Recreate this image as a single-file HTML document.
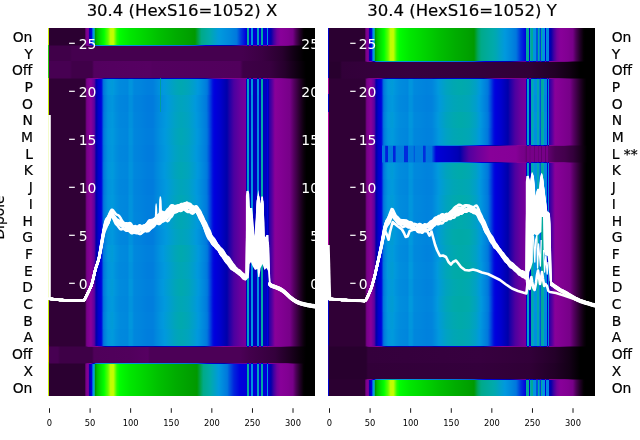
<!DOCTYPE html>
<html lang="en"><head><meta charset="utf-8"><title>30.4 (HexS16=1052)</title>
<style>
html,body{margin:0;padding:0;background:#fff;}
body{width:640px;height:440px;overflow:hidden;}
svg{display:block;will-change:transform;}
</style></head><body>
<svg width="640" height="440" viewBox="0 0 640 440">
<defs>
<linearGradient id="g0" gradientUnits="userSpaceOnUse" x1="48.00" y1="0" x2="315.30" y2="0"><stop offset="0.0000" stop-color="#2b0031"/><stop offset="0.1369" stop-color="#2b0031"/><stop offset="0.1421" stop-color="#770088"/><stop offset="0.1437" stop-color="#7a008b"/><stop offset="0.1508" stop-color="#880099"/><stop offset="0.1556" stop-color="#0000aa"/><stop offset="0.1627" stop-color="#0000dd"/><stop offset="0.1674" stop-color="#0077dd"/><stop offset="0.1684" stop-color="#007edd"/><stop offset="0.1703" stop-color="#0099dd"/><stop offset="0.1727" stop-color="#00aaaa"/><stop offset="0.1732" stop-color="#00aaa3"/><stop offset="0.1752" stop-color="#00aa88"/><stop offset="0.1777" stop-color="#009900"/><stop offset="0.1833" stop-color="#00bb00"/><stop offset="0.1945" stop-color="#00dd00"/><stop offset="0.2095" stop-color="#00ff00"/><stop offset="0.2245" stop-color="#5dff00"/><stop offset="0.2338" stop-color="#bbff00"/><stop offset="0.2357" stop-color="#c0fd00"/><stop offset="0.2413" stop-color="#c5fc00"/><stop offset="0.2450" stop-color="#bbff00"/><stop offset="0.2469" stop-color="#a8ff00"/><stop offset="0.2581" stop-color="#25ff00"/><stop offset="0.2675" stop-color="#00ff00"/><stop offset="0.2768" stop-color="#00f800"/><stop offset="0.3068" stop-color="#00e700"/><stop offset="0.3348" stop-color="#00dd00"/><stop offset="0.3629" stop-color="#00d300"/><stop offset="0.4190" stop-color="#00be00"/><stop offset="0.4302" stop-color="#00bb00"/><stop offset="0.4751" stop-color="#00ad00"/><stop offset="0.5238" stop-color="#00a100"/><stop offset="0.5499" stop-color="#009900"/><stop offset="0.5686" stop-color="#00a76d"/><stop offset="0.5743" stop-color="#00aa88"/><stop offset="0.5911" stop-color="#00aa9c"/><stop offset="0.6039" stop-color="#00aaaa"/><stop offset="0.6135" stop-color="#00a5b9"/><stop offset="0.6360" stop-color="#009bd8"/><stop offset="0.6435" stop-color="#0099dd"/><stop offset="0.6584" stop-color="#0092dd"/><stop offset="0.6809" stop-color="#0088dd"/><stop offset="0.7033" stop-color="#007add"/><stop offset="0.7063" stop-color="#0077dd"/><stop offset="0.7183" stop-color="#0047dd"/><stop offset="0.7407" stop-color="#0000dd"/><stop offset="0.7419" stop-color="#0000d8"/><stop offset="0.7434" stop-color="#0000d8"/><stop offset="0.7434" stop-color="#0000dc"/><stop offset="0.7439" stop-color="#0077dd"/><stop offset="0.7444" stop-color="#0099dc"/><stop offset="0.7449" stop-color="#00aaab"/><stop offset="0.7450" stop-color="#00aaa3"/><stop offset="0.7507" stop-color="#00aaa3"/><stop offset="0.7508" stop-color="#00aaab"/><stop offset="0.7513" stop-color="#0099dc"/><stop offset="0.7518" stop-color="#0077dd"/><stop offset="0.7523" stop-color="#0000dc"/><stop offset="0.7523" stop-color="#0000d8"/><stop offset="0.7587" stop-color="#0000d8"/><stop offset="0.7588" stop-color="#0000dc"/><stop offset="0.7597" stop-color="#0077dd"/><stop offset="0.7604" stop-color="#0092dd"/><stop offset="0.7667" stop-color="#0092dd"/><stop offset="0.7675" stop-color="#0077dd"/><stop offset="0.7684" stop-color="#0000dc"/><stop offset="0.7684" stop-color="#0000d8"/><stop offset="0.7810" stop-color="#0000d8"/><stop offset="0.7810" stop-color="#0002dd"/><stop offset="0.7816" stop-color="#0075dd"/><stop offset="0.7823" stop-color="#0099dd"/><stop offset="0.7826" stop-color="#00a3be"/><stop offset="0.7886" stop-color="#00a3be"/><stop offset="0.7890" stop-color="#0099dd"/><stop offset="0.7896" stop-color="#0075dd"/><stop offset="0.7902" stop-color="#0002dd"/><stop offset="0.7903" stop-color="#0000d8"/><stop offset="0.7954" stop-color="#0000d8"/><stop offset="0.7954" stop-color="#0000dc"/><stop offset="0.7959" stop-color="#0077dd"/><stop offset="0.7964" stop-color="#0099dc"/><stop offset="0.7969" stop-color="#00aaab"/><stop offset="0.7970" stop-color="#00aaa3"/><stop offset="0.8034" stop-color="#00aaa3"/><stop offset="0.8035" stop-color="#00aaab"/><stop offset="0.8040" stop-color="#0099dc"/><stop offset="0.8045" stop-color="#0077dd"/><stop offset="0.8051" stop-color="#0000dc"/><stop offset="0.8051" stop-color="#0000d8"/><stop offset="0.8182" stop-color="#0000d8"/><stop offset="0.8183" stop-color="#0000dc"/><stop offset="0.8192" stop-color="#0077dd"/><stop offset="0.8199" stop-color="#0092dd"/><stop offset="0.8225" stop-color="#0092dd"/><stop offset="0.8232" stop-color="#0077dd"/><stop offset="0.8241" stop-color="#0000dc"/><stop offset="0.8242" stop-color="#0000d8"/><stop offset="0.8253" stop-color="#0000c8"/><stop offset="0.8279" stop-color="#0000be"/><stop offset="0.8345" stop-color="#0000aa"/><stop offset="0.8361" stop-color="#0e00a8"/><stop offset="0.8455" stop-color="#4400a2"/><stop offset="0.8567" stop-color="#72009c"/><stop offset="0.8703" stop-color="#880099"/><stop offset="0.8754" stop-color="#870098"/><stop offset="0.8979" stop-color="#810092"/><stop offset="0.9128" stop-color="#79008a"/><stop offset="0.9161" stop-color="#770088"/><stop offset="0.9278" stop-color="#4c0057"/><stop offset="0.9428" stop-color="#210026"/><stop offset="0.9559" stop-color="#050005"/><stop offset="0.9615" stop-color="#000000"/></linearGradient>
<linearGradient id="g1" gradientUnits="userSpaceOnUse" x1="48.00" y1="0" x2="315.30" y2="0"><stop offset="0.0000" stop-color="#400049"/><stop offset="0.0823" stop-color="#400049"/><stop offset="0.0898" stop-color="#45004f"/><stop offset="0.7258" stop-color="#45004f"/><stop offset="0.8006" stop-color="#3b0043"/><stop offset="0.8754" stop-color="#29002f"/><stop offset="0.9203" stop-color="#110014"/><stop offset="0.9577" stop-color="#000000"/></linearGradient>
<linearGradient id="g2" gradientUnits="userSpaceOnUse" x1="48.00" y1="0" x2="315.30" y2="0"><stop offset="0.0000" stop-color="#470052"/><stop offset="0.0823" stop-color="#470052"/><stop offset="0.0898" stop-color="#400049"/><stop offset="0.1646" stop-color="#400049"/><stop offset="0.1721" stop-color="#53005f"/><stop offset="0.3816" stop-color="#560062"/><stop offset="0.3891" stop-color="#53005f"/><stop offset="0.7183" stop-color="#51005c"/><stop offset="0.7295" stop-color="#3e0047"/><stop offset="0.8305" stop-color="#390041"/><stop offset="0.8866" stop-color="#26002c"/><stop offset="0.9353" stop-color="#0e0010"/><stop offset="0.9652" stop-color="#000000"/></linearGradient>
<linearGradient id="g3" gradientUnits="userSpaceOnUse" x1="48.00" y1="0" x2="315.30" y2="0"><stop offset="0.0000" stop-color="#300036"/><stop offset="0.1384" stop-color="#300036"/><stop offset="0.1449" stop-color="#770088"/><stop offset="0.1470" stop-color="#7a008b"/><stop offset="0.1590" stop-color="#870098"/><stop offset="0.1607" stop-color="#880099"/><stop offset="0.1732" stop-color="#5f009e"/><stop offset="0.1803" stop-color="#0000aa"/><stop offset="0.1893" stop-color="#0000ce"/><stop offset="0.1973" stop-color="#0000dd"/><stop offset="0.2001" stop-color="#000ddd"/><stop offset="0.2076" stop-color="#0072dd"/><stop offset="0.2083" stop-color="#0077dd"/><stop offset="0.2151" stop-color="#0086dd"/><stop offset="0.2245" stop-color="#0097dd"/><stop offset="0.2310" stop-color="#0099dd"/><stop offset="0.2413" stop-color="#009ad9"/><stop offset="0.2447" stop-color="#0099dd"/><stop offset="0.2544" stop-color="#0092dd"/><stop offset="0.2694" stop-color="#008add"/><stop offset="0.2974" stop-color="#0087dd"/><stop offset="0.3049" stop-color="#0094dd"/><stop offset="0.3143" stop-color="#0094dd"/><stop offset="0.3217" stop-color="#0087dd"/><stop offset="0.3442" stop-color="#0085dd"/><stop offset="0.3704" stop-color="#007fdd"/><stop offset="0.3928" stop-color="#007fdd"/><stop offset="0.4040" stop-color="#0087dd"/><stop offset="0.4190" stop-color="#0092dd"/><stop offset="0.4337" stop-color="#0099dd"/><stop offset="0.4489" stop-color="#009dd1"/><stop offset="0.4751" stop-color="#00a4bc"/><stop offset="0.4976" stop-color="#00a8b0"/><stop offset="0.5238" stop-color="#00a4bb"/><stop offset="0.5462" stop-color="#009ece"/><stop offset="0.5604" stop-color="#0099dd"/><stop offset="0.5649" stop-color="#0096dd"/><stop offset="0.5874" stop-color="#0082dd"/><stop offset="0.5956" stop-color="#0077dd"/><stop offset="0.6023" stop-color="#0058dd"/><stop offset="0.6173" stop-color="#000ddd"/><stop offset="0.6241" stop-color="#0000dd"/><stop offset="0.6435" stop-color="#0000ce"/><stop offset="0.6622" stop-color="#0000b4"/><stop offset="0.6697" stop-color="#0000aa"/><stop offset="0.6771" stop-color="#1b00a7"/><stop offset="0.6958" stop-color="#4c00a0"/><stop offset="0.7183" stop-color="#67009d"/><stop offset="0.7407" stop-color="#78009b"/><stop offset="0.7415" stop-color="#0000aa"/><stop offset="0.7419" stop-color="#0000c0"/><stop offset="0.7434" stop-color="#0000c0"/><stop offset="0.7437" stop-color="#0000dd"/><stop offset="0.7442" stop-color="#0078dd"/><stop offset="0.7447" stop-color="#0099dd"/><stop offset="0.7450" stop-color="#00a2c1"/><stop offset="0.7507" stop-color="#00a2c1"/><stop offset="0.7510" stop-color="#0099dd"/><stop offset="0.7515" stop-color="#0078dd"/><stop offset="0.7520" stop-color="#0000dd"/><stop offset="0.7523" stop-color="#0000c0"/><stop offset="0.7587" stop-color="#0000c0"/><stop offset="0.7591" stop-color="#0000dc"/><stop offset="0.7597" stop-color="#0074dd"/><stop offset="0.7604" stop-color="#0096dd"/><stop offset="0.7667" stop-color="#0096dd"/><stop offset="0.7674" stop-color="#0074dd"/><stop offset="0.7681" stop-color="#0000dc"/><stop offset="0.7684" stop-color="#0000c0"/><stop offset="0.7810" stop-color="#0000c0"/><stop offset="0.7814" stop-color="#0000dd"/><stop offset="0.7821" stop-color="#0076dd"/><stop offset="0.7826" stop-color="#008fdd"/><stop offset="0.7886" stop-color="#008fdd"/><stop offset="0.7892" stop-color="#0076dd"/><stop offset="0.7899" stop-color="#0000dd"/><stop offset="0.7903" stop-color="#0000c0"/><stop offset="0.7954" stop-color="#0000c0"/><stop offset="0.7956" stop-color="#0003dd"/><stop offset="0.7961" stop-color="#0078dd"/><stop offset="0.7965" stop-color="#0099dc"/><stop offset="0.7970" stop-color="#00aaaa"/><stop offset="0.7970" stop-color="#00aaa4"/><stop offset="0.8034" stop-color="#00aaa4"/><stop offset="0.8035" stop-color="#00aaaa"/><stop offset="0.8039" stop-color="#0099dc"/><stop offset="0.8044" stop-color="#0078dd"/><stop offset="0.8048" stop-color="#0003dd"/><stop offset="0.8051" stop-color="#0000c0"/><stop offset="0.8182" stop-color="#0000c0"/><stop offset="0.8199" stop-color="#0000dd"/><stop offset="0.8225" stop-color="#0000dd"/><stop offset="0.8242" stop-color="#0000c0"/><stop offset="0.8253" stop-color="#0000b2"/><stop offset="0.8262" stop-color="#0000aa"/><stop offset="0.8279" stop-color="#2900a5"/><stop offset="0.8380" stop-color="#5200a0"/><stop offset="0.8492" stop-color="#880099"/><stop offset="0.8679" stop-color="#830094"/><stop offset="0.8866" stop-color="#7d008e"/><stop offset="0.9053" stop-color="#770088"/><stop offset="0.9203" stop-color="#53005f"/><stop offset="0.9315" stop-color="#3c0044"/><stop offset="0.9465" stop-color="#1d0021"/><stop offset="0.9577" stop-color="#0a000b"/><stop offset="0.9671" stop-color="#000000"/></linearGradient>
<linearGradient id="g4" gradientUnits="userSpaceOnUse" x1="48.00" y1="0" x2="315.30" y2="0"><stop offset="0.0000" stop-color="#300036"/><stop offset="0.1384" stop-color="#300036"/><stop offset="0.1449" stop-color="#770088"/><stop offset="0.1470" stop-color="#7a008b"/><stop offset="0.1590" stop-color="#870098"/><stop offset="0.1607" stop-color="#880099"/><stop offset="0.1732" stop-color="#5f009e"/><stop offset="0.1803" stop-color="#0000aa"/><stop offset="0.1893" stop-color="#0000ce"/><stop offset="0.1975" stop-color="#0000dd"/><stop offset="0.2001" stop-color="#000cdd"/><stop offset="0.2076" stop-color="#0068dd"/><stop offset="0.2098" stop-color="#0077dd"/><stop offset="0.2151" stop-color="#0082dd"/><stop offset="0.2245" stop-color="#0092dd"/><stop offset="0.2413" stop-color="#0096dd"/><stop offset="0.2544" stop-color="#008cdd"/><stop offset="0.2694" stop-color="#0086dd"/><stop offset="0.2974" stop-color="#0083dd"/><stop offset="0.3049" stop-color="#008fdd"/><stop offset="0.3143" stop-color="#008fdd"/><stop offset="0.3217" stop-color="#0083dd"/><stop offset="0.3442" stop-color="#0081dd"/><stop offset="0.3704" stop-color="#007bdd"/><stop offset="0.3928" stop-color="#007bdd"/><stop offset="0.4040" stop-color="#0083dd"/><stop offset="0.4190" stop-color="#008cdd"/><stop offset="0.4462" stop-color="#0099dd"/><stop offset="0.4489" stop-color="#009adb"/><stop offset="0.4751" stop-color="#00a0c7"/><stop offset="0.4976" stop-color="#00a4bc"/><stop offset="0.5238" stop-color="#00a1c6"/><stop offset="0.5462" stop-color="#009bd8"/><stop offset="0.5513" stop-color="#0099dd"/><stop offset="0.5649" stop-color="#0090dd"/><stop offset="0.5874" stop-color="#007edd"/><stop offset="0.5932" stop-color="#0077dd"/><stop offset="0.6023" stop-color="#0051dd"/><stop offset="0.6173" stop-color="#000cdd"/><stop offset="0.6237" stop-color="#0000dd"/><stop offset="0.6435" stop-color="#0000ce"/><stop offset="0.6622" stop-color="#0000b4"/><stop offset="0.6697" stop-color="#0000aa"/><stop offset="0.6771" stop-color="#1b00a7"/><stop offset="0.6958" stop-color="#4c00a0"/><stop offset="0.7183" stop-color="#67009d"/><stop offset="0.7407" stop-color="#78009b"/><stop offset="0.7415" stop-color="#0000aa"/><stop offset="0.7419" stop-color="#0000c0"/><stop offset="0.7434" stop-color="#0000c0"/><stop offset="0.7437" stop-color="#0002dd"/><stop offset="0.7443" stop-color="#0075dd"/><stop offset="0.7449" stop-color="#0099dd"/><stop offset="0.7450" stop-color="#009fcc"/><stop offset="0.7507" stop-color="#009fcc"/><stop offset="0.7508" stop-color="#0099dd"/><stop offset="0.7514" stop-color="#0075dd"/><stop offset="0.7520" stop-color="#0002dd"/><stop offset="0.7523" stop-color="#0000c0"/><stop offset="0.7587" stop-color="#0000c0"/><stop offset="0.7591" stop-color="#0000dd"/><stop offset="0.7598" stop-color="#0074dd"/><stop offset="0.7604" stop-color="#0090dd"/><stop offset="0.7667" stop-color="#0090dd"/><stop offset="0.7673" stop-color="#0074dd"/><stop offset="0.7680" stop-color="#0000dd"/><stop offset="0.7684" stop-color="#0000c0"/><stop offset="0.7810" stop-color="#0000c0"/><stop offset="0.7814" stop-color="#0000dd"/><stop offset="0.7822" stop-color="#0076dd"/><stop offset="0.7826" stop-color="#008add"/><stop offset="0.7886" stop-color="#008add"/><stop offset="0.7891" stop-color="#0076dd"/><stop offset="0.7899" stop-color="#0000dd"/><stop offset="0.7903" stop-color="#0000c0"/><stop offset="0.7954" stop-color="#0000c0"/><stop offset="0.7956" stop-color="#0000dc"/><stop offset="0.7961" stop-color="#0075dd"/><stop offset="0.7966" stop-color="#0098dd"/><stop offset="0.7970" stop-color="#00a8af"/><stop offset="0.8034" stop-color="#00a8af"/><stop offset="0.8039" stop-color="#0098dd"/><stop offset="0.8043" stop-color="#0075dd"/><stop offset="0.8048" stop-color="#0000dc"/><stop offset="0.8051" stop-color="#0000c0"/><stop offset="0.8182" stop-color="#0000c0"/><stop offset="0.8199" stop-color="#0000dd"/><stop offset="0.8225" stop-color="#0000dd"/><stop offset="0.8242" stop-color="#0000c0"/><stop offset="0.8253" stop-color="#0000b2"/><stop offset="0.8262" stop-color="#0000aa"/><stop offset="0.8279" stop-color="#2900a5"/><stop offset="0.8380" stop-color="#5200a0"/><stop offset="0.8492" stop-color="#880099"/><stop offset="0.8679" stop-color="#830094"/><stop offset="0.8866" stop-color="#7d008e"/><stop offset="0.9053" stop-color="#770088"/><stop offset="0.9203" stop-color="#53005f"/><stop offset="0.9315" stop-color="#3c0044"/><stop offset="0.9465" stop-color="#1d0021"/><stop offset="0.9577" stop-color="#0a000b"/><stop offset="0.9671" stop-color="#000000"/></linearGradient>
<linearGradient id="g5" gradientUnits="userSpaceOnUse" x1="48.00" y1="0" x2="315.30" y2="0"><stop offset="0.0000" stop-color="#300036"/><stop offset="0.1384" stop-color="#300036"/><stop offset="0.1449" stop-color="#770088"/><stop offset="0.1470" stop-color="#7a008b"/><stop offset="0.1590" stop-color="#870098"/><stop offset="0.1607" stop-color="#880099"/><stop offset="0.1732" stop-color="#5f009e"/><stop offset="0.1803" stop-color="#0000aa"/><stop offset="0.1893" stop-color="#0000ce"/><stop offset="0.1975" stop-color="#0000dd"/><stop offset="0.2001" stop-color="#000cdd"/><stop offset="0.2076" stop-color="#006bdd"/><stop offset="0.2092" stop-color="#0077dd"/><stop offset="0.2151" stop-color="#0083dd"/><stop offset="0.2245" stop-color="#0094dd"/><stop offset="0.2413" stop-color="#0098dd"/><stop offset="0.2544" stop-color="#008edd"/><stop offset="0.2694" stop-color="#0087dd"/><stop offset="0.2974" stop-color="#0085dd"/><stop offset="0.3049" stop-color="#0091dd"/><stop offset="0.3143" stop-color="#0091dd"/><stop offset="0.3217" stop-color="#0085dd"/><stop offset="0.3442" stop-color="#0082dd"/><stop offset="0.3704" stop-color="#007cdd"/><stop offset="0.3928" stop-color="#007cdd"/><stop offset="0.4040" stop-color="#0085dd"/><stop offset="0.4190" stop-color="#008edd"/><stop offset="0.4418" stop-color="#0099dd"/><stop offset="0.4489" stop-color="#009bd8"/><stop offset="0.4751" stop-color="#00a2c4"/><stop offset="0.4976" stop-color="#00a5b8"/><stop offset="0.5238" stop-color="#00a2c2"/><stop offset="0.5462" stop-color="#009cd5"/><stop offset="0.5545" stop-color="#0099dd"/><stop offset="0.5649" stop-color="#0092dd"/><stop offset="0.5874" stop-color="#007fdd"/><stop offset="0.5940" stop-color="#0077dd"/><stop offset="0.6023" stop-color="#0053dd"/><stop offset="0.6173" stop-color="#000cdd"/><stop offset="0.6238" stop-color="#0000dd"/><stop offset="0.6435" stop-color="#0000ce"/><stop offset="0.6622" stop-color="#0000b4"/><stop offset="0.6697" stop-color="#0000aa"/><stop offset="0.6771" stop-color="#1b00a7"/><stop offset="0.6958" stop-color="#4c00a0"/><stop offset="0.7183" stop-color="#67009d"/><stop offset="0.7407" stop-color="#78009b"/><stop offset="0.7415" stop-color="#0000aa"/><stop offset="0.7419" stop-color="#0000c0"/><stop offset="0.7434" stop-color="#0000c0"/><stop offset="0.7437" stop-color="#0004dd"/><stop offset="0.7443" stop-color="#0078dd"/><stop offset="0.7448" stop-color="#0099dd"/><stop offset="0.7450" stop-color="#00a0c9"/><stop offset="0.7507" stop-color="#00a0c9"/><stop offset="0.7509" stop-color="#0099dd"/><stop offset="0.7514" stop-color="#0078dd"/><stop offset="0.7520" stop-color="#0004dd"/><stop offset="0.7523" stop-color="#0000c0"/><stop offset="0.7587" stop-color="#0000c0"/><stop offset="0.7591" stop-color="#0002dd"/><stop offset="0.7598" stop-color="#0077dd"/><stop offset="0.7604" stop-color="#0092dd"/><stop offset="0.7667" stop-color="#0092dd"/><stop offset="0.7673" stop-color="#0077dd"/><stop offset="0.7680" stop-color="#0002dd"/><stop offset="0.7684" stop-color="#0000c0"/><stop offset="0.7810" stop-color="#0000c0"/><stop offset="0.7814" stop-color="#0002dd"/><stop offset="0.7822" stop-color="#0078dd"/><stop offset="0.7826" stop-color="#008bdd"/><stop offset="0.7886" stop-color="#008bdd"/><stop offset="0.7891" stop-color="#0078dd"/><stop offset="0.7899" stop-color="#0002dd"/><stop offset="0.7903" stop-color="#0000c0"/><stop offset="0.7954" stop-color="#0000c0"/><stop offset="0.7956" stop-color="#0000dd"/><stop offset="0.7961" stop-color="#0078dd"/><stop offset="0.7966" stop-color="#0098dd"/><stop offset="0.7970" stop-color="#00aaaa"/><stop offset="0.8034" stop-color="#00aaaa"/><stop offset="0.8039" stop-color="#0098dd"/><stop offset="0.8043" stop-color="#0078dd"/><stop offset="0.8048" stop-color="#0000dd"/><stop offset="0.8051" stop-color="#0000c0"/><stop offset="0.8182" stop-color="#0000c0"/><stop offset="0.8199" stop-color="#0000dd"/><stop offset="0.8225" stop-color="#0000dd"/><stop offset="0.8242" stop-color="#0000c0"/><stop offset="0.8253" stop-color="#0000b2"/><stop offset="0.8262" stop-color="#0000aa"/><stop offset="0.8279" stop-color="#2900a5"/><stop offset="0.8380" stop-color="#5200a0"/><stop offset="0.8492" stop-color="#880099"/><stop offset="0.8679" stop-color="#830094"/><stop offset="0.8866" stop-color="#7d008e"/><stop offset="0.9053" stop-color="#770088"/><stop offset="0.9203" stop-color="#53005f"/><stop offset="0.9315" stop-color="#3c0044"/><stop offset="0.9465" stop-color="#1d0021"/><stop offset="0.9577" stop-color="#0a000b"/><stop offset="0.9671" stop-color="#000000"/></linearGradient>
<linearGradient id="g6" gradientUnits="userSpaceOnUse" x1="48.00" y1="0" x2="315.30" y2="0"><stop offset="0.0000" stop-color="#300036"/><stop offset="0.1384" stop-color="#300036"/><stop offset="0.1449" stop-color="#770088"/><stop offset="0.1470" stop-color="#7a008b"/><stop offset="0.1590" stop-color="#870098"/><stop offset="0.1607" stop-color="#880099"/><stop offset="0.1732" stop-color="#5f009e"/><stop offset="0.1803" stop-color="#0000aa"/><stop offset="0.1893" stop-color="#0000ce"/><stop offset="0.1974" stop-color="#0000dd"/><stop offset="0.2001" stop-color="#000cdd"/><stop offset="0.2076" stop-color="#006edd"/><stop offset="0.2088" stop-color="#0077dd"/><stop offset="0.2151" stop-color="#0085dd"/><stop offset="0.2245" stop-color="#0095dd"/><stop offset="0.2388" stop-color="#0099dd"/><stop offset="0.2413" stop-color="#0099dc"/><stop offset="0.2422" stop-color="#0099dd"/><stop offset="0.2544" stop-color="#0090dd"/><stop offset="0.2694" stop-color="#0089dd"/><stop offset="0.2974" stop-color="#0086dd"/><stop offset="0.3049" stop-color="#0093dd"/><stop offset="0.3143" stop-color="#0093dd"/><stop offset="0.3217" stop-color="#0086dd"/><stop offset="0.3442" stop-color="#0083dd"/><stop offset="0.3704" stop-color="#007edd"/><stop offset="0.3928" stop-color="#007edd"/><stop offset="0.4040" stop-color="#0086dd"/><stop offset="0.4190" stop-color="#0090dd"/><stop offset="0.4377" stop-color="#0099dd"/><stop offset="0.4489" stop-color="#009cd5"/><stop offset="0.4751" stop-color="#00a3c0"/><stop offset="0.4976" stop-color="#00a7b4"/><stop offset="0.5238" stop-color="#00a3bf"/><stop offset="0.5462" stop-color="#009dd2"/><stop offset="0.5575" stop-color="#0099dd"/><stop offset="0.5649" stop-color="#0094dd"/><stop offset="0.5874" stop-color="#0080dd"/><stop offset="0.5948" stop-color="#0077dd"/><stop offset="0.6023" stop-color="#0056dd"/><stop offset="0.6173" stop-color="#000cdd"/><stop offset="0.6240" stop-color="#0000dd"/><stop offset="0.6435" stop-color="#0000ce"/><stop offset="0.6622" stop-color="#0000b4"/><stop offset="0.6697" stop-color="#0000aa"/><stop offset="0.6771" stop-color="#1b00a7"/><stop offset="0.6958" stop-color="#4c00a0"/><stop offset="0.7183" stop-color="#67009d"/><stop offset="0.7407" stop-color="#78009b"/><stop offset="0.7415" stop-color="#0000aa"/><stop offset="0.7419" stop-color="#0000c0"/><stop offset="0.7434" stop-color="#0000c0"/><stop offset="0.7437" stop-color="#0000dc"/><stop offset="0.7442" stop-color="#0076dd"/><stop offset="0.7448" stop-color="#0099dd"/><stop offset="0.7450" stop-color="#00a1c5"/><stop offset="0.7507" stop-color="#00a1c5"/><stop offset="0.7509" stop-color="#0099dd"/><stop offset="0.7515" stop-color="#0076dd"/><stop offset="0.7520" stop-color="#0000dc"/><stop offset="0.7523" stop-color="#0000c0"/><stop offset="0.7587" stop-color="#0000c0"/><stop offset="0.7591" stop-color="#0000dc"/><stop offset="0.7598" stop-color="#0076dd"/><stop offset="0.7604" stop-color="#0094dd"/><stop offset="0.7667" stop-color="#0094dd"/><stop offset="0.7673" stop-color="#0076dd"/><stop offset="0.7681" stop-color="#0000dc"/><stop offset="0.7684" stop-color="#0000c0"/><stop offset="0.7810" stop-color="#0000c0"/><stop offset="0.7814" stop-color="#0000dc"/><stop offset="0.7822" stop-color="#0077dd"/><stop offset="0.7826" stop-color="#008ddd"/><stop offset="0.7886" stop-color="#008ddd"/><stop offset="0.7891" stop-color="#0077dd"/><stop offset="0.7899" stop-color="#0000dc"/><stop offset="0.7903" stop-color="#0000c0"/><stop offset="0.7954" stop-color="#0000c0"/><stop offset="0.7956" stop-color="#0001dd"/><stop offset="0.7961" stop-color="#0075dd"/><stop offset="0.7966" stop-color="#009adb"/><stop offset="0.7970" stop-color="#00aaaa"/><stop offset="0.7970" stop-color="#00aaa7"/><stop offset="0.8034" stop-color="#00aaa7"/><stop offset="0.8034" stop-color="#00aaaa"/><stop offset="0.8039" stop-color="#009adb"/><stop offset="0.8044" stop-color="#0075dd"/><stop offset="0.8048" stop-color="#0001dd"/><stop offset="0.8051" stop-color="#0000c0"/><stop offset="0.8182" stop-color="#0000c0"/><stop offset="0.8199" stop-color="#0000dd"/><stop offset="0.8225" stop-color="#0000dd"/><stop offset="0.8242" stop-color="#0000c0"/><stop offset="0.8253" stop-color="#0000b2"/><stop offset="0.8262" stop-color="#0000aa"/><stop offset="0.8279" stop-color="#2900a5"/><stop offset="0.8380" stop-color="#5200a0"/><stop offset="0.8492" stop-color="#880099"/><stop offset="0.8679" stop-color="#830094"/><stop offset="0.8866" stop-color="#7d008e"/><stop offset="0.9053" stop-color="#770088"/><stop offset="0.9203" stop-color="#53005f"/><stop offset="0.9315" stop-color="#3c0044"/><stop offset="0.9465" stop-color="#1d0021"/><stop offset="0.9577" stop-color="#0a000b"/><stop offset="0.9671" stop-color="#000000"/></linearGradient>
<linearGradient id="g7" gradientUnits="userSpaceOnUse" x1="48.00" y1="0" x2="315.30" y2="0"><stop offset="0.0000" stop-color="#300036"/><stop offset="0.1384" stop-color="#300036"/><stop offset="0.1449" stop-color="#770088"/><stop offset="0.1470" stop-color="#7a008b"/><stop offset="0.1590" stop-color="#870098"/><stop offset="0.1607" stop-color="#880099"/><stop offset="0.1732" stop-color="#5f009e"/><stop offset="0.1803" stop-color="#0000aa"/><stop offset="0.1893" stop-color="#0000ce"/><stop offset="0.1973" stop-color="#0000dd"/><stop offset="0.2001" stop-color="#000cdd"/><stop offset="0.2076" stop-color="#006fdd"/><stop offset="0.2086" stop-color="#0077dd"/><stop offset="0.2151" stop-color="#0085dd"/><stop offset="0.2245" stop-color="#0096dd"/><stop offset="0.2361" stop-color="#0099dd"/><stop offset="0.2413" stop-color="#009adb"/><stop offset="0.2430" stop-color="#0099dd"/><stop offset="0.2544" stop-color="#0090dd"/><stop offset="0.2694" stop-color="#0089dd"/><stop offset="0.2974" stop-color="#0087dd"/><stop offset="0.3049" stop-color="#0093dd"/><stop offset="0.3143" stop-color="#0093dd"/><stop offset="0.3217" stop-color="#0087dd"/><stop offset="0.3442" stop-color="#0084dd"/><stop offset="0.3704" stop-color="#007edd"/><stop offset="0.3928" stop-color="#007edd"/><stop offset="0.4040" stop-color="#0087dd"/><stop offset="0.4190" stop-color="#0090dd"/><stop offset="0.4363" stop-color="#0099dd"/><stop offset="0.4489" stop-color="#009cd4"/><stop offset="0.4751" stop-color="#00a3be"/><stop offset="0.4976" stop-color="#00a7b3"/><stop offset="0.5238" stop-color="#00a4bd"/><stop offset="0.5462" stop-color="#009dd0"/><stop offset="0.5585" stop-color="#0099dd"/><stop offset="0.5649" stop-color="#0095dd"/><stop offset="0.5874" stop-color="#0081dd"/><stop offset="0.5951" stop-color="#0077dd"/><stop offset="0.6023" stop-color="#0057dd"/><stop offset="0.6173" stop-color="#000cdd"/><stop offset="0.6240" stop-color="#0000dd"/><stop offset="0.6435" stop-color="#0000ce"/><stop offset="0.6622" stop-color="#0000b4"/><stop offset="0.6697" stop-color="#0000aa"/><stop offset="0.6771" stop-color="#1b00a7"/><stop offset="0.6958" stop-color="#4c00a0"/><stop offset="0.7183" stop-color="#67009d"/><stop offset="0.7407" stop-color="#78009b"/><stop offset="0.7415" stop-color="#0000aa"/><stop offset="0.7419" stop-color="#0000c0"/><stop offset="0.7434" stop-color="#0000c0"/><stop offset="0.7437" stop-color="#0000dc"/><stop offset="0.7442" stop-color="#0077dd"/><stop offset="0.7448" stop-color="#0099dc"/><stop offset="0.7450" stop-color="#00a1c4"/><stop offset="0.7507" stop-color="#00a1c4"/><stop offset="0.7509" stop-color="#0099dc"/><stop offset="0.7515" stop-color="#0077dd"/><stop offset="0.7520" stop-color="#0000dc"/><stop offset="0.7523" stop-color="#0000c0"/><stop offset="0.7587" stop-color="#0000c0"/><stop offset="0.7591" stop-color="#0000dc"/><stop offset="0.7598" stop-color="#0077dd"/><stop offset="0.7604" stop-color="#0095dd"/><stop offset="0.7667" stop-color="#0095dd"/><stop offset="0.7673" stop-color="#0077dd"/><stop offset="0.7681" stop-color="#0000dc"/><stop offset="0.7684" stop-color="#0000c0"/><stop offset="0.7810" stop-color="#0000c0"/><stop offset="0.7814" stop-color="#0000dc"/><stop offset="0.7822" stop-color="#0078dd"/><stop offset="0.7826" stop-color="#008edd"/><stop offset="0.7886" stop-color="#008edd"/><stop offset="0.7891" stop-color="#0078dd"/><stop offset="0.7899" stop-color="#0000dc"/><stop offset="0.7903" stop-color="#0000c0"/><stop offset="0.7954" stop-color="#0000c0"/><stop offset="0.7956" stop-color="#0001dd"/><stop offset="0.7961" stop-color="#0076dd"/><stop offset="0.7965" stop-color="#0098dd"/><stop offset="0.7970" stop-color="#00aaa9"/><stop offset="0.7970" stop-color="#00aaa6"/><stop offset="0.8034" stop-color="#00aaa6"/><stop offset="0.8034" stop-color="#00aaa9"/><stop offset="0.8039" stop-color="#0098dd"/><stop offset="0.8044" stop-color="#0076dd"/><stop offset="0.8048" stop-color="#0001dd"/><stop offset="0.8051" stop-color="#0000c0"/><stop offset="0.8182" stop-color="#0000c0"/><stop offset="0.8199" stop-color="#0000dd"/><stop offset="0.8225" stop-color="#0000dd"/><stop offset="0.8242" stop-color="#0000c0"/><stop offset="0.8253" stop-color="#0000b2"/><stop offset="0.8262" stop-color="#0000aa"/><stop offset="0.8279" stop-color="#2900a5"/><stop offset="0.8380" stop-color="#5200a0"/><stop offset="0.8492" stop-color="#880099"/><stop offset="0.8679" stop-color="#830094"/><stop offset="0.8866" stop-color="#7d008e"/><stop offset="0.9053" stop-color="#770088"/><stop offset="0.9203" stop-color="#53005f"/><stop offset="0.9315" stop-color="#3c0044"/><stop offset="0.9465" stop-color="#1d0021"/><stop offset="0.9577" stop-color="#0a000b"/><stop offset="0.9671" stop-color="#000000"/></linearGradient>
<linearGradient id="g8" gradientUnits="userSpaceOnUse" x1="48.00" y1="0" x2="315.30" y2="0"><stop offset="0.0000" stop-color="#300036"/><stop offset="0.1384" stop-color="#300036"/><stop offset="0.1449" stop-color="#770088"/><stop offset="0.1470" stop-color="#7a008b"/><stop offset="0.1590" stop-color="#870098"/><stop offset="0.1607" stop-color="#880099"/><stop offset="0.1732" stop-color="#5f009e"/><stop offset="0.1803" stop-color="#0000aa"/><stop offset="0.1893" stop-color="#0000ce"/><stop offset="0.1973" stop-color="#0000dd"/><stop offset="0.2001" stop-color="#000ddd"/><stop offset="0.2076" stop-color="#0074dd"/><stop offset="0.2080" stop-color="#0077dd"/><stop offset="0.2151" stop-color="#0087dd"/><stop offset="0.2245" stop-color="#0099dd"/><stop offset="0.2261" stop-color="#0099dd"/><stop offset="0.2413" stop-color="#009bd7"/><stop offset="0.2464" stop-color="#0099dd"/><stop offset="0.2544" stop-color="#0093dd"/><stop offset="0.2694" stop-color="#008bdd"/><stop offset="0.2974" stop-color="#0088dd"/><stop offset="0.3049" stop-color="#0096dd"/><stop offset="0.3143" stop-color="#0096dd"/><stop offset="0.3217" stop-color="#0088dd"/><stop offset="0.3442" stop-color="#0085dd"/><stop offset="0.3704" stop-color="#0080dd"/><stop offset="0.3928" stop-color="#0080dd"/><stop offset="0.4040" stop-color="#0088dd"/><stop offset="0.4190" stop-color="#0093dd"/><stop offset="0.4312" stop-color="#0099dd"/><stop offset="0.4489" stop-color="#009ecf"/><stop offset="0.4751" stop-color="#00a5b9"/><stop offset="0.4976" stop-color="#00a9ad"/><stop offset="0.5238" stop-color="#00a5b8"/><stop offset="0.5462" stop-color="#009fcc"/><stop offset="0.5622" stop-color="#0099dd"/><stop offset="0.5649" stop-color="#0097dd"/><stop offset="0.5874" stop-color="#0083dd"/><stop offset="0.5961" stop-color="#0077dd"/><stop offset="0.6023" stop-color="#005add"/><stop offset="0.6173" stop-color="#000ddd"/><stop offset="0.6242" stop-color="#0000dd"/><stop offset="0.6435" stop-color="#0000ce"/><stop offset="0.6622" stop-color="#0000b4"/><stop offset="0.6697" stop-color="#0000aa"/><stop offset="0.6771" stop-color="#1b00a7"/><stop offset="0.6958" stop-color="#4c00a0"/><stop offset="0.7183" stop-color="#67009d"/><stop offset="0.7407" stop-color="#78009b"/><stop offset="0.7415" stop-color="#0000aa"/><stop offset="0.7419" stop-color="#0000c0"/><stop offset="0.7434" stop-color="#0000c0"/><stop offset="0.7437" stop-color="#0000dd"/><stop offset="0.7442" stop-color="#0075dd"/><stop offset="0.7447" stop-color="#009adb"/><stop offset="0.7450" stop-color="#00a3bf"/><stop offset="0.7507" stop-color="#00a3bf"/><stop offset="0.7510" stop-color="#009adb"/><stop offset="0.7515" stop-color="#0075dd"/><stop offset="0.7520" stop-color="#0000dd"/><stop offset="0.7523" stop-color="#0000c0"/><stop offset="0.7587" stop-color="#0000c0"/><stop offset="0.7591" stop-color="#0000dd"/><stop offset="0.7597" stop-color="#0077dd"/><stop offset="0.7604" stop-color="#0097dd"/><stop offset="0.7667" stop-color="#0097dd"/><stop offset="0.7674" stop-color="#0077dd"/><stop offset="0.7681" stop-color="#0000dd"/><stop offset="0.7684" stop-color="#0000c0"/><stop offset="0.7810" stop-color="#0000c0"/><stop offset="0.7814" stop-color="#0000dd"/><stop offset="0.7821" stop-color="#0078dd"/><stop offset="0.7826" stop-color="#0090dd"/><stop offset="0.7886" stop-color="#0090dd"/><stop offset="0.7892" stop-color="#0078dd"/><stop offset="0.7899" stop-color="#0000dd"/><stop offset="0.7903" stop-color="#0000c0"/><stop offset="0.7954" stop-color="#0000c0"/><stop offset="0.7956" stop-color="#0004dd"/><stop offset="0.7960" stop-color="#0072dd"/><stop offset="0.7965" stop-color="#0098dd"/><stop offset="0.7969" stop-color="#00aaab"/><stop offset="0.7970" stop-color="#00aaa2"/><stop offset="0.8034" stop-color="#00aaa2"/><stop offset="0.8035" stop-color="#00aaab"/><stop offset="0.8040" stop-color="#0098dd"/><stop offset="0.8044" stop-color="#0072dd"/><stop offset="0.8048" stop-color="#0004dd"/><stop offset="0.8051" stop-color="#0000c0"/><stop offset="0.8182" stop-color="#0000c0"/><stop offset="0.8199" stop-color="#0000dd"/><stop offset="0.8225" stop-color="#0000dd"/><stop offset="0.8242" stop-color="#0000c0"/><stop offset="0.8253" stop-color="#0000b2"/><stop offset="0.8262" stop-color="#0000aa"/><stop offset="0.8279" stop-color="#2900a5"/><stop offset="0.8380" stop-color="#5200a0"/><stop offset="0.8492" stop-color="#880099"/><stop offset="0.8679" stop-color="#830094"/><stop offset="0.8866" stop-color="#7d008e"/><stop offset="0.9053" stop-color="#770088"/><stop offset="0.9203" stop-color="#53005f"/><stop offset="0.9315" stop-color="#3c0044"/><stop offset="0.9465" stop-color="#1d0021"/><stop offset="0.9577" stop-color="#0a000b"/><stop offset="0.9671" stop-color="#000000"/></linearGradient>
<linearGradient id="g9" gradientUnits="userSpaceOnUse" x1="48.00" y1="0" x2="315.30" y2="0"><stop offset="0.0000" stop-color="#470052"/><stop offset="0.0374" stop-color="#470052"/><stop offset="0.0449" stop-color="#3e0047"/><stop offset="0.1646" stop-color="#3e0047"/><stop offset="0.1721" stop-color="#4f005a"/><stop offset="0.3068" stop-color="#51005c"/><stop offset="0.3741" stop-color="#560062"/><stop offset="0.3816" stop-color="#4c0057"/><stop offset="0.7183" stop-color="#4c0057"/><stop offset="0.7557" stop-color="#43004c"/><stop offset="0.8492" stop-color="#34003c"/><stop offset="0.9053" stop-color="#1d0021"/><stop offset="0.9428" stop-color="#0a000b"/><stop offset="0.9652" stop-color="#000000"/></linearGradient>
<linearGradient id="g10" gradientUnits="userSpaceOnUse" x1="48.00" y1="0" x2="315.30" y2="0"><stop offset="0.0000" stop-color="#2b0031"/><stop offset="0.1369" stop-color="#2b0031"/><stop offset="0.1421" stop-color="#770088"/><stop offset="0.1437" stop-color="#7a008b"/><stop offset="0.1508" stop-color="#880099"/><stop offset="0.1556" stop-color="#0000aa"/><stop offset="0.1627" stop-color="#0000dd"/><stop offset="0.1674" stop-color="#0077dd"/><stop offset="0.1684" stop-color="#007edd"/><stop offset="0.1703" stop-color="#0099dd"/><stop offset="0.1727" stop-color="#00aaaa"/><stop offset="0.1732" stop-color="#00aaa3"/><stop offset="0.1752" stop-color="#00aa88"/><stop offset="0.1777" stop-color="#009900"/><stop offset="0.1833" stop-color="#00bb00"/><stop offset="0.1945" stop-color="#00dd00"/><stop offset="0.2095" stop-color="#00ff00"/><stop offset="0.2245" stop-color="#5dff00"/><stop offset="0.2338" stop-color="#bbff00"/><stop offset="0.2357" stop-color="#c0fd00"/><stop offset="0.2413" stop-color="#c5fc00"/><stop offset="0.2450" stop-color="#bbff00"/><stop offset="0.2469" stop-color="#a8ff00"/><stop offset="0.2581" stop-color="#25ff00"/><stop offset="0.2675" stop-color="#00ff00"/><stop offset="0.2768" stop-color="#00f800"/><stop offset="0.3068" stop-color="#00e700"/><stop offset="0.3348" stop-color="#00dd00"/><stop offset="0.3629" stop-color="#00d300"/><stop offset="0.4190" stop-color="#00be00"/><stop offset="0.4302" stop-color="#00bb00"/><stop offset="0.4751" stop-color="#00ad00"/><stop offset="0.5238" stop-color="#00a100"/><stop offset="0.5574" stop-color="#009900"/><stop offset="0.5761" stop-color="#00a76d"/><stop offset="0.5815" stop-color="#00aa88"/><stop offset="0.5948" stop-color="#00aa99"/><stop offset="0.6082" stop-color="#00aaaa"/><stop offset="0.6135" stop-color="#00a7b4"/><stop offset="0.6360" stop-color="#009bd8"/><stop offset="0.6392" stop-color="#0099dd"/><stop offset="0.6584" stop-color="#0085dd"/><stop offset="0.6709" stop-color="#0077dd"/><stop offset="0.6771" stop-color="#005fdd"/><stop offset="0.6958" stop-color="#0024dd"/><stop offset="0.7183" stop-color="#0000dd"/><stop offset="0.7407" stop-color="#0000d8"/><stop offset="0.7434" stop-color="#0000d8"/><stop offset="0.7434" stop-color="#0000dc"/><stop offset="0.7439" stop-color="#0077dd"/><stop offset="0.7444" stop-color="#0099dc"/><stop offset="0.7449" stop-color="#00aaab"/><stop offset="0.7450" stop-color="#00aaa3"/><stop offset="0.7507" stop-color="#00aaa3"/><stop offset="0.7508" stop-color="#00aaab"/><stop offset="0.7513" stop-color="#0099dc"/><stop offset="0.7518" stop-color="#0077dd"/><stop offset="0.7523" stop-color="#0000dc"/><stop offset="0.7523" stop-color="#0000d8"/><stop offset="0.7587" stop-color="#0000d8"/><stop offset="0.7588" stop-color="#0000dc"/><stop offset="0.7597" stop-color="#0077dd"/><stop offset="0.7604" stop-color="#0092dd"/><stop offset="0.7667" stop-color="#0092dd"/><stop offset="0.7675" stop-color="#0077dd"/><stop offset="0.7684" stop-color="#0000dc"/><stop offset="0.7684" stop-color="#0000d8"/><stop offset="0.7810" stop-color="#0000d8"/><stop offset="0.7810" stop-color="#0002dd"/><stop offset="0.7816" stop-color="#0075dd"/><stop offset="0.7823" stop-color="#0099dd"/><stop offset="0.7826" stop-color="#00a3be"/><stop offset="0.7886" stop-color="#00a3be"/><stop offset="0.7890" stop-color="#0099dd"/><stop offset="0.7896" stop-color="#0075dd"/><stop offset="0.7902" stop-color="#0002dd"/><stop offset="0.7903" stop-color="#0000d8"/><stop offset="0.7954" stop-color="#0000d8"/><stop offset="0.7954" stop-color="#0000dc"/><stop offset="0.7959" stop-color="#0077dd"/><stop offset="0.7964" stop-color="#0099dc"/><stop offset="0.7969" stop-color="#00aaab"/><stop offset="0.7970" stop-color="#00aaa3"/><stop offset="0.8034" stop-color="#00aaa3"/><stop offset="0.8035" stop-color="#00aaab"/><stop offset="0.8040" stop-color="#0099dc"/><stop offset="0.8045" stop-color="#0077dd"/><stop offset="0.8051" stop-color="#0000dc"/><stop offset="0.8051" stop-color="#0000d8"/><stop offset="0.8182" stop-color="#0000d8"/><stop offset="0.8183" stop-color="#0000dc"/><stop offset="0.8192" stop-color="#0077dd"/><stop offset="0.8199" stop-color="#0092dd"/><stop offset="0.8225" stop-color="#0092dd"/><stop offset="0.8232" stop-color="#0077dd"/><stop offset="0.8241" stop-color="#0000dc"/><stop offset="0.8242" stop-color="#0000d8"/><stop offset="0.8253" stop-color="#0000c8"/><stop offset="0.8279" stop-color="#0000be"/><stop offset="0.8345" stop-color="#0000aa"/><stop offset="0.8361" stop-color="#0e00a8"/><stop offset="0.8455" stop-color="#4400a2"/><stop offset="0.8567" stop-color="#72009c"/><stop offset="0.8703" stop-color="#880099"/><stop offset="0.8754" stop-color="#870098"/><stop offset="0.8979" stop-color="#810092"/><stop offset="0.9128" stop-color="#79008a"/><stop offset="0.9161" stop-color="#770088"/><stop offset="0.9278" stop-color="#4c0057"/><stop offset="0.9428" stop-color="#210026"/><stop offset="0.9559" stop-color="#050005"/><stop offset="0.9615" stop-color="#000000"/></linearGradient>
<linearGradient id="g11" gradientUnits="userSpaceOnUse" x1="48.00" y1="0" x2="315.30" y2="0"><stop offset="0.0000" stop-color="#35003d"/><stop offset="0.0823" stop-color="#35003d"/><stop offset="0.0898" stop-color="#380040"/><stop offset="0.1369" stop-color="#380040"/><stop offset="0.1437" stop-color="#6a0079"/><stop offset="0.1456" stop-color="#770088"/><stop offset="0.1508" stop-color="#7c008d"/><stop offset="0.1556" stop-color="#840095"/><stop offset="0.1586" stop-color="#880099"/><stop offset="0.1627" stop-color="#61009e"/><stop offset="0.1684" stop-color="#0f00a8"/><stop offset="0.1689" stop-color="#0000aa"/><stop offset="0.1732" stop-color="#0000d7"/><stop offset="0.1738" stop-color="#0000dd"/><stop offset="0.1777" stop-color="#005edd"/><stop offset="0.1801" stop-color="#0077dd"/><stop offset="0.1833" stop-color="#0081dd"/><stop offset="0.1945" stop-color="#0092dd"/><stop offset="0.2008" stop-color="#0099dd"/><stop offset="0.2095" stop-color="#009ece"/><stop offset="0.2245" stop-color="#00a2c1"/><stop offset="0.2357" stop-color="#00a7b2"/><stop offset="0.2413" stop-color="#00a8b0"/><stop offset="0.2469" stop-color="#00a6b7"/><stop offset="0.2581" stop-color="#00a0c9"/><stop offset="0.2768" stop-color="#009cd3"/><stop offset="0.2996" stop-color="#0099dd"/><stop offset="0.3068" stop-color="#0097dd"/><stop offset="0.3629" stop-color="#008ddd"/><stop offset="0.4190" stop-color="#0083dd"/><stop offset="0.4751" stop-color="#007add"/><stop offset="0.4994" stop-color="#0077dd"/><stop offset="0.5238" stop-color="#006cdd"/><stop offset="0.5499" stop-color="#005edd"/><stop offset="0.5686" stop-color="#002edd"/><stop offset="0.5905" stop-color="#0000dd"/><stop offset="0.5911" stop-color="#0000dc"/><stop offset="0.6135" stop-color="#0000cb"/><stop offset="0.6360" stop-color="#0000bb"/><stop offset="0.6584" stop-color="#0000b4"/><stop offset="0.6809" stop-color="#0000ac"/><stop offset="0.6854" stop-color="#0000aa"/><stop offset="0.7033" stop-color="#1600a7"/><stop offset="0.7183" stop-color="#3800a3"/><stop offset="0.7258" stop-color="#4500a1"/><stop offset="0.7407" stop-color="#62009e"/><stop offset="0.7419" stop-color="#69009d"/><stop offset="0.7434" stop-color="#69009d"/><stop offset="0.7441" stop-color="#0000aa"/><stop offset="0.7450" stop-color="#0000d7"/><stop offset="0.7507" stop-color="#0000d7"/><stop offset="0.7516" stop-color="#0100aa"/><stop offset="0.7523" stop-color="#69009d"/><stop offset="0.7587" stop-color="#6a009d"/><stop offset="0.7601" stop-color="#0000aa"/><stop offset="0.7604" stop-color="#0000b3"/><stop offset="0.7667" stop-color="#0000b2"/><stop offset="0.7670" stop-color="#0000aa"/><stop offset="0.7684" stop-color="#6b009d"/><stop offset="0.7810" stop-color="#6c009d"/><stop offset="0.7819" stop-color="#0200aa"/><stop offset="0.7826" stop-color="#0000c6"/><stop offset="0.7886" stop-color="#0000c6"/><stop offset="0.7893" stop-color="#0000ab"/><stop offset="0.7903" stop-color="#6c009c"/><stop offset="0.7954" stop-color="#6d009c"/><stop offset="0.7962" stop-color="#0000aa"/><stop offset="0.7970" stop-color="#0000d5"/><stop offset="0.8034" stop-color="#0000d5"/><stop offset="0.8043" stop-color="#0000aa"/><stop offset="0.8051" stop-color="#6e009c"/><stop offset="0.8182" stop-color="#70009c"/><stop offset="0.8196" stop-color="#0000aa"/><stop offset="0.8199" stop-color="#0000b1"/><stop offset="0.8225" stop-color="#0000b0"/><stop offset="0.8227" stop-color="#0000aa"/><stop offset="0.8242" stop-color="#70009c"/><stop offset="0.8253" stop-color="#860099"/><stop offset="0.8257" stop-color="#880099"/><stop offset="0.8279" stop-color="#870098"/><stop offset="0.8361" stop-color="#820093"/><stop offset="0.8455" stop-color="#7f0090"/><stop offset="0.8567" stop-color="#7c008d"/><stop offset="0.8754" stop-color="#79008a"/><stop offset="0.8900" stop-color="#770088"/><stop offset="0.8979" stop-color="#6e007e"/><stop offset="0.9128" stop-color="#4c0057"/><stop offset="0.9203" stop-color="#3c0045"/><stop offset="0.9278" stop-color="#2d0033"/><stop offset="0.9428" stop-color="#140017"/><stop offset="0.9559" stop-color="#030003"/><stop offset="0.9577" stop-color="#020002"/><stop offset="0.9615" stop-color="#000000"/></linearGradient>
<linearGradient id="g12" gradientUnits="userSpaceOnUse" x1="48.00" y1="0" x2="315.30" y2="0"><stop offset="0.0000" stop-color="#3c0044"/><stop offset="0.0823" stop-color="#3c0044"/><stop offset="0.0898" stop-color="#380040"/><stop offset="0.1384" stop-color="#380040"/><stop offset="0.1470" stop-color="#680076"/><stop offset="0.1511" stop-color="#770088"/><stop offset="0.1590" stop-color="#7b008c"/><stop offset="0.1646" stop-color="#7c008d"/><stop offset="0.1721" stop-color="#7f0090"/><stop offset="0.1732" stop-color="#800090"/><stop offset="0.1803" stop-color="#850096"/><stop offset="0.1841" stop-color="#880099"/><stop offset="0.1893" stop-color="#6d009c"/><stop offset="0.2001" stop-color="#5100a0"/><stop offset="0.2076" stop-color="#1700a7"/><stop offset="0.2129" stop-color="#0000aa"/><stop offset="0.2151" stop-color="#0000ae"/><stop offset="0.2245" stop-color="#0000bb"/><stop offset="0.2413" stop-color="#0000be"/><stop offset="0.2544" stop-color="#0000b6"/><stop offset="0.2694" stop-color="#0000b1"/><stop offset="0.2974" stop-color="#0000af"/><stop offset="0.3049" stop-color="#0000b9"/><stop offset="0.3143" stop-color="#0000b9"/><stop offset="0.3217" stop-color="#0000af"/><stop offset="0.3442" stop-color="#0000ad"/><stop offset="0.3623" stop-color="#0000aa"/><stop offset="0.3704" stop-color="#0300aa"/><stop offset="0.3816" stop-color="#0300aa"/><stop offset="0.3891" stop-color="#0500a9"/><stop offset="0.3928" stop-color="#0500a9"/><stop offset="0.3960" stop-color="#0000aa"/><stop offset="0.4040" stop-color="#0000af"/><stop offset="0.4190" stop-color="#0000b6"/><stop offset="0.4489" stop-color="#0000c2"/><stop offset="0.4751" stop-color="#0000cc"/><stop offset="0.4976" stop-color="#0000d2"/><stop offset="0.5238" stop-color="#0000cd"/><stop offset="0.5462" stop-color="#0000c3"/><stop offset="0.5649" stop-color="#0000b9"/><stop offset="0.5874" stop-color="#0000aa"/><stop offset="0.5874" stop-color="#0000aa"/><stop offset="0.6023" stop-color="#2700a5"/><stop offset="0.6173" stop-color="#5200a0"/><stop offset="0.6435" stop-color="#6e009c"/><stop offset="0.6578" stop-color="#880099"/><stop offset="0.6622" stop-color="#870098"/><stop offset="0.6771" stop-color="#840095"/><stop offset="0.6958" stop-color="#810092"/><stop offset="0.7183" stop-color="#7f0090"/><stop offset="0.7295" stop-color="#7d008e"/><stop offset="0.7407" stop-color="#7c008d"/><stop offset="0.7419" stop-color="#880099"/><stop offset="0.7434" stop-color="#880099"/><stop offset="0.7434" stop-color="#860099"/><stop offset="0.7445" stop-color="#0000ab"/><stop offset="0.7450" stop-color="#0000c5"/><stop offset="0.7507" stop-color="#0000c5"/><stop offset="0.7512" stop-color="#0000ab"/><stop offset="0.7523" stop-color="#870099"/><stop offset="0.7523" stop-color="#880099"/><stop offset="0.7587" stop-color="#880099"/><stop offset="0.7601" stop-color="#0200aa"/><stop offset="0.7604" stop-color="#0000b5"/><stop offset="0.7667" stop-color="#0000b5"/><stop offset="0.7670" stop-color="#0200aa"/><stop offset="0.7684" stop-color="#880099"/><stop offset="0.7684" stop-color="#880099"/><stop offset="0.7810" stop-color="#870098"/><stop offset="0.7810" stop-color="#880099"/><stop offset="0.7825" stop-color="#0000aa"/><stop offset="0.7826" stop-color="#0000af"/><stop offset="0.7886" stop-color="#0000af"/><stop offset="0.7888" stop-color="#0100aa"/><stop offset="0.7903" stop-color="#880099"/><stop offset="0.7903" stop-color="#870098"/><stop offset="0.7954" stop-color="#870098"/><stop offset="0.7954" stop-color="#870099"/><stop offset="0.7963" stop-color="#0000aa"/><stop offset="0.7970" stop-color="#0000d5"/><stop offset="0.8034" stop-color="#0000d5"/><stop offset="0.8042" stop-color="#0000aa"/><stop offset="0.8051" stop-color="#870099"/><stop offset="0.8051" stop-color="#870098"/><stop offset="0.8182" stop-color="#870098"/><stop offset="0.8184" stop-color="#880099"/><stop offset="0.8199" stop-color="#67009d"/><stop offset="0.8225" stop-color="#67009d"/><stop offset="0.8239" stop-color="#880099"/><stop offset="0.8242" stop-color="#870098"/><stop offset="0.8253" stop-color="#850096"/><stop offset="0.8279" stop-color="#810092"/><stop offset="0.8305" stop-color="#800091"/><stop offset="0.8380" stop-color="#7e008f"/><stop offset="0.8492" stop-color="#7b008c"/><stop offset="0.8679" stop-color="#780089"/><stop offset="0.8714" stop-color="#770088"/><stop offset="0.8866" stop-color="#640072"/><stop offset="0.9053" stop-color="#4a0055"/><stop offset="0.9203" stop-color="#34003c"/><stop offset="0.9315" stop-color="#26002b"/><stop offset="0.9353" stop-color="#210026"/><stop offset="0.9465" stop-color="#130015"/><stop offset="0.9577" stop-color="#070007"/><stop offset="0.9652" stop-color="#010001"/><stop offset="0.9671" stop-color="#000000"/></linearGradient>
<linearGradient id="g13" gradientUnits="userSpaceOnUse" x1="48.00" y1="0" x2="315.30" y2="0"><stop offset="0.0000" stop-color="#3c0044"/><stop offset="0.0374" stop-color="#3c0044"/><stop offset="0.0449" stop-color="#37003f"/><stop offset="0.1384" stop-color="#37003f"/><stop offset="0.1470" stop-color="#660075"/><stop offset="0.1514" stop-color="#770088"/><stop offset="0.1590" stop-color="#7b008c"/><stop offset="0.1646" stop-color="#7c008d"/><stop offset="0.1721" stop-color="#7f0090"/><stop offset="0.1732" stop-color="#7f0090"/><stop offset="0.1803" stop-color="#850096"/><stop offset="0.1847" stop-color="#880099"/><stop offset="0.1893" stop-color="#6f009c"/><stop offset="0.2001" stop-color="#5400a0"/><stop offset="0.2076" stop-color="#1b00a7"/><stop offset="0.2138" stop-color="#0000aa"/><stop offset="0.2151" stop-color="#0000ac"/><stop offset="0.2245" stop-color="#0000b9"/><stop offset="0.2413" stop-color="#0000bc"/><stop offset="0.2544" stop-color="#0000b5"/><stop offset="0.2694" stop-color="#0000af"/><stop offset="0.2974" stop-color="#0000ad"/><stop offset="0.3049" stop-color="#0000b7"/><stop offset="0.3143" stop-color="#0000b7"/><stop offset="0.3217" stop-color="#0000ae"/><stop offset="0.3442" stop-color="#0000ac"/><stop offset="0.3572" stop-color="#0000aa"/><stop offset="0.3704" stop-color="#0500a9"/><stop offset="0.3741" stop-color="#0500a9"/><stop offset="0.3816" stop-color="#0a00a9"/><stop offset="0.3928" stop-color="#0a00a9"/><stop offset="0.3997" stop-color="#0000aa"/><stop offset="0.4040" stop-color="#0000ac"/><stop offset="0.4190" stop-color="#0000b4"/><stop offset="0.4489" stop-color="#0000bf"/><stop offset="0.4751" stop-color="#0000ca"/><stop offset="0.4976" stop-color="#0000cf"/><stop offset="0.5238" stop-color="#0000ca"/><stop offset="0.5462" stop-color="#0000c1"/><stop offset="0.5649" stop-color="#0000b7"/><stop offset="0.5846" stop-color="#0000aa"/><stop offset="0.5874" stop-color="#0500a9"/><stop offset="0.6023" stop-color="#2b00a5"/><stop offset="0.6173" stop-color="#55009f"/><stop offset="0.6435" stop-color="#71009c"/><stop offset="0.6562" stop-color="#880099"/><stop offset="0.6622" stop-color="#870098"/><stop offset="0.6771" stop-color="#830094"/><stop offset="0.6958" stop-color="#800091"/><stop offset="0.7183" stop-color="#7e008f"/><stop offset="0.7407" stop-color="#7d008e"/><stop offset="0.7418" stop-color="#880099"/><stop offset="0.7419" stop-color="#860099"/><stop offset="0.7434" stop-color="#860099"/><stop offset="0.7444" stop-color="#0000aa"/><stop offset="0.7450" stop-color="#0000c6"/><stop offset="0.7507" stop-color="#0000c5"/><stop offset="0.7513" stop-color="#0100aa"/><stop offset="0.7523" stop-color="#880099"/><stop offset="0.7587" stop-color="#880099"/><stop offset="0.7601" stop-color="#0000aa"/><stop offset="0.7604" stop-color="#0000b5"/><stop offset="0.7667" stop-color="#0000b5"/><stop offset="0.7670" stop-color="#0100aa"/><stop offset="0.7684" stop-color="#880099"/><stop offset="0.7810" stop-color="#880099"/><stop offset="0.7810" stop-color="#870099"/><stop offset="0.7825" stop-color="#0100aa"/><stop offset="0.7826" stop-color="#0000af"/><stop offset="0.7886" stop-color="#0000af"/><stop offset="0.7888" stop-color="#0100aa"/><stop offset="0.7903" stop-color="#880099"/><stop offset="0.7954" stop-color="#880099"/><stop offset="0.7954" stop-color="#860099"/><stop offset="0.7963" stop-color="#0100aa"/><stop offset="0.7970" stop-color="#0000d3"/><stop offset="0.8034" stop-color="#0000d3"/><stop offset="0.8042" stop-color="#0100aa"/><stop offset="0.8051" stop-color="#870099"/><stop offset="0.8051" stop-color="#870098"/><stop offset="0.8182" stop-color="#870098"/><stop offset="0.8184" stop-color="#880099"/><stop offset="0.8199" stop-color="#68009d"/><stop offset="0.8225" stop-color="#68009d"/><stop offset="0.8239" stop-color="#880099"/><stop offset="0.8242" stop-color="#870098"/><stop offset="0.8253" stop-color="#850096"/><stop offset="0.8279" stop-color="#810092"/><stop offset="0.8380" stop-color="#7e008f"/><stop offset="0.8492" stop-color="#7b008c"/><stop offset="0.8679" stop-color="#780089"/><stop offset="0.8713" stop-color="#770088"/><stop offset="0.8866" stop-color="#630071"/><stop offset="0.9053" stop-color="#4a0054"/><stop offset="0.9203" stop-color="#34003c"/><stop offset="0.9315" stop-color="#25002b"/><stop offset="0.9428" stop-color="#17001a"/><stop offset="0.9465" stop-color="#120015"/><stop offset="0.9577" stop-color="#060007"/><stop offset="0.9652" stop-color="#010001"/><stop offset="0.9671" stop-color="#000000"/></linearGradient>
<linearGradient id="g14" gradientUnits="userSpaceOnUse" x1="48.00" y1="0" x2="315.30" y2="0"><stop offset="0.0000" stop-color="#390041"/><stop offset="0.0374" stop-color="#390041"/><stop offset="0.0449" stop-color="#34003c"/><stop offset="0.1369" stop-color="#34003c"/><stop offset="0.1437" stop-color="#660075"/><stop offset="0.1461" stop-color="#770088"/><stop offset="0.1508" stop-color="#7b008c"/><stop offset="0.1556" stop-color="#840095"/><stop offset="0.1590" stop-color="#880099"/><stop offset="0.1627" stop-color="#65009d"/><stop offset="0.1646" stop-color="#4900a1"/><stop offset="0.1684" stop-color="#0e00a8"/><stop offset="0.1688" stop-color="#0000aa"/><stop offset="0.1721" stop-color="#0000ce"/><stop offset="0.1732" stop-color="#0000d9"/><stop offset="0.1736" stop-color="#0000dd"/><stop offset="0.1777" stop-color="#0063dd"/><stop offset="0.1796" stop-color="#0077dd"/><stop offset="0.1833" stop-color="#0082dd"/><stop offset="0.1945" stop-color="#0093dd"/><stop offset="0.1996" stop-color="#0099dd"/><stop offset="0.2095" stop-color="#009fcc"/><stop offset="0.2245" stop-color="#00a3bf"/><stop offset="0.2357" stop-color="#00a8b0"/><stop offset="0.2413" stop-color="#00a9ad"/><stop offset="0.2469" stop-color="#00a6b5"/><stop offset="0.2581" stop-color="#00a0c7"/><stop offset="0.2768" stop-color="#009dd1"/><stop offset="0.3056" stop-color="#0099dd"/><stop offset="0.3068" stop-color="#0099dd"/><stop offset="0.3629" stop-color="#008fdd"/><stop offset="0.3741" stop-color="#008ddd"/><stop offset="0.3816" stop-color="#008add"/><stop offset="0.4190" stop-color="#0084dd"/><stop offset="0.4751" stop-color="#007bdd"/><stop offset="0.5076" stop-color="#0077dd"/><stop offset="0.5238" stop-color="#0070dd"/><stop offset="0.5574" stop-color="#0062dd"/><stop offset="0.5761" stop-color="#0032dd"/><stop offset="0.5948" stop-color="#0008dd"/><stop offset="0.5986" stop-color="#0000dd"/><stop offset="0.6135" stop-color="#0000cf"/><stop offset="0.6360" stop-color="#0000bd"/><stop offset="0.6584" stop-color="#0000ab"/><stop offset="0.6597" stop-color="#0000aa"/><stop offset="0.6771" stop-color="#2600a5"/><stop offset="0.6958" stop-color="#4800a1"/><stop offset="0.7183" stop-color="#5c009e"/><stop offset="0.7407" stop-color="#67009d"/><stop offset="0.7434" stop-color="#67009d"/><stop offset="0.7441" stop-color="#0000ab"/><stop offset="0.7450" stop-color="#0000d7"/><stop offset="0.7507" stop-color="#0000d7"/><stop offset="0.7516" stop-color="#0000aa"/><stop offset="0.7523" stop-color="#68009d"/><stop offset="0.7557" stop-color="#69009d"/><stop offset="0.7587" stop-color="#69009d"/><stop offset="0.7601" stop-color="#0000aa"/><stop offset="0.7604" stop-color="#0000b3"/><stop offset="0.7667" stop-color="#0000b3"/><stop offset="0.7670" stop-color="#0000aa"/><stop offset="0.7684" stop-color="#6a009d"/><stop offset="0.7810" stop-color="#6b009d"/><stop offset="0.7819" stop-color="#0100aa"/><stop offset="0.7826" stop-color="#0000c7"/><stop offset="0.7886" stop-color="#0000c7"/><stop offset="0.7893" stop-color="#0200aa"/><stop offset="0.7903" stop-color="#6c009d"/><stop offset="0.7954" stop-color="#6c009c"/><stop offset="0.7962" stop-color="#0000ab"/><stop offset="0.7970" stop-color="#0000d6"/><stop offset="0.8034" stop-color="#0000d5"/><stop offset="0.8043" stop-color="#0000aa"/><stop offset="0.8051" stop-color="#6d009c"/><stop offset="0.8182" stop-color="#6e009c"/><stop offset="0.8196" stop-color="#0100aa"/><stop offset="0.8199" stop-color="#0000b1"/><stop offset="0.8225" stop-color="#0000b1"/><stop offset="0.8227" stop-color="#0000ab"/><stop offset="0.8242" stop-color="#6f009c"/><stop offset="0.8253" stop-color="#840099"/><stop offset="0.8261" stop-color="#880099"/><stop offset="0.8279" stop-color="#870098"/><stop offset="0.8361" stop-color="#830094"/><stop offset="0.8455" stop-color="#7f0090"/><stop offset="0.8492" stop-color="#7e008f"/><stop offset="0.8567" stop-color="#7c008d"/><stop offset="0.8754" stop-color="#79008a"/><stop offset="0.8908" stop-color="#770088"/><stop offset="0.8979" stop-color="#6f007f"/><stop offset="0.9053" stop-color="#5f006c"/><stop offset="0.9128" stop-color="#4e0059"/><stop offset="0.9278" stop-color="#2f0035"/><stop offset="0.9428" stop-color="#150018"/><stop offset="0.9559" stop-color="#040005"/><stop offset="0.9615" stop-color="#010001"/><stop offset="0.9652" stop-color="#000000"/></linearGradient>
<linearGradient id="g15" gradientUnits="userSpaceOnUse" x1="48.00" y1="0" x2="315.30" y2="0"><stop offset="0.0000" stop-color="#2b0031"/><stop offset="0.1369" stop-color="#2b0031"/><stop offset="0.1421" stop-color="#770088"/><stop offset="0.1437" stop-color="#7a008b"/><stop offset="0.1508" stop-color="#880099"/><stop offset="0.1556" stop-color="#0000aa"/><stop offset="0.1627" stop-color="#0000dd"/><stop offset="0.1674" stop-color="#0077dd"/><stop offset="0.1684" stop-color="#007edd"/><stop offset="0.1703" stop-color="#0099dd"/><stop offset="0.1727" stop-color="#00aaaa"/><stop offset="0.1732" stop-color="#00aaa3"/><stop offset="0.1752" stop-color="#00aa88"/><stop offset="0.1777" stop-color="#009900"/><stop offset="0.1833" stop-color="#00bb00"/><stop offset="0.1945" stop-color="#00dd00"/><stop offset="0.2095" stop-color="#00ff00"/><stop offset="0.2245" stop-color="#5dff00"/><stop offset="0.2338" stop-color="#bbff00"/><stop offset="0.2357" stop-color="#c0fd00"/><stop offset="0.2413" stop-color="#c5fc00"/><stop offset="0.2450" stop-color="#bbff00"/><stop offset="0.2469" stop-color="#a8ff00"/><stop offset="0.2581" stop-color="#25ff00"/><stop offset="0.2675" stop-color="#00ff00"/><stop offset="0.2768" stop-color="#00f800"/><stop offset="0.3068" stop-color="#00e700"/><stop offset="0.3348" stop-color="#00dd00"/><stop offset="0.3629" stop-color="#00d300"/><stop offset="0.4190" stop-color="#00be00"/><stop offset="0.4302" stop-color="#00bb00"/><stop offset="0.4751" stop-color="#00ad00"/><stop offset="0.5238" stop-color="#00a100"/><stop offset="0.5462" stop-color="#009900"/><stop offset="0.5612" stop-color="#00a55f"/><stop offset="0.5724" stop-color="#00aa88"/><stop offset="0.5836" stop-color="#00aa92"/><stop offset="0.6061" stop-color="#00aaa3"/><stop offset="0.6173" stop-color="#00aaaa"/><stop offset="0.6285" stop-color="#00a7b4"/><stop offset="0.6435" stop-color="#00a0c9"/><stop offset="0.6614" stop-color="#0099dd"/><stop offset="0.6659" stop-color="#0096dd"/><stop offset="0.6884" stop-color="#0085dd"/><stop offset="0.7033" stop-color="#0077dd"/><stop offset="0.7071" stop-color="#006bdd"/><stop offset="0.7220" stop-color="#0030dd"/><stop offset="0.7407" stop-color="#0000dd"/><stop offset="0.7409" stop-color="#0078dd"/><stop offset="0.7410" stop-color="#009adb"/><stop offset="0.7411" stop-color="#00aaa8"/><stop offset="0.7411" stop-color="#00aa9c"/><stop offset="0.7512" stop-color="#00aa9c"/><stop offset="0.7514" stop-color="#00aaab"/><stop offset="0.7518" stop-color="#009adb"/><stop offset="0.7523" stop-color="#0078dd"/><stop offset="0.7527" stop-color="#0000dd"/><stop offset="0.7565" stop-color="#0000dd"/><stop offset="0.7569" stop-color="#0076dd"/><stop offset="0.7573" stop-color="#0098dd"/><stop offset="0.7577" stop-color="#00a9ac"/><stop offset="0.7579" stop-color="#00aa96"/><stop offset="0.7669" stop-color="#00aa96"/><stop offset="0.7674" stop-color="#00aaa9"/><stop offset="0.7683" stop-color="#0098dd"/><stop offset="0.7684" stop-color="#0092dd"/><stop offset="0.7785" stop-color="#0092dd"/><stop offset="0.7796" stop-color="#0077dd"/><stop offset="0.7800" stop-color="#0053dd"/><stop offset="0.7838" stop-color="#0053dd"/><stop offset="0.7840" stop-color="#0077dd"/><stop offset="0.7845" stop-color="#0099dc"/><stop offset="0.7851" stop-color="#00aaaa"/><stop offset="0.7853" stop-color="#00aaa3"/><stop offset="0.7901" stop-color="#00aaa3"/><stop offset="0.7902" stop-color="#00aaaa"/><stop offset="0.7908" stop-color="#0098dd"/><stop offset="0.7914" stop-color="#0074dd"/><stop offset="0.7916" stop-color="#003cdd"/><stop offset="0.7954" stop-color="#003cdd"/><stop offset="0.7956" stop-color="#0077dd"/><stop offset="0.7961" stop-color="#0099dc"/><stop offset="0.7966" stop-color="#00a9ac"/><stop offset="0.7969" stop-color="#00aa9c"/><stop offset="0.8006" stop-color="#00aa9c"/><stop offset="0.8010" stop-color="#00aaaa"/><stop offset="0.8019" stop-color="#0099dd"/><stop offset="0.8021" stop-color="#0092dd"/><stop offset="0.8100" stop-color="#0092dd"/><stop offset="0.8106" stop-color="#0076dd"/><stop offset="0.8114" stop-color="#0000dd"/><stop offset="0.8156" stop-color="#0000dd"/><stop offset="0.8166" stop-color="#0077dd"/><stop offset="0.8171" stop-color="#0088dd"/><stop offset="0.8260" stop-color="#0088dd"/><stop offset="0.8265" stop-color="#0077dd"/><stop offset="0.8274" stop-color="#0000dc"/><stop offset="0.8279" stop-color="#0000be"/><stop offset="0.8345" stop-color="#0000aa"/><stop offset="0.8361" stop-color="#0e00a8"/><stop offset="0.8455" stop-color="#4400a2"/><stop offset="0.8567" stop-color="#72009c"/><stop offset="0.8703" stop-color="#880099"/><stop offset="0.8754" stop-color="#870098"/><stop offset="0.8979" stop-color="#810092"/><stop offset="0.9128" stop-color="#79008a"/><stop offset="0.9161" stop-color="#770088"/><stop offset="0.9278" stop-color="#4c0057"/><stop offset="0.9428" stop-color="#210026"/><stop offset="0.9559" stop-color="#050005"/><stop offset="0.9615" stop-color="#000000"/></linearGradient>
<linearGradient id="g16" gradientUnits="userSpaceOnUse" x1="48.00" y1="0" x2="315.30" y2="0"><stop offset="0.0000" stop-color="#28002e"/><stop offset="0.0449" stop-color="#28002e"/><stop offset="0.0524" stop-color="#320039"/><stop offset="0.3068" stop-color="#37003f"/><stop offset="0.5686" stop-color="#34003c"/><stop offset="0.7557" stop-color="#300036"/><stop offset="0.8492" stop-color="#210026"/><stop offset="0.9053" stop-color="#110013"/><stop offset="0.9428" stop-color="#000000"/></linearGradient>
<linearGradient id="g17" gradientUnits="userSpaceOnUse" x1="48.00" y1="0" x2="315.30" y2="0"><stop offset="0.0000" stop-color="#300036"/><stop offset="0.1384" stop-color="#300036"/><stop offset="0.1449" stop-color="#770088"/><stop offset="0.1470" stop-color="#7a008b"/><stop offset="0.1590" stop-color="#870098"/><stop offset="0.1607" stop-color="#880099"/><stop offset="0.1732" stop-color="#5f009e"/><stop offset="0.1803" stop-color="#0000aa"/><stop offset="0.1893" stop-color="#0000ce"/><stop offset="0.1974" stop-color="#0000dd"/><stop offset="0.2001" stop-color="#000cdd"/><stop offset="0.2076" stop-color="#006edd"/><stop offset="0.2087" stop-color="#0077dd"/><stop offset="0.2151" stop-color="#0086dd"/><stop offset="0.2245" stop-color="#0098dd"/><stop offset="0.2275" stop-color="#0099dd"/><stop offset="0.2413" stop-color="#009bd8"/><stop offset="0.2459" stop-color="#0099dd"/><stop offset="0.2544" stop-color="#0093dd"/><stop offset="0.2694" stop-color="#008cdd"/><stop offset="0.2974" stop-color="#0087dd"/><stop offset="0.3049" stop-color="#0095dd"/><stop offset="0.3143" stop-color="#0095dd"/><stop offset="0.3217" stop-color="#0089dd"/><stop offset="0.3442" stop-color="#0086dd"/><stop offset="0.3704" stop-color="#0082dd"/><stop offset="0.3891" stop-color="#0085dd"/><stop offset="0.4040" stop-color="#0091dd"/><stop offset="0.4128" stop-color="#0099dd"/><stop offset="0.4190" stop-color="#009cd5"/><stop offset="0.4415" stop-color="#00a3c0"/><stop offset="0.4676" stop-color="#00a7b2"/><stop offset="0.4976" stop-color="#00aaab"/><stop offset="0.5275" stop-color="#00a7b2"/><stop offset="0.5537" stop-color="#00a0c7"/><stop offset="0.5687" stop-color="#0099dd"/><stop offset="0.5724" stop-color="#0095dd"/><stop offset="0.5911" stop-color="#0080dd"/><stop offset="0.5985" stop-color="#0077dd"/><stop offset="0.6061" stop-color="#0056dd"/><stop offset="0.6210" stop-color="#000cdd"/><stop offset="0.6277" stop-color="#0000dd"/><stop offset="0.6472" stop-color="#0000ce"/><stop offset="0.6659" stop-color="#0000b4"/><stop offset="0.6734" stop-color="#0000aa"/><stop offset="0.6809" stop-color="#1b00a7"/><stop offset="0.6996" stop-color="#4c00a0"/><stop offset="0.7183" stop-color="#67009d"/><stop offset="0.7407" stop-color="#78009b"/><stop offset="0.7410" stop-color="#0000aa"/><stop offset="0.7411" stop-color="#0000c9"/><stop offset="0.7426" stop-color="#0000c9"/><stop offset="0.7428" stop-color="#0004dd"/><stop offset="0.7433" stop-color="#0073dd"/><stop offset="0.7438" stop-color="#0098dd"/><stop offset="0.7441" stop-color="#00a1c5"/><stop offset="0.7512" stop-color="#00a1c5"/><stop offset="0.7514" stop-color="#0099dc"/><stop offset="0.7520" stop-color="#0075dd"/><stop offset="0.7525" stop-color="#0002dd"/><stop offset="0.7527" stop-color="#0000c4"/><stop offset="0.7576" stop-color="#0000c4"/><stop offset="0.7578" stop-color="#0003dd"/><stop offset="0.7582" stop-color="#0075dd"/><stop offset="0.7587" stop-color="#0099dc"/><stop offset="0.7591" stop-color="#00aaab"/><stop offset="0.7681" stop-color="#00aaab"/><stop offset="0.7692" stop-color="#0099dd"/><stop offset="0.7695" stop-color="#0091dd"/><stop offset="0.7808" stop-color="#0091dd"/><stop offset="0.7811" stop-color="#0099dd"/><stop offset="0.7823" stop-color="#00a8b0"/><stop offset="0.7901" stop-color="#00a8b0"/><stop offset="0.7907" stop-color="#0099dc"/><stop offset="0.7914" stop-color="#0076dd"/><stop offset="0.7916" stop-color="#0056dd"/><stop offset="0.7954" stop-color="#0056dd"/><stop offset="0.7955" stop-color="#0076dd"/><stop offset="0.7961" stop-color="#0099dd"/><stop offset="0.7966" stop-color="#00aaaa"/><stop offset="0.7969" stop-color="#00aa9c"/><stop offset="0.8058" stop-color="#00aa9c"/><stop offset="0.8062" stop-color="#00aaab"/><stop offset="0.8070" stop-color="#0099dd"/><stop offset="0.8073" stop-color="#008add"/><stop offset="0.8186" stop-color="#008add"/><stop offset="0.8190" stop-color="#0078dd"/><stop offset="0.8199" stop-color="#0002dd"/><stop offset="0.8201" stop-color="#0000d3"/><stop offset="0.8215" stop-color="#0000d3"/><stop offset="0.8217" stop-color="#0001dd"/><stop offset="0.8226" stop-color="#0076dd"/><stop offset="0.8230" stop-color="#0086dd"/><stop offset="0.8260" stop-color="#0086dd"/><stop offset="0.8263" stop-color="#0077dd"/><stop offset="0.8270" stop-color="#0002dd"/><stop offset="0.8277" stop-color="#0400aa"/><stop offset="0.8279" stop-color="#2900a5"/><stop offset="0.8380" stop-color="#5200a0"/><stop offset="0.8492" stop-color="#880099"/><stop offset="0.8679" stop-color="#830094"/><stop offset="0.8866" stop-color="#7d008e"/><stop offset="0.9053" stop-color="#770088"/><stop offset="0.9203" stop-color="#53005f"/><stop offset="0.9315" stop-color="#3c0044"/><stop offset="0.9465" stop-color="#1d0021"/><stop offset="0.9577" stop-color="#0a000b"/><stop offset="0.9671" stop-color="#000000"/></linearGradient>
<linearGradient id="g18" gradientUnits="userSpaceOnUse" x1="48.00" y1="0" x2="315.30" y2="0"><stop offset="0.0000" stop-color="#300036"/><stop offset="0.1384" stop-color="#300036"/><stop offset="0.1449" stop-color="#770088"/><stop offset="0.1470" stop-color="#7a008b"/><stop offset="0.1590" stop-color="#870098"/><stop offset="0.1607" stop-color="#880099"/><stop offset="0.1732" stop-color="#5f009e"/><stop offset="0.1803" stop-color="#0000aa"/><stop offset="0.1893" stop-color="#0000ce"/><stop offset="0.1975" stop-color="#0000dd"/><stop offset="0.2001" stop-color="#000cdd"/><stop offset="0.2076" stop-color="#0069dd"/><stop offset="0.2094" stop-color="#0077dd"/><stop offset="0.2151" stop-color="#0084dd"/><stop offset="0.2245" stop-color="#0095dd"/><stop offset="0.2413" stop-color="#0099dd"/><stop offset="0.2544" stop-color="#0090dd"/><stop offset="0.2694" stop-color="#0089dd"/><stop offset="0.2974" stop-color="#0085dd"/><stop offset="0.3049" stop-color="#0092dd"/><stop offset="0.3143" stop-color="#0092dd"/><stop offset="0.3217" stop-color="#0086dd"/><stop offset="0.3442" stop-color="#0084dd"/><stop offset="0.3704" stop-color="#0080dd"/><stop offset="0.3891" stop-color="#0082dd"/><stop offset="0.4040" stop-color="#008edd"/><stop offset="0.4167" stop-color="#0099dd"/><stop offset="0.4190" stop-color="#009ada"/><stop offset="0.4415" stop-color="#00a1c6"/><stop offset="0.4676" stop-color="#00a5b9"/><stop offset="0.4976" stop-color="#00a7b2"/><stop offset="0.5275" stop-color="#00a5b9"/><stop offset="0.5537" stop-color="#009ecd"/><stop offset="0.5652" stop-color="#0099dd"/><stop offset="0.5724" stop-color="#0092dd"/><stop offset="0.5911" stop-color="#007edd"/><stop offset="0.5972" stop-color="#0077dd"/><stop offset="0.6061" stop-color="#0052dd"/><stop offset="0.6210" stop-color="#000cdd"/><stop offset="0.6275" stop-color="#0000dd"/><stop offset="0.6472" stop-color="#0000ce"/><stop offset="0.6659" stop-color="#0000b4"/><stop offset="0.6734" stop-color="#0000aa"/><stop offset="0.6809" stop-color="#1b00a7"/><stop offset="0.6996" stop-color="#4c00a0"/><stop offset="0.7183" stop-color="#67009d"/><stop offset="0.7407" stop-color="#78009b"/><stop offset="0.7410" stop-color="#0000aa"/><stop offset="0.7411" stop-color="#0000c9"/><stop offset="0.7426" stop-color="#0000c9"/><stop offset="0.7428" stop-color="#0002dd"/><stop offset="0.7434" stop-color="#0074dd"/><stop offset="0.7439" stop-color="#0099dd"/><stop offset="0.7441" stop-color="#009fcb"/><stop offset="0.7512" stop-color="#009fcb"/><stop offset="0.7514" stop-color="#0099dd"/><stop offset="0.7519" stop-color="#0077dd"/><stop offset="0.7525" stop-color="#0000dd"/><stop offset="0.7527" stop-color="#0000c4"/><stop offset="0.7576" stop-color="#0000c4"/><stop offset="0.7578" stop-color="#0000dd"/><stop offset="0.7582" stop-color="#0077dd"/><stop offset="0.7587" stop-color="#0099dd"/><stop offset="0.7591" stop-color="#00a7b2"/><stop offset="0.7681" stop-color="#00a7b2"/><stop offset="0.7691" stop-color="#0099dd"/><stop offset="0.7695" stop-color="#008edd"/><stop offset="0.7808" stop-color="#008edd"/><stop offset="0.7812" stop-color="#0099dd"/><stop offset="0.7823" stop-color="#00a6b7"/><stop offset="0.7901" stop-color="#00a6b7"/><stop offset="0.7906" stop-color="#0099dc"/><stop offset="0.7914" stop-color="#0076dd"/><stop offset="0.7916" stop-color="#0052dd"/><stop offset="0.7954" stop-color="#0052dd"/><stop offset="0.7955" stop-color="#0077dd"/><stop offset="0.7961" stop-color="#0099dc"/><stop offset="0.7967" stop-color="#00aaab"/><stop offset="0.7969" stop-color="#00aaa2"/><stop offset="0.8058" stop-color="#00aaa2"/><stop offset="0.8060" stop-color="#00aaaa"/><stop offset="0.8069" stop-color="#0099dd"/><stop offset="0.8073" stop-color="#0087dd"/><stop offset="0.8186" stop-color="#0087dd"/><stop offset="0.8190" stop-color="#0077dd"/><stop offset="0.8199" stop-color="#0001dd"/><stop offset="0.8201" stop-color="#0000d3"/><stop offset="0.8215" stop-color="#0000d3"/><stop offset="0.8217" stop-color="#0000dd"/><stop offset="0.8227" stop-color="#0078dd"/><stop offset="0.8230" stop-color="#0084dd"/><stop offset="0.8260" stop-color="#0084dd"/><stop offset="0.8263" stop-color="#0077dd"/><stop offset="0.8270" stop-color="#0000dc"/><stop offset="0.8277" stop-color="#0000ab"/><stop offset="0.8279" stop-color="#2900a5"/><stop offset="0.8380" stop-color="#5200a0"/><stop offset="0.8492" stop-color="#880099"/><stop offset="0.8679" stop-color="#830094"/><stop offset="0.8866" stop-color="#7d008e"/><stop offset="0.9053" stop-color="#770088"/><stop offset="0.9203" stop-color="#53005f"/><stop offset="0.9315" stop-color="#3c0044"/><stop offset="0.9465" stop-color="#1d0021"/><stop offset="0.9577" stop-color="#0a000b"/><stop offset="0.9671" stop-color="#000000"/></linearGradient>
<linearGradient id="g19" gradientUnits="userSpaceOnUse" x1="48.00" y1="0" x2="315.30" y2="0"><stop offset="0.0000" stop-color="#300036"/><stop offset="0.1384" stop-color="#300036"/><stop offset="0.1449" stop-color="#770088"/><stop offset="0.1470" stop-color="#7a008b"/><stop offset="0.1590" stop-color="#870098"/><stop offset="0.1607" stop-color="#880099"/><stop offset="0.1732" stop-color="#5f009e"/><stop offset="0.1803" stop-color="#0000aa"/><stop offset="0.1893" stop-color="#0000ce"/><stop offset="0.1973" stop-color="#0000dd"/><stop offset="0.2001" stop-color="#000cdd"/><stop offset="0.2076" stop-color="#006fdd"/><stop offset="0.2086" stop-color="#0077dd"/><stop offset="0.2151" stop-color="#0087dd"/><stop offset="0.2245" stop-color="#0099dd"/><stop offset="0.2249" stop-color="#0099dd"/><stop offset="0.2413" stop-color="#009bd7"/><stop offset="0.2468" stop-color="#0099dd"/><stop offset="0.2544" stop-color="#0093dd"/><stop offset="0.2694" stop-color="#008cdd"/><stop offset="0.2974" stop-color="#0088dd"/><stop offset="0.3049" stop-color="#0096dd"/><stop offset="0.3143" stop-color="#0096dd"/><stop offset="0.3217" stop-color="#0089dd"/><stop offset="0.3442" stop-color="#0087dd"/><stop offset="0.3704" stop-color="#0082dd"/><stop offset="0.3891" stop-color="#0085dd"/><stop offset="0.4040" stop-color="#0092dd"/><stop offset="0.4120" stop-color="#0099dd"/><stop offset="0.4190" stop-color="#009cd4"/><stop offset="0.4415" stop-color="#00a3be"/><stop offset="0.4676" stop-color="#00a8b1"/><stop offset="0.4943" stop-color="#00aaaa"/><stop offset="0.4976" stop-color="#00aaa9"/><stop offset="0.5009" stop-color="#00aaaa"/><stop offset="0.5275" stop-color="#00a8b1"/><stop offset="0.5537" stop-color="#00a1c6"/><stop offset="0.5694" stop-color="#0099dd"/><stop offset="0.5724" stop-color="#0096dd"/><stop offset="0.5911" stop-color="#0081dd"/><stop offset="0.5988" stop-color="#0077dd"/><stop offset="0.6061" stop-color="#0057dd"/><stop offset="0.6210" stop-color="#000cdd"/><stop offset="0.6278" stop-color="#0000dd"/><stop offset="0.6472" stop-color="#0000ce"/><stop offset="0.6659" stop-color="#0000b4"/><stop offset="0.6734" stop-color="#0000aa"/><stop offset="0.6809" stop-color="#1b00a7"/><stop offset="0.6996" stop-color="#4c00a0"/><stop offset="0.7183" stop-color="#67009d"/><stop offset="0.7407" stop-color="#78009b"/><stop offset="0.7410" stop-color="#0000aa"/><stop offset="0.7411" stop-color="#0000c9"/><stop offset="0.7426" stop-color="#0000c9"/><stop offset="0.7428" stop-color="#0004dd"/><stop offset="0.7433" stop-color="#0074dd"/><stop offset="0.7438" stop-color="#0099dd"/><stop offset="0.7441" stop-color="#00a1c4"/><stop offset="0.7512" stop-color="#00a1c4"/><stop offset="0.7515" stop-color="#0098dd"/><stop offset="0.7520" stop-color="#0077dd"/><stop offset="0.7525" stop-color="#0003dd"/><stop offset="0.7527" stop-color="#0000c4"/><stop offset="0.7576" stop-color="#0000c4"/><stop offset="0.7578" stop-color="#0003dd"/><stop offset="0.7582" stop-color="#0076dd"/><stop offset="0.7586" stop-color="#0098dd"/><stop offset="0.7591" stop-color="#00aaa9"/><stop offset="0.7681" stop-color="#00aaa9"/><stop offset="0.7681" stop-color="#00aaab"/><stop offset="0.7693" stop-color="#0099dd"/><stop offset="0.7695" stop-color="#0091dd"/><stop offset="0.7808" stop-color="#0091dd"/><stop offset="0.7811" stop-color="#0099dd"/><stop offset="0.7823" stop-color="#00a9ae"/><stop offset="0.7901" stop-color="#00a9ae"/><stop offset="0.7908" stop-color="#0098dd"/><stop offset="0.7914" stop-color="#0077dd"/><stop offset="0.7916" stop-color="#0057dd"/><stop offset="0.7954" stop-color="#0057dd"/><stop offset="0.7955" stop-color="#0077dd"/><stop offset="0.7961" stop-color="#0099dc"/><stop offset="0.7966" stop-color="#00aaa9"/><stop offset="0.7969" stop-color="#00aa9b"/><stop offset="0.8058" stop-color="#00aa9b"/><stop offset="0.8062" stop-color="#00aaaa"/><stop offset="0.8070" stop-color="#0098dd"/><stop offset="0.8073" stop-color="#008add"/><stop offset="0.8186" stop-color="#008add"/><stop offset="0.8190" stop-color="#0076dd"/><stop offset="0.8199" stop-color="#0002dd"/><stop offset="0.8201" stop-color="#0000d3"/><stop offset="0.8215" stop-color="#0000d3"/><stop offset="0.8217" stop-color="#0001dd"/><stop offset="0.8226" stop-color="#0077dd"/><stop offset="0.8230" stop-color="#0087dd"/><stop offset="0.8260" stop-color="#0087dd"/><stop offset="0.8263" stop-color="#0078dd"/><stop offset="0.8270" stop-color="#0003dd"/><stop offset="0.8277" stop-color="#0300aa"/><stop offset="0.8279" stop-color="#2900a5"/><stop offset="0.8380" stop-color="#5200a0"/><stop offset="0.8492" stop-color="#880099"/><stop offset="0.8679" stop-color="#830094"/><stop offset="0.8866" stop-color="#7d008e"/><stop offset="0.9053" stop-color="#770088"/><stop offset="0.9203" stop-color="#53005f"/><stop offset="0.9315" stop-color="#3c0044"/><stop offset="0.9465" stop-color="#1d0021"/><stop offset="0.9577" stop-color="#0a000b"/><stop offset="0.9671" stop-color="#000000"/></linearGradient>
<linearGradient id="g20" gradientUnits="userSpaceOnUse" x1="48.00" y1="0" x2="315.30" y2="0"><stop offset="0.0000" stop-color="#300036"/><stop offset="0.1384" stop-color="#300036"/><stop offset="0.1449" stop-color="#770088"/><stop offset="0.1470" stop-color="#7a008b"/><stop offset="0.1590" stop-color="#870098"/><stop offset="0.1607" stop-color="#880099"/><stop offset="0.1732" stop-color="#5f009e"/><stop offset="0.1803" stop-color="#0000aa"/><stop offset="0.1893" stop-color="#0000ce"/><stop offset="0.1975" stop-color="#0000dd"/><stop offset="0.2001" stop-color="#000cdd"/><stop offset="0.2076" stop-color="#006bdd"/><stop offset="0.2091" stop-color="#0077dd"/><stop offset="0.2151" stop-color="#0085dd"/><stop offset="0.2245" stop-color="#0096dd"/><stop offset="0.2357" stop-color="#0099dd"/><stop offset="0.2413" stop-color="#009adb"/><stop offset="0.2432" stop-color="#0099dd"/><stop offset="0.2544" stop-color="#0091dd"/><stop offset="0.2694" stop-color="#008add"/><stop offset="0.2974" stop-color="#0086dd"/><stop offset="0.3049" stop-color="#0094dd"/><stop offset="0.3143" stop-color="#0094dd"/><stop offset="0.3217" stop-color="#0087dd"/><stop offset="0.3442" stop-color="#0085dd"/><stop offset="0.3704" stop-color="#0081dd"/><stop offset="0.3891" stop-color="#0083dd"/><stop offset="0.4040" stop-color="#008fdd"/><stop offset="0.4151" stop-color="#0099dd"/><stop offset="0.4190" stop-color="#009bd8"/><stop offset="0.4415" stop-color="#00a2c4"/><stop offset="0.4676" stop-color="#00a6b6"/><stop offset="0.4976" stop-color="#00a8af"/><stop offset="0.5275" stop-color="#00a6b6"/><stop offset="0.5537" stop-color="#009fcb"/><stop offset="0.5666" stop-color="#0099dd"/><stop offset="0.5724" stop-color="#0094dd"/><stop offset="0.5911" stop-color="#007fdd"/><stop offset="0.5978" stop-color="#0077dd"/><stop offset="0.6061" stop-color="#0053dd"/><stop offset="0.6210" stop-color="#000cdd"/><stop offset="0.6276" stop-color="#0000dd"/><stop offset="0.6472" stop-color="#0000ce"/><stop offset="0.6659" stop-color="#0000b4"/><stop offset="0.6734" stop-color="#0000aa"/><stop offset="0.6809" stop-color="#1b00a7"/><stop offset="0.6996" stop-color="#4c00a0"/><stop offset="0.7183" stop-color="#67009d"/><stop offset="0.7407" stop-color="#78009b"/><stop offset="0.7410" stop-color="#0000aa"/><stop offset="0.7411" stop-color="#0000c9"/><stop offset="0.7426" stop-color="#0000c9"/><stop offset="0.7428" stop-color="#0002dd"/><stop offset="0.7434" stop-color="#0077dd"/><stop offset="0.7439" stop-color="#0098dd"/><stop offset="0.7441" stop-color="#00a0c9"/><stop offset="0.7512" stop-color="#00a0c9"/><stop offset="0.7514" stop-color="#0098dd"/><stop offset="0.7519" stop-color="#0078dd"/><stop offset="0.7525" stop-color="#0001dd"/><stop offset="0.7527" stop-color="#0000c4"/><stop offset="0.7576" stop-color="#0000c4"/><stop offset="0.7578" stop-color="#0001dd"/><stop offset="0.7582" stop-color="#0078dd"/><stop offset="0.7587" stop-color="#0098dd"/><stop offset="0.7591" stop-color="#00a8af"/><stop offset="0.7681" stop-color="#00a8af"/><stop offset="0.7692" stop-color="#0099dd"/><stop offset="0.7695" stop-color="#008fdd"/><stop offset="0.7808" stop-color="#008fdd"/><stop offset="0.7812" stop-color="#0099dd"/><stop offset="0.7823" stop-color="#00a7b4"/><stop offset="0.7901" stop-color="#00a7b4"/><stop offset="0.7907" stop-color="#0099dc"/><stop offset="0.7914" stop-color="#0078dd"/><stop offset="0.7916" stop-color="#0053dd"/><stop offset="0.7954" stop-color="#0053dd"/><stop offset="0.7955" stop-color="#0078dd"/><stop offset="0.7961" stop-color="#0099dd"/><stop offset="0.7967" stop-color="#00aaab"/><stop offset="0.7969" stop-color="#00aaa0"/><stop offset="0.8058" stop-color="#00aaa0"/><stop offset="0.8061" stop-color="#00aaab"/><stop offset="0.8069" stop-color="#0099dd"/><stop offset="0.8073" stop-color="#0088dd"/><stop offset="0.8186" stop-color="#0088dd"/><stop offset="0.8190" stop-color="#0076dd"/><stop offset="0.8199" stop-color="#0001dd"/><stop offset="0.8201" stop-color="#0000d3"/><stop offset="0.8215" stop-color="#0000d3"/><stop offset="0.8217" stop-color="#0000dd"/><stop offset="0.8227" stop-color="#0077dd"/><stop offset="0.8230" stop-color="#0085dd"/><stop offset="0.8260" stop-color="#0085dd"/><stop offset="0.8263" stop-color="#0078dd"/><stop offset="0.8270" stop-color="#0000dd"/><stop offset="0.8277" stop-color="#0000ab"/><stop offset="0.8279" stop-color="#2900a5"/><stop offset="0.8380" stop-color="#5200a0"/><stop offset="0.8492" stop-color="#880099"/><stop offset="0.8679" stop-color="#830094"/><stop offset="0.8866" stop-color="#7d008e"/><stop offset="0.9053" stop-color="#770088"/><stop offset="0.9203" stop-color="#53005f"/><stop offset="0.9315" stop-color="#3c0044"/><stop offset="0.9465" stop-color="#1d0021"/><stop offset="0.9577" stop-color="#0a000b"/><stop offset="0.9671" stop-color="#000000"/></linearGradient>
<linearGradient id="g21" gradientUnits="userSpaceOnUse" x1="48.00" y1="0" x2="315.30" y2="0"><stop offset="0.0000" stop-color="#300036"/><stop offset="0.1384" stop-color="#300036"/><stop offset="0.1449" stop-color="#770088"/><stop offset="0.1470" stop-color="#7a008b"/><stop offset="0.1590" stop-color="#870098"/><stop offset="0.1607" stop-color="#880099"/><stop offset="0.1732" stop-color="#5f009e"/><stop offset="0.1803" stop-color="#0000aa"/><stop offset="0.1893" stop-color="#0000ce"/><stop offset="0.2001" stop-color="#0000dd"/><stop offset="0.2039" stop-color="#0077dd"/><stop offset="0.2132" stop-color="#0077dd"/><stop offset="0.2155" stop-color="#001fdd"/><stop offset="0.2233" stop-color="#001fdd"/><stop offset="0.2253" stop-color="#0077dd"/><stop offset="0.2256" stop-color="#007bdd"/><stop offset="0.2413" stop-color="#007bdd"/><stop offset="0.2416" stop-color="#0077dd"/><stop offset="0.2435" stop-color="#0024dd"/><stop offset="0.2518" stop-color="#0024dd"/><stop offset="0.2536" stop-color="#0077dd"/><stop offset="0.2540" stop-color="#007cdd"/><stop offset="0.2832" stop-color="#007cdd"/><stop offset="0.2837" stop-color="#0077dd"/><stop offset="0.2854" stop-color="#002bdd"/><stop offset="0.2974" stop-color="#002bdd"/><stop offset="0.2993" stop-color="#0077dd"/><stop offset="0.2997" stop-color="#007bdd"/><stop offset="0.3187" stop-color="#007bdd"/><stop offset="0.3195" stop-color="#0077dd"/><stop offset="0.3210" stop-color="#005add"/><stop offset="0.3244" stop-color="#005add"/><stop offset="0.3259" stop-color="#0077dd"/><stop offset="0.3266" stop-color="#007bdd"/><stop offset="0.3543" stop-color="#007bdd"/><stop offset="0.3547" stop-color="#0077dd"/><stop offset="0.3565" stop-color="#0030dd"/><stop offset="0.3640" stop-color="#0030dd"/><stop offset="0.3663" stop-color="#0077dd"/><stop offset="0.3872" stop-color="#0072dd"/><stop offset="0.3966" stop-color="#0030dd"/><stop offset="0.4040" stop-color="#0000dd"/><stop offset="0.4190" stop-color="#0000d3"/><stop offset="0.4564" stop-color="#0000c4"/><stop offset="0.4863" stop-color="#0000b4"/><stop offset="0.4938" stop-color="#0000aa"/><stop offset="0.5088" stop-color="#2900a5"/><stop offset="0.5275" stop-color="#5200a0"/><stop offset="0.5612" stop-color="#6d009c"/><stop offset="0.6061" stop-color="#880099"/><stop offset="0.7033" stop-color="#860097"/><stop offset="0.7220" stop-color="#7a008b"/><stop offset="0.7345" stop-color="#770088"/><stop offset="0.7407" stop-color="#6b007a"/><stop offset="0.7445" stop-color="#5f006d"/><stop offset="0.7460" stop-color="#770088"/><stop offset="0.7535" stop-color="#770088"/><stop offset="0.7550" stop-color="#5f006d"/><stop offset="0.7565" stop-color="#5f006d"/><stop offset="0.7579" stop-color="#770088"/><stop offset="0.7714" stop-color="#770088"/><stop offset="0.7729" stop-color="#5f006d"/><stop offset="0.7744" stop-color="#5f006d"/><stop offset="0.7759" stop-color="#770088"/><stop offset="0.7838" stop-color="#770088"/><stop offset="0.7853" stop-color="#5f006d"/><stop offset="0.7868" stop-color="#5f006d"/><stop offset="0.7883" stop-color="#770088"/><stop offset="0.7969" stop-color="#770088"/><stop offset="0.7984" stop-color="#5f006d"/><stop offset="0.7999" stop-color="#5f006d"/><stop offset="0.8013" stop-color="#770088"/><stop offset="0.8118" stop-color="#770088"/><stop offset="0.8133" stop-color="#5f006d"/><stop offset="0.8148" stop-color="#5f006d"/><stop offset="0.8163" stop-color="#770088"/><stop offset="0.8215" stop-color="#770088"/><stop offset="0.8230" stop-color="#5f006d"/><stop offset="0.8268" stop-color="#5f006d"/><stop offset="0.8492" stop-color="#4c0057"/><stop offset="0.8866" stop-color="#43004c"/><stop offset="0.9166" stop-color="#34003c"/><stop offset="0.9428" stop-color="#1d0021"/><stop offset="0.9689" stop-color="#000000"/></linearGradient>
<linearGradient id="g22" gradientUnits="userSpaceOnUse" x1="48.00" y1="0" x2="315.30" y2="0"><stop offset="0.0000" stop-color="#300036"/><stop offset="0.1384" stop-color="#300036"/><stop offset="0.1449" stop-color="#770088"/><stop offset="0.1470" stop-color="#7a008b"/><stop offset="0.1590" stop-color="#870098"/><stop offset="0.1607" stop-color="#880099"/><stop offset="0.1732" stop-color="#5f009e"/><stop offset="0.1803" stop-color="#0000aa"/><stop offset="0.1893" stop-color="#0000ce"/><stop offset="0.1973" stop-color="#0000dd"/><stop offset="0.2001" stop-color="#000ddd"/><stop offset="0.2076" stop-color="#0074dd"/><stop offset="0.2080" stop-color="#0077dd"/><stop offset="0.2151" stop-color="#0088dd"/><stop offset="0.2232" stop-color="#0099dd"/><stop offset="0.2245" stop-color="#009ad9"/><stop offset="0.2413" stop-color="#009cd3"/><stop offset="0.2501" stop-color="#0099dd"/><stop offset="0.2544" stop-color="#0096dd"/><stop offset="0.2694" stop-color="#008edd"/><stop offset="0.2974" stop-color="#008add"/><stop offset="0.3049" stop-color="#0099dd"/><stop offset="0.3143" stop-color="#0099dd"/><stop offset="0.3217" stop-color="#008bdd"/><stop offset="0.3442" stop-color="#0088dd"/><stop offset="0.3704" stop-color="#0084dd"/><stop offset="0.3891" stop-color="#0087dd"/><stop offset="0.4040" stop-color="#0094dd"/><stop offset="0.4092" stop-color="#0099dd"/><stop offset="0.4190" stop-color="#009ecf"/><stop offset="0.4415" stop-color="#00a5b9"/><stop offset="0.4676" stop-color="#00aaab"/><stop offset="0.4715" stop-color="#00aaaa"/><stop offset="0.4976" stop-color="#00aaa6"/><stop offset="0.5237" stop-color="#00aaaa"/><stop offset="0.5275" stop-color="#00aaab"/><stop offset="0.5537" stop-color="#00a2c1"/><stop offset="0.5720" stop-color="#0099dd"/><stop offset="0.5724" stop-color="#0099dd"/><stop offset="0.5911" stop-color="#0083dd"/><stop offset="0.5998" stop-color="#0077dd"/><stop offset="0.6061" stop-color="#005add"/><stop offset="0.6210" stop-color="#000ddd"/><stop offset="0.6279" stop-color="#0000dd"/><stop offset="0.6472" stop-color="#0000ce"/><stop offset="0.6659" stop-color="#0000b4"/><stop offset="0.6734" stop-color="#0000aa"/><stop offset="0.6809" stop-color="#1b00a7"/><stop offset="0.6996" stop-color="#4c00a0"/><stop offset="0.7183" stop-color="#67009d"/><stop offset="0.7407" stop-color="#78009b"/><stop offset="0.7410" stop-color="#0000aa"/><stop offset="0.7411" stop-color="#0000c9"/><stop offset="0.7426" stop-color="#0000c9"/><stop offset="0.7428" stop-color="#0000dc"/><stop offset="0.7433" stop-color="#0078dd"/><stop offset="0.7438" stop-color="#0099dd"/><stop offset="0.7441" stop-color="#00a3bf"/><stop offset="0.7512" stop-color="#00a3bf"/><stop offset="0.7515" stop-color="#0098dd"/><stop offset="0.7520" stop-color="#0073dd"/><stop offset="0.7525" stop-color="#0000db"/><stop offset="0.7527" stop-color="#0000c4"/><stop offset="0.7576" stop-color="#0000c4"/><stop offset="0.7578" stop-color="#0005dd"/><stop offset="0.7582" stop-color="#0078dd"/><stop offset="0.7586" stop-color="#009adb"/><stop offset="0.7590" stop-color="#00aaa9"/><stop offset="0.7591" stop-color="#00aaa6"/><stop offset="0.7681" stop-color="#00aaa6"/><stop offset="0.7682" stop-color="#00aaaa"/><stop offset="0.7694" stop-color="#0099dd"/><stop offset="0.7695" stop-color="#0093dd"/><stop offset="0.7808" stop-color="#0093dd"/><stop offset="0.7810" stop-color="#0099dc"/><stop offset="0.7822" stop-color="#00aaaa"/><stop offset="0.7823" stop-color="#00aaa9"/><stop offset="0.7901" stop-color="#00aaa9"/><stop offset="0.7908" stop-color="#0099dd"/><stop offset="0.7915" stop-color="#0075dd"/><stop offset="0.7916" stop-color="#005add"/><stop offset="0.7954" stop-color="#005add"/><stop offset="0.7955" stop-color="#0073dd"/><stop offset="0.7960" stop-color="#0099dc"/><stop offset="0.7966" stop-color="#00aaaa"/><stop offset="0.7969" stop-color="#00aa97"/><stop offset="0.8058" stop-color="#00aa97"/><stop offset="0.8063" stop-color="#00aaab"/><stop offset="0.8070" stop-color="#0099dd"/><stop offset="0.8073" stop-color="#008cdd"/><stop offset="0.8186" stop-color="#008cdd"/><stop offset="0.8191" stop-color="#0075dd"/><stop offset="0.8199" stop-color="#0000dc"/><stop offset="0.8201" stop-color="#0000d3"/><stop offset="0.8215" stop-color="#0000d3"/><stop offset="0.8217" stop-color="#0002dd"/><stop offset="0.8226" stop-color="#0077dd"/><stop offset="0.8230" stop-color="#0088dd"/><stop offset="0.8260" stop-color="#0088dd"/><stop offset="0.8264" stop-color="#0077dd"/><stop offset="0.8270" stop-color="#0000dd"/><stop offset="0.8277" stop-color="#0300aa"/><stop offset="0.8279" stop-color="#2900a5"/><stop offset="0.8380" stop-color="#5200a0"/><stop offset="0.8492" stop-color="#880099"/><stop offset="0.8679" stop-color="#830094"/><stop offset="0.8866" stop-color="#7d008e"/><stop offset="0.9053" stop-color="#770088"/><stop offset="0.9203" stop-color="#53005f"/><stop offset="0.9315" stop-color="#3c0044"/><stop offset="0.9465" stop-color="#1d0021"/><stop offset="0.9577" stop-color="#0a000b"/><stop offset="0.9671" stop-color="#000000"/></linearGradient>
<linearGradient id="g23" gradientUnits="userSpaceOnUse" x1="48.00" y1="0" x2="315.30" y2="0"><stop offset="0.0000" stop-color="#28002e"/><stop offset="0.1422" stop-color="#28002e"/><stop offset="0.1496" stop-color="#34003c"/><stop offset="0.5686" stop-color="#37003f"/><stop offset="0.7557" stop-color="#320039"/><stop offset="0.8492" stop-color="#240029"/><stop offset="0.9053" stop-color="#130016"/><stop offset="0.9428" stop-color="#000000"/></linearGradient>
<linearGradient id="g24" gradientUnits="userSpaceOnUse" x1="48.00" y1="0" x2="315.30" y2="0"><stop offset="0.0000" stop-color="#28002e"/><stop offset="0.1422" stop-color="#28002e"/><stop offset="0.1496" stop-color="#320039"/><stop offset="0.5686" stop-color="#34003c"/><stop offset="0.7557" stop-color="#300036"/><stop offset="0.8492" stop-color="#210026"/><stop offset="0.9053" stop-color="#130016"/><stop offset="0.9428" stop-color="#000000"/></linearGradient>
<linearGradient id="g25" gradientUnits="userSpaceOnUse" x1="48.00" y1="0" x2="315.30" y2="0"><stop offset="0.0000" stop-color="#2a0030"/><stop offset="0.0449" stop-color="#2a0030"/><stop offset="0.0524" stop-color="#2e0035"/><stop offset="0.1369" stop-color="#2f0036"/><stop offset="0.1437" stop-color="#61006f"/><stop offset="0.1469" stop-color="#770088"/><stop offset="0.1508" stop-color="#7b008c"/><stop offset="0.1556" stop-color="#830094"/><stop offset="0.1596" stop-color="#880099"/><stop offset="0.1627" stop-color="#6a009d"/><stop offset="0.1684" stop-color="#1900a7"/><stop offset="0.1692" stop-color="#0000aa"/><stop offset="0.1732" stop-color="#0000d4"/><stop offset="0.1741" stop-color="#0000dd"/><stop offset="0.1777" stop-color="#0056dd"/><stop offset="0.1808" stop-color="#0077dd"/><stop offset="0.1833" stop-color="#007edd"/><stop offset="0.1945" stop-color="#0090dd"/><stop offset="0.2029" stop-color="#0099dd"/><stop offset="0.2095" stop-color="#009dd2"/><stop offset="0.2245" stop-color="#00a1c5"/><stop offset="0.2357" stop-color="#00a6b6"/><stop offset="0.2413" stop-color="#00a7b3"/><stop offset="0.2469" stop-color="#00a4bb"/><stop offset="0.2581" stop-color="#009fcc"/><stop offset="0.2768" stop-color="#009bd6"/><stop offset="0.2923" stop-color="#0099dd"/><stop offset="0.3068" stop-color="#0095dd"/><stop offset="0.3629" stop-color="#008bdd"/><stop offset="0.4190" stop-color="#0080dd"/><stop offset="0.4751" stop-color="#0078dd"/><stop offset="0.4814" stop-color="#0077dd"/><stop offset="0.5238" stop-color="#0064dd"/><stop offset="0.5462" stop-color="#0056dd"/><stop offset="0.5612" stop-color="#002cdd"/><stop offset="0.5686" stop-color="#0020dd"/><stop offset="0.5836" stop-color="#0008dd"/><stop offset="0.5897" stop-color="#0000dd"/><stop offset="0.6061" stop-color="#0000d4"/><stop offset="0.6285" stop-color="#0000c9"/><stop offset="0.6435" stop-color="#0000bf"/><stop offset="0.6659" stop-color="#0000b2"/><stop offset="0.6801" stop-color="#0000aa"/><stop offset="0.6884" stop-color="#0d00a8"/><stop offset="0.7071" stop-color="#2f00a4"/><stop offset="0.7220" stop-color="#5100a0"/><stop offset="0.7407" stop-color="#6d009c"/><stop offset="0.7409" stop-color="#0000ad"/><stop offset="0.7411" stop-color="#0000d8"/><stop offset="0.7512" stop-color="#0000d8"/><stop offset="0.7520" stop-color="#0000aa"/><stop offset="0.7527" stop-color="#6d009c"/><stop offset="0.7565" stop-color="#6d009c"/><stop offset="0.7571" stop-color="#0000aa"/><stop offset="0.7579" stop-color="#0000dd"/><stop offset="0.7669" stop-color="#0000dd"/><stop offset="0.7684" stop-color="#0000af"/><stop offset="0.7785" stop-color="#0000ae"/><stop offset="0.7788" stop-color="#0000aa"/><stop offset="0.7800" stop-color="#3f00a2"/><stop offset="0.7838" stop-color="#4000a2"/><stop offset="0.7843" stop-color="#0000aa"/><stop offset="0.7853" stop-color="#0000d2"/><stop offset="0.7901" stop-color="#0000d2"/><stop offset="0.7910" stop-color="#0000aa"/><stop offset="0.7916" stop-color="#4e00a0"/><stop offset="0.7954" stop-color="#4e00a0"/><stop offset="0.7960" stop-color="#0000aa"/><stop offset="0.7969" stop-color="#0000d7"/><stop offset="0.8006" stop-color="#0000d6"/><stop offset="0.8021" stop-color="#0000ae"/><stop offset="0.8100" stop-color="#0000ad"/><stop offset="0.8101" stop-color="#0000aa"/><stop offset="0.8114" stop-color="#72009c"/><stop offset="0.8156" stop-color="#72009c"/><stop offset="0.8171" stop-color="#0c00a8"/><stop offset="0.8260" stop-color="#0d00a8"/><stop offset="0.8276" stop-color="#880099"/><stop offset="0.8279" stop-color="#860097"/><stop offset="0.8361" stop-color="#810092"/><stop offset="0.8455" stop-color="#7e008f"/><stop offset="0.8492" stop-color="#7d008e"/><stop offset="0.8567" stop-color="#7b008c"/><stop offset="0.8754" stop-color="#780089"/><stop offset="0.8842" stop-color="#770088"/><stop offset="0.8979" stop-color="#690078"/><stop offset="0.9053" stop-color="#590065"/><stop offset="0.9128" stop-color="#480052"/><stop offset="0.9278" stop-color="#29002f"/><stop offset="0.9428" stop-color="#110013"/><stop offset="0.9559" stop-color="#020003"/><stop offset="0.9615" stop-color="#000000"/></linearGradient>
<linearGradient id="g26" gradientUnits="userSpaceOnUse" x1="48.00" y1="0" x2="315.30" y2="0"><stop offset="0.0000" stop-color="#2c0032"/><stop offset="0.0449" stop-color="#2c0032"/><stop offset="0.0524" stop-color="#310038"/><stop offset="0.1384" stop-color="#320039"/><stop offset="0.1470" stop-color="#61006f"/><stop offset="0.1527" stop-color="#770088"/><stop offset="0.1590" stop-color="#7a008b"/><stop offset="0.1732" stop-color="#7d008e"/><stop offset="0.1803" stop-color="#830094"/><stop offset="0.1875" stop-color="#880099"/><stop offset="0.1893" stop-color="#7e009a"/><stop offset="0.2001" stop-color="#63009e"/><stop offset="0.2076" stop-color="#2b00a5"/><stop offset="0.2151" stop-color="#0800a9"/><stop offset="0.2171" stop-color="#0000aa"/><stop offset="0.2245" stop-color="#0000b5"/><stop offset="0.2413" stop-color="#0000b8"/><stop offset="0.2544" stop-color="#0000b1"/><stop offset="0.2694" stop-color="#0000ac"/><stop offset="0.2837" stop-color="#0000aa"/><stop offset="0.2974" stop-color="#0400aa"/><stop offset="0.2985" stop-color="#0000aa"/><stop offset="0.3049" stop-color="#0000b3"/><stop offset="0.3143" stop-color="#0000b3"/><stop offset="0.3214" stop-color="#0000aa"/><stop offset="0.3217" stop-color="#0100aa"/><stop offset="0.3442" stop-color="#0700a9"/><stop offset="0.3704" stop-color="#0f00a8"/><stop offset="0.3891" stop-color="#0a00a9"/><stop offset="0.3949" stop-color="#0000aa"/><stop offset="0.4040" stop-color="#0000b0"/><stop offset="0.4190" stop-color="#0000ba"/><stop offset="0.4415" stop-color="#0000c4"/><stop offset="0.4676" stop-color="#0000cb"/><stop offset="0.4976" stop-color="#0000cf"/><stop offset="0.5275" stop-color="#0000cb"/><stop offset="0.5537" stop-color="#0000c0"/><stop offset="0.5686" stop-color="#0000b5"/><stop offset="0.5724" stop-color="#0000b3"/><stop offset="0.5825" stop-color="#0000aa"/><stop offset="0.5911" stop-color="#1400a8"/><stop offset="0.6061" stop-color="#3a00a3"/><stop offset="0.6210" stop-color="#64009e"/><stop offset="0.6472" stop-color="#80009a"/><stop offset="0.6518" stop-color="#880099"/><stop offset="0.6659" stop-color="#850096"/><stop offset="0.6809" stop-color="#810092"/><stop offset="0.6996" stop-color="#7e008f"/><stop offset="0.7183" stop-color="#7d008e"/><stop offset="0.7407" stop-color="#7b008c"/><stop offset="0.7411" stop-color="#880099"/><stop offset="0.7426" stop-color="#880099"/><stop offset="0.7437" stop-color="#0000aa"/><stop offset="0.7441" stop-color="#0000c0"/><stop offset="0.7512" stop-color="#0000c0"/><stop offset="0.7517" stop-color="#0100aa"/><stop offset="0.7527" stop-color="#880099"/><stop offset="0.7527" stop-color="#870098"/><stop offset="0.7576" stop-color="#870098"/><stop offset="0.7576" stop-color="#880099"/><stop offset="0.7585" stop-color="#0100aa"/><stop offset="0.7591" stop-color="#0000cd"/><stop offset="0.7681" stop-color="#0000cd"/><stop offset="0.7695" stop-color="#0000ad"/><stop offset="0.7808" stop-color="#0000ad"/><stop offset="0.7823" stop-color="#0000ca"/><stop offset="0.7901" stop-color="#0000ca"/><stop offset="0.7910" stop-color="#0000aa"/><stop offset="0.7916" stop-color="#3f00a2"/><stop offset="0.7954" stop-color="#3f00a2"/><stop offset="0.7959" stop-color="#0000aa"/><stop offset="0.7969" stop-color="#0000d7"/><stop offset="0.8058" stop-color="#0000d6"/><stop offset="0.8072" stop-color="#0000aa"/><stop offset="0.8073" stop-color="#0800a9"/><stop offset="0.8186" stop-color="#0900a9"/><stop offset="0.8201" stop-color="#80009a"/><stop offset="0.8215" stop-color="#80009a"/><stop offset="0.8230" stop-color="#1100a8"/><stop offset="0.8260" stop-color="#1100a8"/><stop offset="0.8272" stop-color="#880099"/><stop offset="0.8279" stop-color="#800091"/><stop offset="0.8380" stop-color="#7d008e"/><stop offset="0.8492" stop-color="#79008a"/><stop offset="0.8643" stop-color="#770088"/><stop offset="0.8679" stop-color="#730083"/><stop offset="0.8866" stop-color="#5c0069"/><stop offset="0.9053" stop-color="#44004e"/><stop offset="0.9203" stop-color="#2f0035"/><stop offset="0.9315" stop-color="#200025"/><stop offset="0.9428" stop-color="#120015"/><stop offset="0.9465" stop-color="#0e0010"/><stop offset="0.9577" stop-color="#050005"/><stop offset="0.9671" stop-color="#000000"/></linearGradient>
<linearGradient id="g27" gradientUnits="userSpaceOnUse" x1="48.00" y1="0" x2="315.30" y2="0"><stop offset="0.0000" stop-color="#300036"/><stop offset="0.1384" stop-color="#300036"/><stop offset="0.1449" stop-color="#770088"/><stop offset="0.1470" stop-color="#7a008b"/><stop offset="0.1590" stop-color="#870098"/><stop offset="0.1607" stop-color="#880099"/><stop offset="0.1732" stop-color="#5f009e"/><stop offset="0.1803" stop-color="#0000aa"/><stop offset="0.1893" stop-color="#0000ce"/><stop offset="0.1986" stop-color="#0000dd"/><stop offset="0.2001" stop-color="#0006dd"/><stop offset="0.2039" stop-color="#0059dd"/><stop offset="0.2076" stop-color="#0071dd"/><stop offset="0.2091" stop-color="#0077dd"/><stop offset="0.2132" stop-color="#007cdd"/><stop offset="0.2143" stop-color="#0077dd"/><stop offset="0.2151" stop-color="#006add"/><stop offset="0.2155" stop-color="#0064dd"/><stop offset="0.2212" stop-color="#0077dd"/><stop offset="0.2233" stop-color="#0079dd"/><stop offset="0.2245" stop-color="#0081dd"/><stop offset="0.2256" stop-color="#0089dd"/><stop offset="0.2413" stop-color="#008bdd"/><stop offset="0.2435" stop-color="#007cdd"/><stop offset="0.2518" stop-color="#0079dd"/><stop offset="0.2540" stop-color="#0087dd"/><stop offset="0.2544" stop-color="#0087dd"/><stop offset="0.2694" stop-color="#0083dd"/><stop offset="0.2832" stop-color="#0082dd"/><stop offset="0.2850" stop-color="#0077dd"/><stop offset="0.2854" stop-color="#006edd"/><stop offset="0.2974" stop-color="#006bdd"/><stop offset="0.2979" stop-color="#0077dd"/><stop offset="0.2997" stop-color="#0083dd"/><stop offset="0.3049" stop-color="#0087dd"/><stop offset="0.3143" stop-color="#0087dd"/><stop offset="0.3187" stop-color="#0084dd"/><stop offset="0.3210" stop-color="#007cdd"/><stop offset="0.3217" stop-color="#007bdd"/><stop offset="0.3244" stop-color="#007bdd"/><stop offset="0.3266" stop-color="#0081dd"/><stop offset="0.3442" stop-color="#0080dd"/><stop offset="0.3543" stop-color="#007fdd"/><stop offset="0.3557" stop-color="#0077dd"/><stop offset="0.3565" stop-color="#0068dd"/><stop offset="0.3640" stop-color="#0066dd"/><stop offset="0.3651" stop-color="#0077dd"/><stop offset="0.3663" stop-color="#007cdd"/><stop offset="0.3872" stop-color="#007cdd"/><stop offset="0.3891" stop-color="#007bdd"/><stop offset="0.3949" stop-color="#0077dd"/><stop offset="0.3966" stop-color="#0073dd"/><stop offset="0.4040" stop-color="#0066dd"/><stop offset="0.4190" stop-color="#0071dd"/><stop offset="0.4292" stop-color="#0077dd"/><stop offset="0.4415" stop-color="#0079dd"/><stop offset="0.4564" stop-color="#007add"/><stop offset="0.4676" stop-color="#007add"/><stop offset="0.4863" stop-color="#0078dd"/><stop offset="0.4885" stop-color="#0077dd"/><stop offset="0.4938" stop-color="#0070dd"/><stop offset="0.4976" stop-color="#006ddd"/><stop offset="0.5088" stop-color="#005cdd"/><stop offset="0.5275" stop-color="#0045dd"/><stop offset="0.5537" stop-color="#0024dd"/><stop offset="0.5612" stop-color="#0015dd"/><stop offset="0.5721" stop-color="#0000dd"/><stop offset="0.5724" stop-color="#0000dd"/><stop offset="0.5911" stop-color="#0000cb"/><stop offset="0.6061" stop-color="#0000bc"/><stop offset="0.6210" stop-color="#0000ac"/><stop offset="0.6262" stop-color="#0000aa"/><stop offset="0.6472" stop-color="#1700a7"/><stop offset="0.6659" stop-color="#3b00a3"/><stop offset="0.6809" stop-color="#57009f"/><stop offset="0.6996" stop-color="#71009c"/><stop offset="0.7033" stop-color="#74009c"/><stop offset="0.7096" stop-color="#880099"/><stop offset="0.7183" stop-color="#840095"/><stop offset="0.7220" stop-color="#830094"/><stop offset="0.7407" stop-color="#800091"/><stop offset="0.7410" stop-color="#850099"/><stop offset="0.7411" stop-color="#67009d"/><stop offset="0.7426" stop-color="#69009d"/><stop offset="0.7434" stop-color="#0200aa"/><stop offset="0.7441" stop-color="#0000c9"/><stop offset="0.7445" stop-color="#0000c9"/><stop offset="0.7460" stop-color="#0000ce"/><stop offset="0.7512" stop-color="#0000ce"/><stop offset="0.7519" stop-color="#0000ab"/><stop offset="0.7527" stop-color="#66009d"/><stop offset="0.7535" stop-color="#66009d"/><stop offset="0.7550" stop-color="#74009c"/><stop offset="0.7565" stop-color="#74009c"/><stop offset="0.7576" stop-color="#69009d"/><stop offset="0.7579" stop-color="#2c00a4"/><stop offset="0.7582" stop-color="#0000ab"/><stop offset="0.7591" stop-color="#0000da"/><stop offset="0.7681" stop-color="#0000da"/><stop offset="0.7695" stop-color="#0000bc"/><stop offset="0.7714" stop-color="#0000bc"/><stop offset="0.7729" stop-color="#0000b7"/><stop offset="0.7744" stop-color="#0000b7"/><stop offset="0.7759" stop-color="#0000bc"/><stop offset="0.7808" stop-color="#0000bc"/><stop offset="0.7823" stop-color="#0000d8"/><stop offset="0.7838" stop-color="#0000d8"/><stop offset="0.7853" stop-color="#0000d3"/><stop offset="0.7868" stop-color="#0000d3"/><stop offset="0.7883" stop-color="#0000d8"/><stop offset="0.7901" stop-color="#0000d8"/><stop offset="0.7914" stop-color="#0000aa"/><stop offset="0.7916" stop-color="#1400a7"/><stop offset="0.7954" stop-color="#1400a7"/><stop offset="0.7955" stop-color="#0000ab"/><stop offset="0.7967" stop-color="#0000dc"/><stop offset="0.7969" stop-color="#0012dd"/><stop offset="0.7984" stop-color="#0006dd"/><stop offset="0.7999" stop-color="#0006dd"/><stop offset="0.8013" stop-color="#0012dd"/><stop offset="0.8058" stop-color="#0012dd"/><stop offset="0.8061" stop-color="#0000dd"/><stop offset="0.8073" stop-color="#0000b7"/><stop offset="0.8118" stop-color="#0000b7"/><stop offset="0.8133" stop-color="#0000b2"/><stop offset="0.8148" stop-color="#0000b2"/><stop offset="0.8163" stop-color="#0000b7"/><stop offset="0.8186" stop-color="#0000b7"/><stop offset="0.8190" stop-color="#0100aa"/><stop offset="0.8201" stop-color="#5200a0"/><stop offset="0.8215" stop-color="#5200a0"/><stop offset="0.8228" stop-color="#0100aa"/><stop offset="0.8230" stop-color="#0000af"/><stop offset="0.8260" stop-color="#0000af"/><stop offset="0.8262" stop-color="#0100aa"/><stop offset="0.8268" stop-color="#3c00a3"/><stop offset="0.8276" stop-color="#880099"/><stop offset="0.8279" stop-color="#840095"/><stop offset="0.8380" stop-color="#810092"/><stop offset="0.8492" stop-color="#7c008d"/><stop offset="0.8679" stop-color="#7a008b"/><stop offset="0.8827" stop-color="#770088"/><stop offset="0.8866" stop-color="#720083"/><stop offset="0.9053" stop-color="#580065"/><stop offset="0.9166" stop-color="#480053"/><stop offset="0.9203" stop-color="#42004c"/><stop offset="0.9315" stop-color="#310038"/><stop offset="0.9428" stop-color="#200025"/><stop offset="0.9465" stop-color="#1b001e"/><stop offset="0.9577" stop-color="#0b000c"/><stop offset="0.9671" stop-color="#010001"/><stop offset="0.9689" stop-color="#000000"/></linearGradient>
<linearGradient id="g28" gradientUnits="userSpaceOnUse" x1="48.00" y1="0" x2="315.30" y2="0"><stop offset="0.0000" stop-color="#300036"/><stop offset="0.1384" stop-color="#300036"/><stop offset="0.1449" stop-color="#770088"/><stop offset="0.1470" stop-color="#7a008b"/><stop offset="0.1590" stop-color="#870098"/><stop offset="0.1607" stop-color="#880099"/><stop offset="0.1732" stop-color="#5f009e"/><stop offset="0.1803" stop-color="#0000aa"/><stop offset="0.1893" stop-color="#0000ce"/><stop offset="0.1985" stop-color="#0000dd"/><stop offset="0.2001" stop-color="#0006dd"/><stop offset="0.2039" stop-color="#005add"/><stop offset="0.2076" stop-color="#0073dd"/><stop offset="0.2086" stop-color="#0077dd"/><stop offset="0.2132" stop-color="#007ddd"/><stop offset="0.2145" stop-color="#0077dd"/><stop offset="0.2151" stop-color="#006ddd"/><stop offset="0.2155" stop-color="#0067dd"/><stop offset="0.2200" stop-color="#0077dd"/><stop offset="0.2233" stop-color="#007add"/><stop offset="0.2245" stop-color="#0083dd"/><stop offset="0.2256" stop-color="#008add"/><stop offset="0.2413" stop-color="#008cdd"/><stop offset="0.2435" stop-color="#007ddd"/><stop offset="0.2518" stop-color="#007add"/><stop offset="0.2540" stop-color="#0088dd"/><stop offset="0.2544" stop-color="#0088dd"/><stop offset="0.2694" stop-color="#0084dd"/><stop offset="0.2832" stop-color="#0083dd"/><stop offset="0.2852" stop-color="#0077dd"/><stop offset="0.2854" stop-color="#0072dd"/><stop offset="0.2974" stop-color="#006fdd"/><stop offset="0.2978" stop-color="#0077dd"/><stop offset="0.2997" stop-color="#0084dd"/><stop offset="0.3049" stop-color="#0089dd"/><stop offset="0.3143" stop-color="#0089dd"/><stop offset="0.3187" stop-color="#0085dd"/><stop offset="0.3210" stop-color="#007ddd"/><stop offset="0.3217" stop-color="#007cdd"/><stop offset="0.3244" stop-color="#007cdd"/><stop offset="0.3266" stop-color="#0082dd"/><stop offset="0.3442" stop-color="#0081dd"/><stop offset="0.3543" stop-color="#0080dd"/><stop offset="0.3559" stop-color="#0077dd"/><stop offset="0.3565" stop-color="#006bdd"/><stop offset="0.3640" stop-color="#0069dd"/><stop offset="0.3649" stop-color="#0077dd"/><stop offset="0.3663" stop-color="#007ddd"/><stop offset="0.3872" stop-color="#007ddd"/><stop offset="0.3891" stop-color="#007bdd"/><stop offset="0.3966" stop-color="#0077dd"/><stop offset="0.3966" stop-color="#0077dd"/><stop offset="0.4040" stop-color="#006add"/><stop offset="0.4190" stop-color="#0076dd"/><stop offset="0.4205" stop-color="#0077dd"/><stop offset="0.4415" stop-color="#007bdd"/><stop offset="0.4676" stop-color="#007bdd"/><stop offset="0.4863" stop-color="#007add"/><stop offset="0.4937" stop-color="#0077dd"/><stop offset="0.4938" stop-color="#0077dd"/><stop offset="0.4976" stop-color="#0073dd"/><stop offset="0.5088" stop-color="#0063dd"/><stop offset="0.5275" stop-color="#004cdd"/><stop offset="0.5537" stop-color="#002add"/><stop offset="0.5612" stop-color="#001add"/><stop offset="0.5724" stop-color="#0004dd"/><stop offset="0.5741" stop-color="#0000dd"/><stop offset="0.5911" stop-color="#0000cd"/><stop offset="0.6061" stop-color="#0000bd"/><stop offset="0.6210" stop-color="#0000ac"/><stop offset="0.6264" stop-color="#0000aa"/><stop offset="0.6472" stop-color="#1700a7"/><stop offset="0.6659" stop-color="#3b00a3"/><stop offset="0.6809" stop-color="#57009f"/><stop offset="0.6996" stop-color="#71009c"/><stop offset="0.7033" stop-color="#74009c"/><stop offset="0.7096" stop-color="#880099"/><stop offset="0.7183" stop-color="#840095"/><stop offset="0.7220" stop-color="#830094"/><stop offset="0.7407" stop-color="#800091"/><stop offset="0.7410" stop-color="#850099"/><stop offset="0.7411" stop-color="#67009d"/><stop offset="0.7426" stop-color="#69009d"/><stop offset="0.7434" stop-color="#0000ab"/><stop offset="0.7441" stop-color="#0000cb"/><stop offset="0.7445" stop-color="#0000cb"/><stop offset="0.7460" stop-color="#0000d0"/><stop offset="0.7512" stop-color="#0000d0"/><stop offset="0.7520" stop-color="#0000aa"/><stop offset="0.7527" stop-color="#66009d"/><stop offset="0.7535" stop-color="#66009d"/><stop offset="0.7550" stop-color="#74009c"/><stop offset="0.7565" stop-color="#74009c"/><stop offset="0.7576" stop-color="#69009d"/><stop offset="0.7579" stop-color="#2a00a5"/><stop offset="0.7582" stop-color="#0000aa"/><stop offset="0.7591" stop-color="#0001dd"/><stop offset="0.7681" stop-color="#0001dd"/><stop offset="0.7681" stop-color="#0000dd"/><stop offset="0.7695" stop-color="#0000be"/><stop offset="0.7714" stop-color="#0000be"/><stop offset="0.7729" stop-color="#0000b8"/><stop offset="0.7744" stop-color="#0000b8"/><stop offset="0.7759" stop-color="#0000be"/><stop offset="0.7808" stop-color="#0000be"/><stop offset="0.7823" stop-color="#0000db"/><stop offset="0.7838" stop-color="#0000db"/><stop offset="0.7853" stop-color="#0000d6"/><stop offset="0.7868" stop-color="#0000d6"/><stop offset="0.7883" stop-color="#0000db"/><stop offset="0.7901" stop-color="#0000db"/><stop offset="0.7914" stop-color="#0000aa"/><stop offset="0.7916" stop-color="#1200a8"/><stop offset="0.7954" stop-color="#1200a8"/><stop offset="0.7955" stop-color="#0000aa"/><stop offset="0.7966" stop-color="#0002dd"/><stop offset="0.7969" stop-color="#001add"/><stop offset="0.7984" stop-color="#000edd"/><stop offset="0.7999" stop-color="#000edd"/><stop offset="0.8013" stop-color="#001add"/><stop offset="0.8058" stop-color="#001add"/><stop offset="0.8062" stop-color="#0001dd"/><stop offset="0.8073" stop-color="#0000b8"/><stop offset="0.8118" stop-color="#0000b8"/><stop offset="0.8133" stop-color="#0000b3"/><stop offset="0.8148" stop-color="#0000b3"/><stop offset="0.8163" stop-color="#0000b8"/><stop offset="0.8186" stop-color="#0000b8"/><stop offset="0.8190" stop-color="#0100aa"/><stop offset="0.8201" stop-color="#5200a0"/><stop offset="0.8215" stop-color="#5200a0"/><stop offset="0.8228" stop-color="#0000aa"/><stop offset="0.8230" stop-color="#0000b1"/><stop offset="0.8260" stop-color="#0000b1"/><stop offset="0.8262" stop-color="#0100aa"/><stop offset="0.8268" stop-color="#3a00a3"/><stop offset="0.8276" stop-color="#880099"/><stop offset="0.8279" stop-color="#840095"/><stop offset="0.8380" stop-color="#810092"/><stop offset="0.8492" stop-color="#7c008d"/><stop offset="0.8679" stop-color="#7a008b"/><stop offset="0.8827" stop-color="#770088"/><stop offset="0.8866" stop-color="#720083"/><stop offset="0.9053" stop-color="#580065"/><stop offset="0.9166" stop-color="#480053"/><stop offset="0.9203" stop-color="#42004c"/><stop offset="0.9315" stop-color="#310038"/><stop offset="0.9428" stop-color="#200025"/><stop offset="0.9465" stop-color="#1b001e"/><stop offset="0.9577" stop-color="#0b000c"/><stop offset="0.9671" stop-color="#010001"/><stop offset="0.9689" stop-color="#000000"/></linearGradient>
<linearGradient id="g29" gradientUnits="userSpaceOnUse" x1="48.00" y1="0" x2="315.30" y2="0"><stop offset="0.0000" stop-color="#2c0032"/><stop offset="0.1384" stop-color="#2c0032"/><stop offset="0.1422" stop-color="#41004a"/><stop offset="0.1470" stop-color="#60006d"/><stop offset="0.1496" stop-color="#6b007b"/><stop offset="0.1527" stop-color="#770088"/><stop offset="0.1590" stop-color="#7a008b"/><stop offset="0.1732" stop-color="#7d008e"/><stop offset="0.1803" stop-color="#830094"/><stop offset="0.1875" stop-color="#880099"/><stop offset="0.1893" stop-color="#7e009a"/><stop offset="0.2001" stop-color="#63009e"/><stop offset="0.2076" stop-color="#2d00a4"/><stop offset="0.2151" stop-color="#0b00a9"/><stop offset="0.2179" stop-color="#0000aa"/><stop offset="0.2245" stop-color="#0000b3"/><stop offset="0.2413" stop-color="#0000b6"/><stop offset="0.2544" stop-color="#0000af"/><stop offset="0.2694" stop-color="#0000aa"/><stop offset="0.2707" stop-color="#0000aa"/><stop offset="0.2974" stop-color="#0800a9"/><stop offset="0.2995" stop-color="#0000aa"/><stop offset="0.3049" stop-color="#0000b1"/><stop offset="0.3143" stop-color="#0000b1"/><stop offset="0.3202" stop-color="#0000aa"/><stop offset="0.3217" stop-color="#0500a9"/><stop offset="0.3442" stop-color="#0a00a9"/><stop offset="0.3704" stop-color="#1200a8"/><stop offset="0.3891" stop-color="#0d00a8"/><stop offset="0.3969" stop-color="#0000aa"/><stop offset="0.4040" stop-color="#0000ae"/><stop offset="0.4190" stop-color="#0000b8"/><stop offset="0.4415" stop-color="#0000c2"/><stop offset="0.4676" stop-color="#0000c9"/><stop offset="0.4976" stop-color="#0000cd"/><stop offset="0.5275" stop-color="#0000c9"/><stop offset="0.5537" stop-color="#0000bf"/><stop offset="0.5686" stop-color="#0000b4"/><stop offset="0.5724" stop-color="#0000b2"/><stop offset="0.5817" stop-color="#0000aa"/><stop offset="0.5911" stop-color="#1500a7"/><stop offset="0.6061" stop-color="#3a00a3"/><stop offset="0.6210" stop-color="#63009e"/><stop offset="0.6472" stop-color="#7e009a"/><stop offset="0.6525" stop-color="#880099"/><stop offset="0.6659" stop-color="#850096"/><stop offset="0.6809" stop-color="#820093"/><stop offset="0.6996" stop-color="#7e008f"/><stop offset="0.7183" stop-color="#7d008e"/><stop offset="0.7407" stop-color="#7c008d"/><stop offset="0.7411" stop-color="#860099"/><stop offset="0.7426" stop-color="#860099"/><stop offset="0.7437" stop-color="#0100aa"/><stop offset="0.7441" stop-color="#0000bf"/><stop offset="0.7512" stop-color="#0000bf"/><stop offset="0.7516" stop-color="#0000ab"/><stop offset="0.7527" stop-color="#880099"/><stop offset="0.7527" stop-color="#870098"/><stop offset="0.7576" stop-color="#870098"/><stop offset="0.7576" stop-color="#880099"/><stop offset="0.7585" stop-color="#0000ab"/><stop offset="0.7591" stop-color="#0000cc"/><stop offset="0.7681" stop-color="#0000cb"/><stop offset="0.7695" stop-color="#0000ad"/><stop offset="0.7808" stop-color="#0000ac"/><stop offset="0.7823" stop-color="#0000c8"/><stop offset="0.7901" stop-color="#0000c8"/><stop offset="0.7909" stop-color="#0000ab"/><stop offset="0.7916" stop-color="#3f00a2"/><stop offset="0.7954" stop-color="#3f00a2"/><stop offset="0.7959" stop-color="#0100aa"/><stop offset="0.7969" stop-color="#0000d5"/><stop offset="0.8058" stop-color="#0000d4"/><stop offset="0.8072" stop-color="#0100aa"/><stop offset="0.8073" stop-color="#0a00a9"/><stop offset="0.8186" stop-color="#0b00a9"/><stop offset="0.8201" stop-color="#7f009a"/><stop offset="0.8215" stop-color="#7f009a"/><stop offset="0.8230" stop-color="#1200a8"/><stop offset="0.8260" stop-color="#1200a8"/><stop offset="0.8272" stop-color="#880099"/><stop offset="0.8279" stop-color="#800091"/><stop offset="0.8380" stop-color="#7d008e"/><stop offset="0.8492" stop-color="#7a008b"/><stop offset="0.8654" stop-color="#770088"/><stop offset="0.8679" stop-color="#740085"/><stop offset="0.8866" stop-color="#5d006b"/><stop offset="0.9053" stop-color="#45004f"/><stop offset="0.9203" stop-color="#2f0036"/><stop offset="0.9315" stop-color="#210025"/><stop offset="0.9428" stop-color="#120015"/><stop offset="0.9465" stop-color="#0e0010"/><stop offset="0.9577" stop-color="#050005"/><stop offset="0.9671" stop-color="#000000"/></linearGradient>
<linearGradient id="g30" gradientUnits="userSpaceOnUse" x1="48.00" y1="0" x2="315.30" y2="0"><stop offset="0.0000" stop-color="#2a0030"/><stop offset="0.1369" stop-color="#2a0030"/><stop offset="0.1422" stop-color="#51005c"/><stop offset="0.1437" stop-color="#5d006a"/><stop offset="0.1473" stop-color="#770088"/><stop offset="0.1496" stop-color="#7a008a"/><stop offset="0.1508" stop-color="#7b008c"/><stop offset="0.1556" stop-color="#830094"/><stop offset="0.1597" stop-color="#880099"/><stop offset="0.1627" stop-color="#6b009d"/><stop offset="0.1684" stop-color="#1a00a7"/><stop offset="0.1693" stop-color="#0000aa"/><stop offset="0.1732" stop-color="#0000d3"/><stop offset="0.1741" stop-color="#0000dd"/><stop offset="0.1777" stop-color="#0055dd"/><stop offset="0.1810" stop-color="#0077dd"/><stop offset="0.1833" stop-color="#007edd"/><stop offset="0.1945" stop-color="#008fdd"/><stop offset="0.2032" stop-color="#0099dd"/><stop offset="0.2095" stop-color="#009dd2"/><stop offset="0.2245" stop-color="#00a1c5"/><stop offset="0.2357" stop-color="#00a6b6"/><stop offset="0.2413" stop-color="#00a7b4"/><stop offset="0.2469" stop-color="#00a4bb"/><stop offset="0.2581" stop-color="#009ecd"/><stop offset="0.2768" stop-color="#009bd7"/><stop offset="0.2904" stop-color="#0099dd"/><stop offset="0.3068" stop-color="#0094dd"/><stop offset="0.3629" stop-color="#008add"/><stop offset="0.4190" stop-color="#0080dd"/><stop offset="0.4751" stop-color="#0078dd"/><stop offset="0.4799" stop-color="#0077dd"/><stop offset="0.5238" stop-color="#0064dd"/><stop offset="0.5462" stop-color="#0056dd"/><stop offset="0.5612" stop-color="#002cdd"/><stop offset="0.5686" stop-color="#0020dd"/><stop offset="0.5836" stop-color="#0008dd"/><stop offset="0.5897" stop-color="#0000dd"/><stop offset="0.6061" stop-color="#0000d4"/><stop offset="0.6285" stop-color="#0000c9"/><stop offset="0.6435" stop-color="#0000bf"/><stop offset="0.6659" stop-color="#0000b2"/><stop offset="0.6801" stop-color="#0000aa"/><stop offset="0.6884" stop-color="#0d00a8"/><stop offset="0.7071" stop-color="#2f00a4"/><stop offset="0.7220" stop-color="#5100a0"/><stop offset="0.7407" stop-color="#6d009c"/><stop offset="0.7409" stop-color="#0000ad"/><stop offset="0.7411" stop-color="#0000d8"/><stop offset="0.7512" stop-color="#0000d8"/><stop offset="0.7520" stop-color="#0000aa"/><stop offset="0.7527" stop-color="#6d009c"/><stop offset="0.7565" stop-color="#6d009c"/><stop offset="0.7571" stop-color="#0000aa"/><stop offset="0.7579" stop-color="#0000dd"/><stop offset="0.7669" stop-color="#0000dd"/><stop offset="0.7684" stop-color="#0000af"/><stop offset="0.7785" stop-color="#0000ae"/><stop offset="0.7788" stop-color="#0000aa"/><stop offset="0.7800" stop-color="#3f00a2"/><stop offset="0.7838" stop-color="#4000a2"/><stop offset="0.7843" stop-color="#0000aa"/><stop offset="0.7853" stop-color="#0000d2"/><stop offset="0.7901" stop-color="#0000d2"/><stop offset="0.7910" stop-color="#0000aa"/><stop offset="0.7916" stop-color="#4e00a0"/><stop offset="0.7954" stop-color="#4e00a0"/><stop offset="0.7960" stop-color="#0000aa"/><stop offset="0.7969" stop-color="#0000d7"/><stop offset="0.8006" stop-color="#0000d6"/><stop offset="0.8021" stop-color="#0000ae"/><stop offset="0.8100" stop-color="#0000ad"/><stop offset="0.8101" stop-color="#0000aa"/><stop offset="0.8114" stop-color="#72009c"/><stop offset="0.8156" stop-color="#72009c"/><stop offset="0.8171" stop-color="#0c00a8"/><stop offset="0.8260" stop-color="#0d00a8"/><stop offset="0.8276" stop-color="#880099"/><stop offset="0.8279" stop-color="#860097"/><stop offset="0.8361" stop-color="#810092"/><stop offset="0.8455" stop-color="#7e008f"/><stop offset="0.8492" stop-color="#7d008e"/><stop offset="0.8567" stop-color="#7b008c"/><stop offset="0.8754" stop-color="#780089"/><stop offset="0.8849" stop-color="#770088"/><stop offset="0.8979" stop-color="#6a0079"/><stop offset="0.9053" stop-color="#5a0067"/><stop offset="0.9128" stop-color="#490053"/><stop offset="0.9278" stop-color="#2a0030"/><stop offset="0.9428" stop-color="#110013"/><stop offset="0.9559" stop-color="#020003"/><stop offset="0.9615" stop-color="#000000"/></linearGradient>
<clipPath id="cl"><rect x="48" y="28" width="267.3" height="368"/></clipPath>
<clipPath id="cr"><rect x="328" y="28" width="267.3" height="368"/></clipPath>
</defs>
<g shape-rendering="crispEdges">
<rect x="48" y="28" width="267.3" height="368" fill="#1a0020"/>
<rect x="48.00" y="28.00" width="267.30" height="16.73" fill="url(#g0)"/>
<rect x="48.00" y="44.73" width="267.30" height="16.73" fill="url(#g1)"/>
<rect x="48.00" y="61.45" width="267.30" height="16.73" fill="url(#g2)"/>
<rect x="48.00" y="78.18" width="267.30" height="16.73" fill="url(#g3)"/>
<rect x="48.00" y="94.91" width="267.30" height="16.73" fill="url(#g4)"/>
<rect x="48.00" y="111.64" width="267.30" height="16.73" fill="url(#g5)"/>
<rect x="48.00" y="128.36" width="267.30" height="16.73" fill="url(#g6)"/>
<rect x="48.00" y="145.09" width="267.30" height="16.73" fill="url(#g5)"/>
<rect x="48.00" y="161.82" width="267.30" height="16.73" fill="url(#g7)"/>
<rect x="48.00" y="178.55" width="267.30" height="16.73" fill="url(#g5)"/>
<rect x="48.00" y="195.27" width="267.30" height="16.73" fill="url(#g6)"/>
<rect x="48.00" y="212.00" width="267.30" height="16.73" fill="url(#g7)"/>
<rect x="48.00" y="228.73" width="267.30" height="16.73" fill="url(#g5)"/>
<rect x="48.00" y="245.45" width="267.30" height="16.73" fill="url(#g8)"/>
<rect x="48.00" y="262.18" width="267.30" height="16.73" fill="url(#g7)"/>
<rect x="48.00" y="278.91" width="267.30" height="16.73" fill="url(#g8)"/>
<rect x="48.00" y="295.64" width="267.30" height="16.73" fill="url(#g7)"/>
<rect x="48.00" y="312.36" width="267.30" height="16.73" fill="url(#g8)"/>
<rect x="48.00" y="329.09" width="267.30" height="16.73" fill="url(#g7)"/>
<rect x="48.00" y="345.82" width="267.30" height="16.73" fill="url(#g9)"/>
<rect x="48.00" y="362.55" width="267.30" height="33.45" fill="url(#g10)"/>
<rect x="48.00" y="44.50" width="267.30" height="1" fill="url(#g11)"/>
<rect x="48.00" y="77.50" width="267.30" height="1" fill="url(#g12)"/>
<rect x="48.00" y="345.50" width="267.30" height="1" fill="url(#g13)"/>
<rect x="48.00" y="362.50" width="267.30" height="1" fill="url(#g14)"/>
<g transform="translate(280 0)">
<rect x="48" y="28" width="267.3" height="368" fill="#1a0020"/>
<rect x="48.00" y="28.00" width="267.30" height="33.45" fill="url(#g15)"/>
<rect x="48.00" y="61.45" width="267.30" height="16.73" fill="url(#g16)"/>
<rect x="48.00" y="78.18" width="267.30" height="16.73" fill="url(#g17)"/>
<rect x="48.00" y="94.91" width="267.30" height="16.73" fill="url(#g18)"/>
<rect x="48.00" y="111.64" width="267.30" height="16.73" fill="url(#g19)"/>
<rect x="48.00" y="128.36" width="267.30" height="16.73" fill="url(#g20)"/>
<rect x="48.00" y="145.09" width="267.30" height="16.73" fill="url(#g21)"/>
<rect x="48.00" y="161.82" width="267.30" height="16.73" fill="url(#g19)"/>
<rect x="48.00" y="178.55" width="267.30" height="16.73" fill="url(#g20)"/>
<rect x="48.00" y="195.27" width="267.30" height="16.73" fill="url(#g19)"/>
<rect x="48.00" y="212.00" width="267.30" height="16.73" fill="url(#g17)"/>
<rect x="48.00" y="228.73" width="267.30" height="16.73" fill="url(#g22)"/>
<rect x="48.00" y="245.45" width="267.30" height="16.73" fill="url(#g19)"/>
<rect x="48.00" y="262.18" width="267.30" height="16.73" fill="url(#g22)"/>
<rect x="48.00" y="278.91" width="267.30" height="16.73" fill="url(#g19)"/>
<rect x="48.00" y="295.64" width="267.30" height="16.73" fill="url(#g22)"/>
<rect x="48.00" y="312.36" width="267.30" height="16.73" fill="url(#g19)"/>
<rect x="48.00" y="329.09" width="267.30" height="16.73" fill="url(#g20)"/>
<rect x="48.00" y="345.82" width="267.30" height="16.73" fill="url(#g23)"/>
<rect x="48.00" y="362.55" width="267.30" height="16.73" fill="url(#g24)"/>
<rect x="48.00" y="379.27" width="267.30" height="16.73" fill="url(#g15)"/>
<rect x="48.00" y="60.50" width="267.30" height="1" fill="url(#g25)"/>
<rect x="48.00" y="77.50" width="267.30" height="1" fill="url(#g26)"/>
<rect x="48.00" y="144.50" width="267.30" height="1" fill="url(#g27)"/>
<rect x="48.00" y="161.50" width="267.30" height="1" fill="url(#g28)"/>
<rect x="48.00" y="345.50" width="267.30" height="1" fill="url(#g29)"/>
<rect x="48.00" y="378.50" width="267.30" height="1" fill="url(#g30)"/>
</g>
<rect x="48" y="28" width="1.1" height="368" fill="#c8f000"/>
<rect x="48" y="44.7" width="1.1" height="33.4" fill="#30d000"/>
<rect x="48" y="345.4" width="1.1" height="16.7" fill="#e8e800"/>
<rect x="328" y="28" width="1.0" height="368" fill="#0000d0"/>
<rect x="328" y="78.2" width="1.0" height="16" fill="#a000a0"/>
<rect x="328" y="112" width="1.0" height="188" fill="#b000a0"/>
<rect x="328" y="345.4" width="1.0" height="33.4" fill="#2000a0"/>
<rect x="160" y="78.2" width="0.9" height="33.4" fill="#00a08a" opacity="0.8"/>
</g>
<g clip-path="url(#cl)">
<path d="M49.5,115 L49.5,299" stroke="#fff" stroke-width="2.6" fill="none"/>
<path d="M49.5,298.7 L50.5,298.8 L51.5,299.0 L52.5,299.1 L53.5,299.3 L54.5,299.4 L55.5,299.5 L56.5,299.6 L57.5,299.7 L58.5,299.8 L59.5,299.9 L60.5,299.9 L61.5,300.0 L62.5,300.1 L63.5,300.2 L64.5,300.3 L65.5,300.3 L66.5,300.3 L67.5,300.3 L68.5,300.3 L69.5,300.3 L70.5,300.3 L71.5,300.3 L72.5,300.4 L73.5,300.4 L74.5,300.4 L75.5,300.4 L76.5,300.4 L77.5,300.4 L78.5,300.4 L79.5,300.4 L80.5,300.4 L81.5,300.5 L82.5,300.5 L83.5,300.4 L84.5,299.7 L85.5,297.8 L86.5,295.7 L87.5,293.6 L88.5,291.6 L89.5,289.5 L90.5,287.4 L91.5,285.2 L92.5,281.3 L93.5,277.3 L94.5,272.9 L95.5,268.8 L96.5,265.6 L97.5,262.9 L98.5,259.4 L99.5,254.6 L100.5,248.3 L101.5,242.2 L102.5,236.3 L103.5,230.7 L104.5,226.0 L105.5,222.3 L106.5,220.2 L107.5,219.0 L108.5,217.4 L109.5,215.1 L110.5,213.2 L111.5,212.1 L112.5,213.4 L113.5,216.1 L114.5,218.5 L115.5,220.0 L116.5,220.1 L117.5,219.8 L118.5,220.1 L119.5,221.1 L120.5,222.0 L121.5,222.5 L122.5,222.7 L123.5,223.2 L124.5,224.2 L125.5,225.0 L126.5,225.0 L127.5,224.3 L128.5,223.6 L129.5,223.7 L130.5,224.8 L131.5,226.1 L132.5,226.8 L133.5,227.0 L134.5,227.1 L135.5,227.5 L136.5,227.9 L137.5,227.7 L138.5,226.8 L139.5,225.8 L140.5,225.7 L141.5,226.5 L142.5,227.3 L143.5,227.3 L144.5,226.5 L145.5,225.5 L146.5,224.9 L147.5,224.3 L148.5,223.3 L149.5,221.8 L150.5,220.5 L151.5,219.9 L152.5,220.2 L153.5,220.3 L154.5,219.6 L155.5,218.1 L156.5,216.5 L157.5,215.4 L158.5,214.7 L159.5,213.9 L160.5,212.7 L161.5,211.9 L162.5,211.8 L163.5,212.3 L164.5,212.7 L165.5,212.2 L166.5,210.9 L167.5,209.6 L168.5,208.8 L169.5,208.5 L170.5,208.2 L171.5,207.5 L172.5,207.0 L173.5,207.0 L174.5,207.5 L175.5,207.8 L176.5,207.3 L177.5,206.3 L178.5,205.4 L179.5,205.3 L180.5,205.7 L181.5,205.9 L182.5,205.7 L183.5,205.2 L184.5,205.0 L185.5,205.3 L186.5,205.3 L187.5,204.8 L188.5,204.0 L189.5,203.5 L190.5,204.0 L191.5,205.4 L192.5,206.9 L193.5,207.3 L194.5,207.0 L195.5,206.8 L196.5,207.6 L197.5,209.1 L198.5,210.4 L199.5,211.7 L200.5,213.2 L201.5,215.9 L202.5,219.4 L203.5,222.8 L204.5,225.4 L205.5,227.2 L206.5,228.9 L207.5,230.9 L208.5,232.9 L209.5,234.4 L210.5,235.4 L211.5,236.7 L212.5,238.6 L213.5,240.9 L214.5,242.8 L215.5,243.8 L216.5,244.3 L217.5,244.8 L218.5,245.7 L219.5,247.0 L220.5,248.1 L221.5,249.0 L222.5,250.1 L223.5,251.7 L224.5,253.6 L225.5,255.2 L226.5,256.2 L227.5,256.8 L228.5,257.6 L229.5,258.8 L230.5,260.5 L231.5,262.1 L232.5,263.5 L233.5,264.7 L234.5,266.1 L235.5,267.7 L236.5,269.0 L237.5,269.9 L238.5,270.3 L239.5,270.8 L240.5,271.7 L241.5,272.9 L242.5,274.1 L243.5,275.0 L244.5,275.7 L245.5,276.6" fill="none" stroke="#fff" stroke-width="2.5" stroke-linejoin="round" stroke-linecap="round"/>
<path d="M269.6,283.1 L271.1,284.6 L272.6,285.2 L274.1,285.7 L275.6,286.3 L277.1,286.9 L278.6,287.5 L280.1,288.2 L281.6,289.0 L283.1,290.1 L284.6,291.2 L286.1,292.6 L287.6,294.0 L289.1,295.4 L290.6,296.7 L292.1,297.9 L293.6,299.0 L295.1,300.0 L296.6,300.8 L298.1,301.5 L299.6,302.1 L301.1,302.6 L302.6,303.0 L304.1,303.4 L305.6,303.7 L307.1,304.1 L308.6,304.4 L310.1,304.6 L311.6,304.9 L313.1,305.1 L314.6,305.4" fill="none" stroke="#fff" stroke-width="2.5" stroke-linejoin="round" stroke-linecap="round"/>
<path d="M49.5,298.7 L50.5,298.8 L51.5,299.0 L52.5,299.1 L53.5,299.2 L54.5,299.4 L55.5,299.5 L56.5,299.6 L57.5,299.7 L58.5,299.8 L59.5,299.8 L60.5,299.9 L61.5,300.0 L62.5,300.1 L63.5,300.1 L64.5,300.2 L65.5,300.3 L66.5,300.3 L67.5,300.3 L68.5,300.3 L69.5,300.3 L70.5,300.4 L71.5,300.4 L72.5,300.4 L73.5,300.4 L74.5,300.4 L75.5,300.4 L76.5,300.4 L77.5,300.4 L78.5,300.4 L79.5,300.5 L80.5,300.5 L81.5,300.5 L82.5,300.5 L83.5,300.4 L84.5,299.8 L85.5,297.8 L86.5,295.7 L87.5,293.6 L88.5,291.6 L89.5,289.6 L90.5,287.4 L91.5,285.2 L92.5,281.5 L93.5,277.5 L94.5,273.1 L95.5,269.0 L96.5,265.9 L97.5,263.2 L98.5,260.0 L99.5,255.9 L100.5,250.4 L101.5,245.1 L102.5,239.2 L103.5,233.0 L104.5,227.3 L105.5,222.7 L106.5,219.9 L107.5,218.1 L108.5,216.1 L109.5,213.6 L110.5,211.5 L111.5,209.8 L112.5,209.8 L113.5,210.9 L114.5,212.2 L115.5,213.6 L116.5,214.6 L117.5,214.9 L118.5,215.3 L119.5,216.3 L120.5,217.9 L121.5,219.9 L122.5,221.8 L123.5,222.9 L124.5,223.2 L125.5,223.4 L126.5,223.8 L127.5,224.7 L128.5,225.9 L129.5,226.9 L130.5,227.5 L131.5,228.1 L132.5,228.7 L133.5,229.5 L134.5,230.0 L135.5,229.9 L136.5,229.2 L137.5,228.0 L138.5,226.9 L139.5,226.3 L140.5,226.5 L141.5,227.0 L142.5,227.3 L143.5,226.8 L144.5,226.0 L145.5,225.2 L146.5,224.7 L147.5,224.3 L148.5,223.7 L149.5,222.8 L150.5,221.9 L151.5,221.4 L152.5,221.6 L153.5,222.1 L154.5,222.4 L155.5,221.9 L156.5,220.5 L157.5,218.8 L158.5,217.3 L159.5,216.4 L160.5,215.9 L161.5,215.4 L162.5,214.7 L163.5,213.7 L164.5,212.9 L165.5,212.4 L166.5,212.0 L167.5,211.3 L168.5,209.9 L169.5,207.9 L170.5,206.1 L171.5,205.2 L172.5,205.2 L173.5,205.9 L174.5,206.3 L175.5,206.1 L176.5,205.8 L177.5,205.8 L178.5,206.1 L179.5,206.5 L180.5,206.7 L181.5,206.4 L182.5,205.9 L183.5,205.7 L184.5,206.2 L185.5,207.1 L186.5,207.8 L187.5,208.1 L188.5,207.8 L189.5,207.0 L190.5,206.6 L191.5,206.8 L192.5,207.5 L193.5,207.8 L194.5,207.5 L195.5,206.9 L196.5,207.2 L197.5,208.5 L198.5,210.3 L199.5,212.3 L200.5,213.7 L201.5,214.9 L202.5,216.3 L203.5,218.5 L204.5,221.5 L205.5,224.7 L206.5,227.5 L207.5,229.8 L208.5,231.5 L209.5,233.0 L210.5,234.6 L211.5,236.3 L212.5,238.0 L213.5,239.3 L214.5,240.3 L215.5,241.5 L216.5,243.1 L217.5,245.1 L218.5,247.0 L219.5,248.4 L220.5,249.3 L221.5,249.8 L222.5,250.6 L223.5,251.8 L224.5,253.4 L225.5,255.1 L226.5,256.7 L227.5,258.1 L228.5,259.6 L229.5,261.2 L230.5,263.0 L231.5,264.6 L232.5,265.8 L233.5,266.7 L234.5,267.4 L235.5,268.5 L236.5,269.9 L237.5,271.5 L238.5,272.9 L239.5,273.9 L240.5,274.5 L241.5,275.0 L242.5,275.5 L243.5,276.2 L244.5,276.8 L245.5,277.3" fill="none" stroke="#fff" stroke-width="2.5" stroke-linejoin="round" stroke-linecap="round"/>
<path d="M269.6,283.3 L271.1,284.8 L272.6,285.4 L274.1,285.9 L275.6,286.4 L277.1,287.1 L278.6,287.7 L280.1,288.4 L281.6,289.2 L283.1,290.3 L284.6,291.4 L286.1,292.8 L287.6,294.2 L289.1,295.6 L290.6,296.9 L292.1,298.1 L293.6,299.2 L295.1,300.2 L296.6,301.0 L298.1,301.7 L299.6,302.3 L301.1,302.8 L302.6,303.2 L304.1,303.5 L305.6,303.9 L307.1,304.3 L308.6,304.6 L310.1,304.8 L311.6,305.1 L313.1,305.3 L314.6,305.6" fill="none" stroke="#fff" stroke-width="2.5" stroke-linejoin="round" stroke-linecap="round"/>
<path d="M49.5,298.7 L50.5,298.8 L51.5,299.0 L52.5,299.1 L53.5,299.3 L54.5,299.4 L55.5,299.5 L56.5,299.6 L57.5,299.7 L58.5,299.8 L59.5,299.9 L60.5,299.9 L61.5,300.0 L62.5,300.1 L63.5,300.2 L64.5,300.3 L65.5,300.3 L66.5,300.3 L67.5,300.3 L68.5,300.3 L69.5,300.3 L70.5,300.3 L71.5,300.4 L72.5,300.4 L73.5,300.4 L74.5,300.4 L75.5,300.4 L76.5,300.4 L77.5,300.4 L78.5,300.4 L79.5,300.4 L80.5,300.4 L81.5,300.4 L82.5,300.5 L83.5,300.4 L84.5,299.7 L85.5,297.8 L86.5,295.7 L87.5,293.6 L88.5,291.6 L89.5,289.5 L90.5,287.4 L91.5,285.2 L92.5,281.4 L93.5,277.5 L94.5,273.1 L95.5,269.0 L96.5,265.9 L97.5,263.1 L98.5,259.7 L99.5,255.4 L100.5,249.6 L101.5,243.7 L102.5,237.5 L103.5,231.9 L104.5,227.8 L105.5,224.5 L106.5,222.2 L107.5,220.6 L108.5,219.1 L109.5,216.8 L110.5,214.7 L111.5,213.6 L112.5,215.5 L113.5,218.4 L114.5,220.3 L115.5,220.9 L116.5,221.1 L117.5,221.7 L118.5,222.4 L119.5,222.5 L120.5,222.1 L121.5,222.6 L122.5,223.9 L123.5,224.7 L124.5,224.4 L125.5,223.5 L126.5,223.3 L127.5,223.6 L128.5,223.5 L129.5,223.0 L130.5,223.2 L131.5,224.6 L132.5,226.2 L133.5,226.7 L134.5,226.3 L135.5,226.1 L136.5,226.5 L137.5,226.7 L138.5,226.0 L139.5,225.3 L140.5,225.7 L141.5,226.8 L142.5,227.2 L143.5,226.5 L144.5,225.5 L145.5,225.0 L146.5,224.4 L147.5,222.9 L148.5,221.2 L149.5,220.3 L150.5,220.6 L151.5,221.0 L152.5,220.4 L153.5,219.5 L154.5,219.2 L155.5,219.1 L156.5,218.5 L157.5,217.1 L158.5,216.2 L159.5,216.7 L160.5,217.8 L161.5,218.3 L162.5,218.1 L163.5,218.1 L164.5,218.6 L165.5,218.4 L166.5,217.2 L167.5,215.6 L168.5,214.9 L169.5,214.8 L170.5,214.3 L171.5,213.1 L172.5,211.9 L173.5,211.5 L174.5,210.9 L175.5,209.1 L176.5,206.9 L177.5,205.7 L178.5,205.6 L179.5,205.8 L180.5,205.3 L181.5,204.6 L182.5,204.7 L183.5,205.1 L184.5,204.9 L185.5,203.7 L186.5,202.6 L187.5,202.8 L188.5,204.0 L189.5,204.7 L190.5,205.2 L191.5,206.3 L192.5,208.1 L193.5,208.9 L194.5,208.0 L195.5,206.5 L196.5,206.3 L197.5,207.6 L198.5,209.0 L199.5,210.3 L200.5,211.9 L201.5,214.7 L202.5,217.8 L203.5,219.8 L204.5,221.0 L205.5,222.4 L206.5,224.5 L207.5,226.8 L208.5,228.7 L209.5,230.5 L210.5,233.2 L211.5,236.5 L212.5,239.3 L213.5,240.9 L214.5,242.0 L215.5,243.8 L216.5,245.7 L217.5,247.1 L218.5,248.2 L219.5,249.9 L220.5,252.2 L221.5,254.5 L222.5,255.8 L223.5,256.5 L224.5,257.4 L225.5,258.5 L226.5,259.4 L227.5,259.8 L228.5,260.5 L229.5,261.9 L230.5,263.8 L231.5,265.1 L232.5,266.0 L233.5,266.9 L234.5,267.9 L235.5,268.8 L236.5,269.4 L237.5,269.8 L238.5,270.8 L239.5,272.3 L240.5,273.6 L241.5,274.4 L242.5,275.1 L243.5,276.0 L244.5,276.9 L245.5,277.4" fill="none" stroke="#fff" stroke-width="2.5" stroke-linejoin="round" stroke-linecap="round"/>
<path d="M269.6,283.5 L271.1,285.0 L272.6,285.5 L274.1,286.1 L275.6,286.6 L277.1,287.2 L278.6,287.9 L280.1,288.6 L281.6,289.4 L283.1,290.5 L284.6,291.6 L286.1,293.0 L287.6,294.4 L289.1,295.7 L290.6,297.1 L292.1,298.3 L293.6,299.4 L295.1,300.4 L296.6,301.1 L298.1,301.9 L299.6,302.4 L301.1,303.0 L302.6,303.4 L304.1,303.7 L305.6,304.1 L307.1,304.4 L308.6,304.8 L310.1,305.0 L311.6,305.2 L313.1,305.5 L314.6,305.7" fill="none" stroke="#fff" stroke-width="2.5" stroke-linejoin="round" stroke-linecap="round"/>
<path d="M49.5,298.7 L50.5,298.8 L51.5,299.0 L52.5,299.1 L53.5,299.2 L54.5,299.4 L55.5,299.5 L56.5,299.6 L57.5,299.7 L58.5,299.8 L59.5,299.9 L60.5,300.0 L61.5,300.0 L62.5,300.1 L63.5,300.2 L64.5,300.3 L65.5,300.3 L66.5,300.3 L67.5,300.3 L68.5,300.3 L69.5,300.4 L70.5,300.4 L71.5,300.4 L72.5,300.4 L73.5,300.4 L74.5,300.4 L75.5,300.4 L76.5,300.4 L77.5,300.4 L78.5,300.4 L79.5,300.4 L80.5,300.5 L81.5,300.5 L82.5,300.5 L83.5,300.4 L84.5,299.8 L85.5,297.8 L86.5,295.7 L87.5,293.6 L88.5,291.6 L89.5,289.6 L90.5,287.4 L91.5,285.2 L92.5,281.4 L93.5,277.4 L94.5,272.9 L95.5,268.9 L96.5,265.8 L97.5,263.1 L98.5,259.7 L99.5,255.3 L100.5,249.4 L101.5,243.6 L102.5,237.4 L103.5,231.0 L104.5,225.4 L105.5,221.0 L106.5,218.9 L107.5,217.9 L108.5,216.5 L109.5,214.3 L110.5,212.5 L111.5,211.4 L112.5,212.8 L113.5,215.5 L114.5,218.2 L115.5,220.4 L116.5,221.3 L117.5,221.4 L118.5,221.7 L119.5,222.4 L120.5,223.2 L121.5,223.7 L122.5,223.7 L123.5,223.7 L124.5,224.2 L125.5,225.4 L126.5,226.7 L127.5,227.6 L128.5,227.6 L129.5,227.3 L130.5,227.2 L131.5,227.6 L132.5,228.3 L133.5,228.5 L134.5,228.0 L135.5,227.6 L136.5,227.9 L137.5,228.9 L138.5,230.0 L139.5,230.5 L140.5,230.3 L141.5,229.7 L142.5,229.3 L143.5,229.1 L144.5,228.7 L145.5,227.7 L146.5,226.1 L147.5,224.3 L148.5,223.1 L149.5,222.6 L150.5,222.4 L151.5,221.9 L152.5,220.9 L153.5,219.7 L154.5,218.9 L155.5,218.6 L156.5,218.4 L157.5,217.6 L158.5,216.2 L159.5,214.8 L160.5,213.9 L161.5,213.9 L162.5,214.2 L163.5,214.4 L164.5,214.1 L165.5,213.7 L166.5,213.9 L167.5,214.4 L168.5,214.7 L169.5,214.1 L170.5,212.7 L171.5,210.9 L172.5,209.6 L173.5,208.9 L174.5,208.4 L175.5,207.5 L176.5,206.5 L177.5,206.0 L178.5,206.0 L179.5,206.6 L180.5,207.2 L181.5,207.1 L182.5,206.3 L183.5,205.3 L184.5,204.8 L185.5,204.9 L186.5,205.1 L187.5,205.3 L188.5,205.5 L189.5,205.9 L190.5,207.0 L191.5,208.8 L192.5,210.8 L193.5,211.7 L194.5,211.5 L195.5,211.1 L196.5,211.5 L197.5,212.9 L198.5,214.4 L199.5,215.7 L200.5,216.5 L201.5,217.4 L202.5,219.0 L203.5,221.4 L204.5,223.9 L205.5,225.9 L206.5,227.4 L207.5,228.9 L208.5,230.8 L209.5,233.0 L210.5,234.9 L211.5,236.3 L212.5,237.3 L213.5,238.2 L214.5,239.5 L215.5,241.5 L216.5,243.5 L217.5,245.3 L218.5,246.8 L219.5,248.4 L220.5,250.3 L221.5,252.4 L222.5,254.3 L223.5,255.5 L224.5,256.1 L225.5,256.7 L226.5,257.6 L227.5,258.8 L228.5,260.1 L229.5,261.1 L230.5,262.0 L231.5,263.0 L232.5,264.5 L233.5,266.1 L234.5,267.5 L235.5,268.5 L236.5,269.2 L237.5,269.9 L238.5,270.9 L239.5,271.9 L240.5,273.0 L241.5,273.9 L242.5,274.6 L243.5,275.4 L244.5,276.6 L245.5,278.1" fill="none" stroke="#fff" stroke-width="2.5" stroke-linejoin="round" stroke-linecap="round"/>
<path d="M269.6,283.6 L271.1,285.2 L272.6,285.7 L274.1,286.3 L275.6,286.8 L277.1,287.4 L278.6,288.1 L280.1,288.7 L281.6,289.6 L283.1,290.6 L284.6,291.7 L286.1,293.1 L287.6,294.5 L289.1,295.9 L290.6,297.3 L292.1,298.5 L293.6,299.6 L295.1,300.5 L296.6,301.3 L298.1,302.1 L299.6,302.6 L301.1,303.2 L302.6,303.6 L304.1,303.9 L305.6,304.3 L307.1,304.6 L308.6,304.9 L310.1,305.2 L311.6,305.4 L313.1,305.7 L314.6,305.9" fill="none" stroke="#fff" stroke-width="2.5" stroke-linejoin="round" stroke-linecap="round"/>
<path d="M49.5,298.7 L50.5,298.8 L51.5,299.0 L52.5,299.1 L53.5,299.3 L54.5,299.4 L55.5,299.5 L56.5,299.6 L57.5,299.7 L58.5,299.8 L59.5,299.8 L60.5,299.9 L61.5,300.0 L62.5,300.1 L63.5,300.2 L64.5,300.2 L65.5,300.3 L66.5,300.3 L67.5,300.3 L68.5,300.3 L69.5,300.3 L70.5,300.3 L71.5,300.4 L72.5,300.4 L73.5,300.4 L74.5,300.4 L75.5,300.4 L76.5,300.4 L77.5,300.4 L78.5,300.4 L79.5,300.4 L80.5,300.5 L81.5,300.5 L82.5,300.5 L83.5,300.4 L84.5,299.7 L85.5,297.8 L86.5,295.7 L87.5,293.6 L88.5,291.6 L89.5,289.6 L90.5,287.4 L91.5,285.2 L92.5,281.6 L93.5,277.6 L94.5,273.2 L95.5,269.2 L96.5,266.0 L97.5,263.3 L98.5,260.0 L99.5,255.8 L100.5,250.1 L101.5,244.5 L102.5,238.8 L103.5,233.0 L104.5,228.3 L105.5,225.1 L106.5,223.9 L107.5,223.2 L108.5,221.9 L109.5,219.2 L110.5,216.7 L111.5,214.8 L112.5,215.2 L113.5,217.2 L114.5,219.4 L115.5,221.3 L116.5,222.3 L117.5,222.7 L118.5,223.4 L119.5,224.4 L120.5,225.3 L121.5,225.7 L122.5,225.4 L123.5,224.6 L124.5,224.1 L125.5,224.3 L126.5,224.8 L127.5,225.2 L128.5,225.3 L129.5,225.3 L130.5,225.8 L131.5,227.1 L132.5,228.9 L133.5,230.2 L134.5,230.5 L135.5,230.4 L136.5,230.4 L137.5,230.6 L138.5,230.8 L139.5,230.2 L140.5,229.1 L141.5,227.5 L142.5,226.3 L143.5,225.6 L144.5,225.3 L145.5,225.0 L146.5,224.1 L147.5,223.0 L148.5,222.2 L149.5,221.9 L150.5,221.9 L151.5,221.6 L152.5,220.8 L153.5,219.6 L154.5,218.6 L155.5,218.3 L156.5,218.6 L157.5,218.8 L158.5,218.5 L159.5,218.0 L160.5,217.6 L161.5,217.7 L162.5,218.0 L163.5,217.9 L164.5,217.0 L165.5,215.4 L166.5,213.8 L167.5,212.6 L168.5,211.7 L169.5,210.5 L170.5,208.9 L171.5,207.2 L172.5,206.1 L173.5,205.8 L174.5,206.3 L175.5,206.8 L176.5,207.1 L177.5,207.2 L178.5,207.3 L179.5,207.7 L180.5,208.3 L181.5,208.4 L182.5,207.9 L183.5,206.8 L184.5,205.8 L185.5,205.5 L186.5,205.8 L187.5,206.4 L188.5,206.9 L189.5,207.0 L190.5,207.2 L191.5,208.0 L192.5,209.1 L193.5,209.8 L194.5,209.4 L195.5,208.6 L196.5,208.4 L197.5,209.6 L198.5,211.8 L199.5,214.6 L200.5,217.0 L201.5,219.2 L202.5,221.6 L203.5,224.5 L204.5,227.7 L205.5,230.7 L206.5,232.8 L207.5,234.2 L208.5,235.3 L209.5,236.6 L210.5,238.0 L211.5,239.4 L212.5,240.5 L213.5,241.2 L214.5,241.8 L215.5,243.0 L216.5,244.8 L217.5,246.9 L218.5,248.7 L219.5,250.1 L220.5,251.4 L221.5,253.0 L222.5,254.9 L223.5,256.6 L224.5,257.7 L225.5,258.5 L226.5,259.1 L227.5,260.1 L228.5,261.4 L229.5,262.8 L230.5,264.0 L231.5,264.9 L232.5,265.8 L233.5,266.7 L234.5,267.7 L235.5,268.7 L236.5,269.5 L237.5,269.9 L238.5,270.2 L239.5,270.7 L240.5,271.6 L241.5,272.6 L242.5,273.5 L243.5,274.2 L244.5,275.0 L245.5,276.0" fill="none" stroke="#fff" stroke-width="2.5" stroke-linejoin="round" stroke-linecap="round"/>
<path d="M269.6,283.8 L271.1,285.4 L272.6,285.9 L274.1,286.4 L275.6,287.0 L277.1,287.6 L278.6,288.3 L280.1,288.9 L281.6,289.7 L283.1,290.8 L284.6,291.9 L286.1,293.3 L287.6,294.7 L289.1,296.1 L290.6,297.5 L292.1,298.6 L293.6,299.8 L295.1,300.7 L296.6,301.5 L298.1,302.3 L299.6,302.8 L301.1,303.3 L302.6,303.7 L304.1,304.1 L305.6,304.4 L307.1,304.8 L308.6,305.1 L310.1,305.4 L311.6,305.6 L313.1,305.8 L314.6,306.1" fill="none" stroke="#fff" stroke-width="2.5" stroke-linejoin="round" stroke-linecap="round"/>
<path d="M49.5,298.7 L50.5,298.9 L51.5,299.0 L52.5,299.1 L53.5,299.3 L54.5,299.4 L55.5,299.5 L56.5,299.7 L57.5,299.7 L58.5,299.8 L59.5,299.9 L60.5,300.0 L61.5,300.1 L62.5,300.1 L63.5,300.2 L64.5,300.3 L65.5,300.3 L66.5,300.3 L67.5,300.3 L68.5,300.3 L69.5,300.4 L70.5,300.4 L71.5,300.4 L72.5,300.4 L73.5,300.4 L74.5,300.4 L75.5,300.4 L76.5,300.4 L77.5,300.4 L78.5,300.4 L79.5,300.4 L80.5,300.5 L81.5,300.5 L82.5,300.5 L83.5,300.4 L84.5,299.8 L85.5,297.8 L86.5,295.7 L87.5,293.6 L88.5,291.6 L89.5,289.6 L90.5,287.4 L91.5,285.2 L92.5,281.5 L93.5,277.6 L94.5,273.1 L95.5,269.0 L96.5,265.8 L97.5,263.1 L98.5,259.8 L99.5,255.5 L100.5,249.7 L101.5,243.9 L102.5,237.8 L103.5,232.1 L104.5,227.7 L105.5,224.4 L106.5,222.1 L107.5,220.0 L108.5,217.7 L109.5,215.5 L110.5,214.5 L111.5,214.0 L112.5,215.1 L113.5,216.8 L114.5,218.8 L115.5,220.9 L116.5,222.4 L117.5,222.9 L118.5,222.9 L119.5,223.1 L120.5,224.0 L121.5,225.6 L122.5,227.2 L123.5,228.2 L124.5,228.4 L125.5,228.4 L126.5,228.6 L127.5,229.1 L128.5,229.2 L129.5,228.9 L130.5,228.4 L131.5,228.4 L132.5,229.2 L133.5,230.2 L134.5,230.8 L135.5,230.5 L136.5,229.5 L137.5,228.5 L138.5,227.9 L139.5,227.6 L140.5,227.3 L141.5,226.7 L142.5,226.2 L143.5,226.1 L144.5,226.4 L145.5,226.9 L146.5,226.8 L147.5,225.8 L148.5,224.3 L149.5,223.2 L150.5,222.7 L151.5,222.8 L152.5,222.8 L153.5,222.5 L154.5,221.9 L155.5,221.6 L156.5,221.6 L157.5,221.4 L158.5,220.5 L159.5,218.8 L160.5,217.1 L161.5,216.0 L162.5,215.7 L163.5,215.9 L164.5,215.7 L165.5,215.0 L166.5,214.1 L167.5,213.3 L168.5,212.7 L169.5,211.8 L170.5,210.4 L171.5,208.6 L172.5,207.3 L173.5,207.0 L174.5,207.5 L175.5,208.2 L176.5,208.6 L177.5,208.6 L178.5,208.3 L179.5,208.2 L180.5,208.4 L181.5,208.5 L182.5,208.1 L183.5,207.6 L184.5,207.5 L185.5,208.2 L186.5,209.3 L187.5,210.4 L188.5,210.8 L189.5,210.5 L190.5,210.1 L191.5,210.2 L192.5,210.8 L193.5,211.1 L194.5,210.6 L195.5,209.9 L196.5,210.3 L197.5,211.8 L198.5,213.9 L199.5,215.9 L200.5,216.9 L201.5,217.7 L202.5,218.9 L203.5,220.9 L204.5,223.6 L205.5,226.2 L206.5,228.3 L207.5,230.2 L208.5,232.4 L209.5,234.7 L210.5,236.8 L211.5,238.5 L212.5,239.6 L213.5,240.4 L214.5,241.6 L215.5,243.5 L216.5,245.7 L217.5,247.7 L218.5,249.2 L219.5,250.3 L220.5,251.5 L221.5,252.9 L222.5,254.2 L223.5,255.2 L224.5,255.7 L225.5,256.4 L226.5,257.5 L227.5,259.2 L228.5,261.0 L229.5,262.4 L230.5,263.3 L231.5,264.0 L232.5,264.8 L233.5,265.9 L234.5,266.8 L235.5,267.7 L236.5,268.5 L237.5,269.5 L238.5,270.8 L239.5,272.2 L240.5,273.6 L241.5,274.6 L242.5,275.2 L243.5,275.7 L244.5,276.5 L245.5,277.5" fill="none" stroke="#fff" stroke-width="2.5" stroke-linejoin="round" stroke-linecap="round"/>
<path d="M269.6,284.0 L271.1,285.5 L272.6,286.1 L274.1,286.6 L275.6,287.2 L277.1,287.8 L278.6,288.4 L280.1,289.1 L281.6,289.9 L283.1,291.0 L284.6,292.1 L286.1,293.5 L287.6,294.9 L289.1,296.3 L290.6,297.6 L292.1,298.8 L293.6,299.9 L295.1,300.9 L296.6,301.7 L298.1,302.4 L299.6,303.0 L301.1,303.5 L302.6,303.9 L304.1,304.3 L305.6,304.6 L307.1,305.0 L308.6,305.3 L310.1,305.5 L311.6,305.8 L313.1,306.0 L314.6,306.3" fill="none" stroke="#fff" stroke-width="2.5" stroke-linejoin="round" stroke-linecap="round"/>
<path d="M49.5,298.7 L50.5,298.9 L51.5,299.0 L52.5,299.1 L53.5,299.3 L54.5,299.4 L55.5,299.6 L56.5,299.7 L57.5,299.7 L58.5,299.8 L59.5,299.9 L60.5,300.0 L61.5,300.0 L62.5,300.1 L63.5,300.2 L64.5,300.3 L65.5,300.3 L66.5,300.3 L67.5,300.3 L68.5,300.4 L69.5,300.4 L70.5,300.4 L71.5,300.4 L72.5,300.4 L73.5,300.4 L74.5,300.4 L75.5,300.4 L76.5,300.4 L77.5,300.5 L78.5,300.5 L79.5,300.5 L80.5,300.5 L81.5,300.5 L82.5,300.5 L83.5,300.4 L84.5,299.8 L85.5,297.8 L86.5,295.7 L87.5,293.6 L88.5,291.6 L89.5,289.6 L90.5,287.4 L91.5,285.2 L92.5,281.4 L93.5,277.5 L94.5,273.0 L95.5,269.0 L96.5,265.8 L97.5,263.1 L98.5,259.7 L99.5,255.4 L100.5,249.3 L101.5,243.2 L102.5,237.2 L103.5,231.8 L104.5,227.3 L105.5,224.1 L106.5,223.4 L107.5,223.3 L108.5,221.5 L109.5,217.8 L110.5,215.3 L111.5,214.4 L112.5,215.4 L113.5,216.3 L114.5,217.2 L115.5,219.4 L116.5,221.6 L117.5,222.4 L118.5,222.7 L119.5,223.6 L120.5,224.9 L121.5,225.3 L122.5,224.6 L123.5,224.3 L124.5,225.0 L125.5,225.6 L126.5,225.3 L127.5,225.3 L128.5,226.4 L129.5,228.0 L130.5,228.7 L131.5,228.9 L132.5,229.9 L133.5,231.2 L134.5,231.5 L135.5,230.8 L136.5,230.5 L137.5,231.1 L138.5,231.3 L139.5,230.5 L140.5,230.0 L141.5,230.6 L142.5,231.5 L143.5,231.5 L144.5,230.8 L145.5,230.7 L146.5,231.1 L147.5,230.5 L148.5,228.9 L149.5,227.5 L150.5,227.1 L151.5,226.4 L152.5,224.8 L153.5,223.4 L154.5,223.2 L155.5,223.3 L156.5,222.5 L157.5,221.3 L158.5,220.8 L159.5,220.7 L160.5,219.8 L161.5,217.9 L162.5,216.5 L163.5,216.0 L164.5,215.3 L165.5,213.8 L166.5,212.6 L167.5,212.7 L168.5,213.0 L169.5,212.3 L170.5,211.1 L171.5,210.6 L172.5,210.8 L173.5,210.2 L174.5,208.5 L175.5,207.3 L176.5,207.4 L177.5,207.5 L178.5,206.7 L179.5,206.1 L180.5,206.7 L181.5,207.4 L182.5,207.1 L183.5,206.3 L184.5,206.3 L185.5,206.9 L186.5,206.5 L187.5,205.4 L188.5,205.1 L189.5,205.7 L190.5,206.1 L191.5,205.9 L192.5,205.9 L193.5,206.8 L194.5,207.6 L195.5,207.6 L196.5,207.8 L197.5,209.6 L198.5,212.2 L199.5,214.3 L200.5,215.5 L201.5,217.3 L202.5,220.1 L203.5,222.8 L204.5,224.7 L205.5,226.7 L206.5,229.8 L207.5,233.1 L208.5,235.5 L209.5,237.3 L210.5,239.7 L211.5,242.3 L212.5,244.0 L213.5,244.8 L214.5,245.7 L215.5,247.3 L216.5,248.6 L217.5,249.3 L218.5,250.2 L219.5,252.0 L220.5,254.0 L221.5,255.2 L222.5,256.1 L223.5,257.4 L224.5,258.9 L225.5,259.8 L226.5,260.1 L227.5,260.7 L228.5,261.9 L229.5,263.0 L230.5,263.6 L231.5,264.5 L232.5,266.1 L233.5,267.7 L234.5,268.7 L235.5,269.4 L236.5,270.6 L237.5,271.9 L238.5,272.8 L239.5,273.1 L240.5,273.6 L241.5,274.6 L242.5,275.5 L243.5,275.9 L244.5,276.5 L245.5,277.7" fill="none" stroke="#fff" stroke-width="2.5" stroke-linejoin="round" stroke-linecap="round"/>
<path d="M269.6,284.2 L271.1,285.7 L272.6,286.3 L274.1,286.8 L275.6,287.3 L277.1,288.0 L278.6,288.6 L280.1,289.3 L281.6,290.1 L283.1,291.2 L284.6,292.3 L286.1,293.7 L287.6,295.1 L289.1,296.5 L290.6,297.8 L292.1,299.0 L293.6,300.1 L295.1,301.1 L296.6,301.9 L298.1,302.6 L299.6,303.2 L301.1,303.7 L302.6,304.1 L304.1,304.4 L305.6,304.8 L307.1,305.2 L308.6,305.5 L310.1,305.7 L311.6,306.0 L313.1,306.2 L314.6,306.5" fill="none" stroke="#fff" stroke-width="2.5" stroke-linejoin="round" stroke-linecap="round"/>
<path d="M49.5,298.7 L50.5,298.8 L51.5,299.0 L52.5,299.1 L53.5,299.3 L54.5,299.4 L55.5,299.5 L56.5,299.6 L57.5,299.7 L58.5,299.8 L59.5,299.9 L60.5,300.0 L61.5,300.0 L62.5,300.1 L63.5,300.2 L64.5,300.3 L65.5,300.3 L66.5,300.3 L67.5,300.3 L68.5,300.4 L69.5,300.4 L70.5,300.4 L71.5,300.4 L72.5,300.4 L73.5,300.4 L74.5,300.4 L75.5,300.4 L76.5,300.5 L77.5,300.5 L78.5,300.5 L79.5,300.5 L80.5,300.5 L81.5,300.5 L82.5,300.5 L83.5,300.5 L84.5,299.8 L85.5,297.8 L86.5,295.7 L87.5,293.6 L88.5,291.6 L89.5,289.6 L90.5,287.4 L91.5,285.2 L92.5,281.5 L93.5,277.5 L94.5,273.1 L95.5,269.0 L96.5,265.9 L97.5,263.2 L98.5,259.9 L99.5,255.6 L100.5,250.0 L101.5,244.9 L102.5,239.4 L103.5,233.6 L104.5,229.0 L105.5,226.3 L106.5,225.6 L107.5,224.5 L108.5,221.7 L109.5,217.4 L110.5,214.3 L111.5,212.9 L112.5,214.0 L113.5,215.6 L114.5,216.7 L115.5,217.8 L116.5,219.2 L117.5,220.5 L118.5,221.4 L119.5,221.3 L120.5,220.7 L121.5,220.6 L122.5,221.4 L123.5,222.5 L124.5,223.4 L125.5,224.0 L126.5,225.0 L127.5,226.8 L128.5,228.8 L129.5,230.2 L130.5,230.6 L131.5,230.7 L132.5,231.1 L133.5,232.0 L134.5,232.5 L135.5,232.4 L136.5,232.2 L137.5,232.5 L138.5,233.3 L139.5,234.0 L140.5,234.0 L141.5,233.1 L142.5,232.0 L143.5,231.2 L144.5,230.5 L145.5,229.5 L146.5,228.0 L147.5,226.4 L148.5,225.7 L149.5,225.8 L150.5,226.1 L151.5,225.7 L152.5,224.7 L153.5,223.9 L154.5,223.7 L155.5,223.5 L156.5,222.7 L157.5,221.3 L158.5,220.0 L159.5,219.7 L160.5,220.1 L161.5,220.5 L162.5,220.3 L163.5,219.6 L164.5,219.1 L165.5,219.1 L166.5,218.8 L167.5,217.6 L168.5,215.5 L169.5,213.4 L170.5,212.1 L171.5,211.4 L172.5,210.5 L173.5,209.3 L174.5,208.1 L175.5,207.4 L176.5,207.6 L177.5,207.6 L178.5,206.8 L179.5,205.5 L180.5,204.4 L181.5,204.0 L182.5,204.0 L183.5,203.7 L184.5,203.3 L185.5,203.3 L186.5,204.1 L187.5,205.8 L188.5,207.2 L189.5,207.8 L190.5,208.0 L191.5,208.6 L192.5,209.8 L193.5,210.5 L194.5,210.3 L195.5,209.8 L196.5,210.5 L197.5,212.7 L198.5,215.5 L199.5,218.1 L200.5,219.7 L201.5,221.2 L202.5,223.2 L203.5,225.4 L204.5,227.4 L205.5,228.6 L206.5,229.6 L207.5,231.3 L208.5,233.9 L209.5,236.5 L210.5,238.5 L211.5,240.1 L212.5,241.6 L213.5,243.4 L214.5,245.2 L215.5,246.5 L216.5,247.3 L217.5,248.1 L218.5,249.5 L219.5,251.5 L220.5,253.6 L221.5,255.3 L222.5,256.6 L223.5,258.0 L224.5,259.6 L225.5,261.1 L226.5,262.0 L227.5,262.4 L228.5,262.8 L229.5,263.7 L230.5,264.9 L231.5,266.1 L232.5,267.0 L233.5,267.7 L234.5,268.5 L235.5,269.7 L236.5,270.7 L237.5,271.2 L238.5,271.4 L239.5,271.7 L240.5,272.3 L241.5,273.2 L242.5,273.9 L243.5,274.5 L244.5,275.2 L245.5,276.4" fill="none" stroke="#fff" stroke-width="2.5" stroke-linejoin="round" stroke-linecap="round"/>
<path d="M269.6,284.4 L271.1,285.9 L272.6,286.4 L274.1,287.0 L275.6,287.5 L277.1,288.1 L278.6,288.8 L280.1,289.5 L281.6,290.3 L283.1,291.4 L284.6,292.5 L286.1,293.9 L287.6,295.3 L289.1,296.6 L290.6,298.0 L292.1,299.2 L293.6,300.3 L295.1,301.3 L296.6,302.0 L298.1,302.8 L299.6,303.3 L301.1,303.9 L302.6,304.3 L304.1,304.6 L305.6,305.0 L307.1,305.3 L308.6,305.7 L310.1,305.9 L311.6,306.1 L313.1,306.4 L314.6,306.6" fill="none" stroke="#fff" stroke-width="2.5" stroke-linejoin="round" stroke-linecap="round"/>
<path d="M49.5,298.7 L50.5,298.9 L51.5,299.0 L52.5,299.1 L53.5,299.3 L54.5,299.4 L55.5,299.5 L56.5,299.7 L57.5,299.7 L58.5,299.8 L59.5,299.9 L60.5,300.0 L61.5,300.0 L62.5,300.1 L63.5,300.2 L64.5,300.3 L65.5,300.3 L66.5,300.3 L67.5,300.3 L68.5,300.3 L69.5,300.3 L70.5,300.4 L71.5,300.4 L72.5,300.4 L73.5,300.4 L74.5,300.4 L75.5,300.4 L76.5,300.4 L77.5,300.4 L78.5,300.4 L79.5,300.5 L80.5,300.5 L81.5,300.5 L82.5,300.5 L83.5,300.4 L84.5,299.8 L85.5,297.8 L86.5,295.7 L87.5,293.6 L88.5,291.6 L89.5,289.6 L90.5,287.4 L91.5,285.2 L92.5,281.8 L93.5,277.8 L94.5,273.4 L95.5,269.3 L96.5,266.2 L97.5,263.5 L98.5,260.3 L99.5,256.7 L100.5,251.8 L101.5,246.9 L102.5,241.2 L103.5,235.5 L104.5,231.7 L105.5,229.3 L106.5,227.0 L107.5,224.2 L108.5,221.6 L109.5,218.9 L110.5,216.5 L111.5,214.5 L112.5,215.3 L113.5,217.9 L114.5,219.9 L115.5,220.8 L116.5,220.9 L117.5,221.5 L118.5,222.4 L119.5,222.4 L120.5,222.0 L121.5,222.6 L122.5,224.3 L123.5,225.8 L124.5,226.3 L125.5,226.7 L126.5,227.8 L127.5,228.8 L128.5,228.6 L129.5,227.8 L130.5,227.9 L131.5,229.0 L132.5,229.8 L133.5,229.8 L134.5,229.8 L135.5,230.8 L136.5,231.5 L137.5,231.0 L138.5,229.6 L139.5,228.7 L140.5,228.5 L141.5,227.8 L142.5,226.6 L143.5,226.1 L144.5,226.6 L145.5,227.1 L146.5,226.5 L147.5,225.5 L148.5,225.1 L149.5,225.1 L150.5,224.2 L151.5,222.6 L152.5,221.9 L153.5,222.5 L154.5,223.1 L155.5,222.9 L156.5,222.6 L157.5,223.2 L158.5,223.9 L159.5,223.3 L160.5,222.0 L161.5,221.2 L162.5,221.4 L163.5,221.3 L164.5,220.5 L165.5,220.0 L166.5,220.6 L167.5,221.3 L168.5,220.6 L169.5,218.8 L170.5,217.5 L171.5,216.7 L172.5,215.3 L173.5,213.3 L174.5,211.8 L175.5,211.6 L176.5,211.9 L177.5,211.5 L178.5,210.8 L179.5,210.6 L180.5,210.6 L181.5,209.5 L182.5,207.5 L183.5,206.0 L184.5,205.7 L185.5,205.7 L186.5,205.1 L187.5,204.9 L188.5,206.0 L189.5,207.5 L190.5,208.0 L191.5,207.7 L192.5,207.7 L193.5,208.1 L194.5,208.0 L195.5,207.1 L196.5,207.3 L197.5,209.4 L198.5,212.5 L199.5,215.0 L200.5,216.8 L201.5,219.0 L202.5,221.9 L203.5,224.1 L204.5,225.4 L205.5,226.8 L206.5,229.2 L207.5,232.1 L208.5,234.3 L209.5,236.0 L210.5,238.1 L211.5,240.7 L212.5,242.6 L213.5,243.2 L214.5,243.8 L215.5,245.2 L216.5,246.7 L217.5,247.7 L218.5,248.7 L219.5,250.5 L220.5,252.8 L221.5,254.6 L222.5,255.6 L223.5,256.5 L224.5,257.9 L225.5,259.2 L226.5,259.8 L227.5,260.5 L228.5,262.0 L229.5,263.9 L230.5,265.5 L231.5,266.7 L232.5,268.1 L233.5,269.7 L234.5,270.8 L235.5,271.2 L236.5,271.6 L237.5,272.5 L238.5,273.7 L239.5,274.5 L240.5,275.1 L241.5,276.1 L242.5,277.5 L243.5,278.6 L244.5,279.0 L245.5,279.4" fill="none" stroke="#fff" stroke-width="2.5" stroke-linejoin="round" stroke-linecap="round"/>
<path d="M269.6,284.5 L271.1,286.1 L272.6,286.6 L274.1,287.2 L275.6,287.7 L277.1,288.3 L278.6,289.0 L280.1,289.6 L281.6,290.5 L283.1,291.5 L284.6,292.6 L286.1,294.0 L287.6,295.4 L289.1,296.8 L290.6,298.2 L292.1,299.4 L293.6,300.5 L295.1,301.4 L296.6,302.2 L298.1,303.0 L299.6,303.5 L301.1,304.1 L302.6,304.5 L304.1,304.8 L305.6,305.2 L307.1,305.5 L308.6,305.8 L310.1,306.1 L311.6,306.3 L313.1,306.6 L314.6,306.8" fill="none" stroke="#fff" stroke-width="2.5" stroke-linejoin="round" stroke-linecap="round"/>
<path d="M49.5,298.7 L50.5,298.9 L51.5,299.0 L52.5,299.1 L53.5,299.3 L54.5,299.4 L55.5,299.5 L56.5,299.6 L57.5,299.7 L58.5,299.8 L59.5,299.9 L60.5,300.0 L61.5,300.0 L62.5,300.1 L63.5,300.2 L64.5,300.3 L65.5,300.3 L66.5,300.3 L67.5,300.3 L68.5,300.4 L69.5,300.4 L70.5,300.4 L71.5,300.4 L72.5,300.4 L73.5,300.4 L74.5,300.4 L75.5,300.4 L76.5,300.5 L77.5,300.5 L78.5,300.5 L79.5,300.5 L80.5,300.5 L81.5,300.5 L82.5,300.5 L83.5,300.5 L84.5,299.8 L85.5,297.9 L86.5,295.7 L87.5,293.6 L88.5,291.6 L89.5,289.6 L90.5,287.4 L91.5,285.2 L92.5,281.7 L93.5,277.7 L94.5,273.3 L95.5,269.2 L96.5,266.0 L97.5,263.2 L98.5,259.9 L99.5,255.8 L100.5,250.3 L101.5,244.8 L102.5,238.8 L103.5,232.6 L104.5,228.0 L105.5,225.5 L106.5,225.1 L107.5,224.6 L108.5,222.8 L109.5,219.4 L110.5,216.6 L111.5,214.8 L112.5,215.4 L113.5,217.2 L114.5,218.8 L115.5,220.1 L116.5,220.8 L117.5,221.3 L118.5,222.3 L119.5,223.6 L120.5,224.9 L121.5,225.7 L122.5,225.8 L123.5,225.6 L124.5,225.6 L125.5,225.9 L126.5,226.6 L127.5,227.3 L128.5,227.6 L129.5,227.6 L130.5,227.8 L131.5,228.6 L132.5,230.0 L133.5,231.5 L134.5,232.6 L135.5,233.1 L136.5,233.2 L137.5,233.2 L138.5,233.3 L139.5,233.5 L140.5,233.6 L141.5,233.3 L142.5,232.6 L143.5,231.6 L144.5,231.0 L145.5,230.9 L146.5,231.2 L147.5,231.3 L148.5,231.0 L149.5,230.1 L150.5,229.0 L151.5,228.1 L152.5,227.4 L153.5,226.7 L154.5,225.6 L155.5,224.0 L156.5,222.1 L157.5,220.6 L158.5,219.7 L159.5,219.3 L160.5,219.2 L161.5,218.8 L162.5,218.1 L163.5,217.2 L164.5,216.6 L165.5,216.4 L166.5,216.4 L167.5,216.0 L168.5,214.9 L169.5,213.2 L170.5,211.6 L171.5,210.6 L172.5,210.3 L173.5,210.3 L174.5,210.2 L175.5,209.7 L176.5,209.4 L177.5,209.5 L178.5,210.1 L179.5,210.8 L180.5,211.1 L181.5,210.6 L182.5,209.5 L183.5,208.2 L184.5,207.4 L185.5,207.1 L186.5,207.2 L187.5,207.5 L188.5,207.8 L189.5,207.9 L190.5,208.4 L191.5,209.6 L192.5,211.1 L193.5,212.1 L194.5,212.2 L195.5,211.7 L196.5,211.6 L197.5,212.5 L198.5,214.2 L199.5,216.6 L200.5,219.0 L201.5,221.1 L202.5,223.2 L203.5,225.4 L204.5,228.1 L205.5,231.1 L206.5,234.0 L207.5,236.5 L208.5,238.4 L209.5,239.7 L210.5,240.8 L211.5,242.3 L212.5,243.9 L213.5,245.2 L214.5,246.0 L215.5,246.6 L216.5,247.2 L217.5,248.2 L218.5,249.7 L219.5,251.4 L220.5,252.9 L221.5,254.1 L222.5,255.0 L223.5,255.7 L224.5,256.7 L225.5,257.8 L226.5,259.0 L227.5,260.0 L228.5,260.7 L229.5,261.5 L230.5,262.5 L231.5,264.0 L232.5,265.8 L233.5,267.4 L234.5,268.7 L235.5,269.7 L236.5,270.7 L237.5,271.8 L238.5,273.0 L239.5,274.1 L240.5,275.0 L241.5,275.6 L242.5,276.1 L243.5,276.6 L244.5,277.4 L245.5,278.5" fill="none" stroke="#fff" stroke-width="2.5" stroke-linejoin="round" stroke-linecap="round"/>
<path d="M269.6,284.7 L271.1,286.3 L272.6,286.8 L274.1,287.3 L275.6,287.9 L277.1,288.5 L278.6,289.2 L280.1,289.8 L281.6,290.6 L283.1,291.7 L284.6,292.8 L286.1,294.2 L287.6,295.6 L289.1,297.0 L290.6,298.4 L292.1,299.5 L293.6,300.7 L295.1,301.6 L296.6,302.4 L298.1,303.2 L299.6,303.7 L301.1,304.2 L302.6,304.6 L304.1,305.0 L305.6,305.3 L307.1,305.7 L308.6,306.0 L310.1,306.3 L311.6,306.5 L313.1,306.7 L314.6,307.0" fill="none" stroke="#fff" stroke-width="2.5" stroke-linejoin="round" stroke-linecap="round"/>
<path d="M49.5,298.7 L50.5,298.9 L51.5,299.0 L52.5,299.2 L53.5,299.3 L54.5,299.4 L55.5,299.6 L56.5,299.7 L57.5,299.7 L58.5,299.8 L59.5,299.9 L60.5,300.0 L61.5,300.1 L62.5,300.1 L63.5,300.2 L64.5,300.3 L65.5,300.3 L66.5,300.3 L67.5,300.3 L68.5,300.4 L69.5,300.4 L70.5,300.4 L71.5,300.4 L72.5,300.4 L73.5,300.4 L74.5,300.4 L75.5,300.4 L76.5,300.4 L77.5,300.5 L78.5,300.5 L79.5,300.5 L80.5,300.5 L81.5,300.5 L82.5,300.5 L83.5,300.4 L84.5,299.8 L85.5,297.8 L86.5,295.7 L87.5,293.6 L88.5,291.6 L89.5,289.6 L90.5,287.4 L91.5,285.2 L92.5,281.7 L93.5,277.7 L94.5,273.2 L95.5,269.1 L96.5,266.0 L97.5,263.3 L98.5,260.0 L99.5,256.0 L100.5,250.3 L101.5,244.9 L102.5,239.4 L103.5,234.1 L104.5,229.9 L105.5,226.8 L106.5,225.2 L107.5,224.0 L108.5,222.4 L109.5,219.6 L110.5,217.1 L111.5,215.2 L112.5,216.0 L113.5,218.5 L114.5,221.2 L115.5,223.4 L116.5,224.6 L117.5,225.5 L118.5,226.9 L119.5,228.4 L120.5,229.3 L121.5,229.4 L122.5,229.0 L123.5,228.9 L124.5,229.5 L125.5,230.3 L126.5,230.8 L127.5,230.7 L128.5,230.7 L129.5,231.4 L130.5,232.5 L131.5,233.3 L132.5,233.3 L133.5,232.6 L134.5,231.8 L135.5,231.6 L136.5,231.5 L137.5,230.9 L138.5,229.6 L139.5,228.3 L140.5,227.8 L141.5,228.1 L142.5,228.4 L143.5,228.2 L144.5,227.5 L145.5,227.0 L146.5,227.1 L147.5,227.4 L148.5,227.1 L149.5,226.0 L150.5,224.7 L151.5,224.1 L152.5,224.1 L153.5,224.1 L154.5,223.7 L155.5,223.0 L156.5,222.7 L157.5,223.1 L158.5,223.7 L159.5,223.9 L160.5,223.2 L161.5,222.1 L162.5,221.3 L163.5,220.9 L164.5,220.4 L165.5,219.3 L166.5,217.7 L167.5,216.5 L168.5,215.9 L169.5,215.7 L170.5,215.3 L171.5,214.3 L172.5,213.2 L173.5,212.7 L174.5,212.6 L175.5,212.5 L176.5,211.9 L177.5,211.0 L178.5,210.1 L179.5,210.0 L180.5,210.4 L181.5,210.4 L182.5,210.0 L183.5,209.4 L184.5,209.6 L185.5,210.5 L186.5,211.4 L187.5,211.9 L188.5,212.0 L189.5,212.0 L190.5,212.4 L191.5,213.3 L192.5,213.7 L193.5,213.1 L194.5,211.8 L195.5,211.0 L196.5,211.7 L197.5,213.5 L198.5,215.1 L199.5,216.6 L200.5,218.0 L201.5,220.0 L202.5,222.5 L203.5,224.6 L204.5,226.0 L205.5,226.8 L206.5,228.0 L207.5,229.8 L208.5,232.0 L209.5,233.9 L210.5,235.3 L211.5,236.9 L212.5,239.2 L213.5,241.7 L214.5,244.0 L215.5,245.6 L216.5,246.8 L217.5,248.1 L218.5,249.9 L219.5,251.7 L220.5,253.3 L221.5,254.3 L222.5,255.5 L223.5,257.0 L224.5,258.9 L225.5,260.8 L226.5,262.3 L227.5,263.4 L228.5,264.7 L229.5,266.2 L230.5,267.7 L231.5,268.9 L232.5,269.5 L233.5,269.9 L234.5,270.4 L235.5,271.3 L236.5,272.2 L237.5,272.9 L238.5,273.4 L239.5,274.0 L240.5,275.0 L241.5,276.2 L242.5,277.2 L243.5,277.8 L244.5,278.2 L245.5,278.8" fill="none" stroke="#fff" stroke-width="2.5" stroke-linejoin="round" stroke-linecap="round"/>
<path d="M269.6,284.9 L271.1,286.4 L272.6,287.0 L274.1,287.5 L275.6,288.1 L277.1,288.7 L278.6,289.3 L280.1,290.0 L281.6,290.8 L283.1,291.9 L284.6,293.0 L286.1,294.4 L287.6,295.8 L289.1,297.2 L290.6,298.5 L292.1,299.7 L293.6,300.8 L295.1,301.8 L296.6,302.6 L298.1,303.3 L299.6,303.9 L301.1,304.4 L302.6,304.8 L304.1,305.2 L305.6,305.5 L307.1,305.9 L308.6,306.2 L310.1,306.4 L311.6,306.7 L313.1,306.9 L314.6,307.2" fill="none" stroke="#fff" stroke-width="2.5" stroke-linejoin="round" stroke-linecap="round"/>
<path d="M246.1,274.4 L246.7,231.7 L246.9,197.5 L247.5,197.9 L248.4,196.9 L248.7,212.1 L249.6,236.5 L250.0,218.9 L251.3,209.2 L252.1,219.4 L252.7,240.3 L253.6,262.4 L254.6,246.6 L255.7,232.5 L256.5,214.7 L257.4,200.9 L258.4,196.0 L258.9,196.8 L259.5,216.1 L260.4,214.1 L260.7,205.5 L262.0,197.4 L262.7,204.6 L263.5,222.7 L264.1,247.3 L265.0,260.1 L266.4,249.7 L266.9,240.9 L267.5,242.3 L268.5,244.9 L268.8,262.2 L269.8,281.7" fill="none" stroke="#fff" stroke-width="1.3" stroke-linejoin="round"/>
<path d="M246.3,274.1 L246.6,232.3 L247.0,202.5 L247.5,193.2 L248.4,193.0 L248.9,213.5 L249.6,239.6 L250.1,222.3 L250.9,214.9 L252.0,220.0 L252.4,236.1 L253.7,260.8 L254.8,249.1 L255.6,236.2 L256.7,217.9 L257.4,202.4 L258.2,196.3 L259.2,199.0 L259.6,211.5 L260.1,217.3 L260.8,203.5 L261.9,203.2 L262.9,201.1 L263.6,222.6 L264.0,245.8 L264.8,262.6 L266.3,254.5 L267.1,244.8 L267.7,242.0 L268.3,246.6 L268.8,265.3 L269.7,284.7" fill="none" stroke="#fff" stroke-width="1.3" stroke-linejoin="round"/>
<path d="M246.2,274.1 L246.7,234.3 L246.9,200.1 L247.4,198.7 L248.4,198.0 L249.1,214.8 L249.5,239.8 L250.1,222.7 L251.2,214.9 L251.7,215.0 L252.5,236.5 L253.5,260.3 L254.8,250.1 L255.7,237.0 L256.6,218.0 L257.3,200.3 L258.2,197.6 L258.8,201.8 L259.5,212.8 L260.1,221.0 L260.9,208.7 L262.0,199.1 L262.9,204.4 L263.6,219.8 L263.9,246.7 L265.0,262.5 L266.2,251.0 L267.0,242.9 L267.9,242.2 L268.5,247.7 L268.8,263.4 L269.6,283.0" fill="none" stroke="#fff" stroke-width="1.3" stroke-linejoin="round"/>
<path d="M245.8,279 L245.9,196 L246.4,191 L248.6,190.8 L249.2,194 L249.6,206 L250.2,208 L252.2,208 L252.7,214 L254.8,236 L256.4,214 L257.2,198 L258.2,190 L259.2,196 L259.9,205 L260.4,207 L260.9,200 L261.8,196 L263,197 L263.6,206 L264,225 L264.6,236 L265.8,237 L266.2,235 L268.5,235 L268.9,246 L269.4,270 L270.4,285.5 L268.6,272 L266.5,268 L264.5,270 L262.5,264 L260.6,268 L259.4,277 L258.2,277 L257.4,269 L255,270 L252.6,266 L251,262 L249.6,264 L248.8,278 L247,279 Z" fill="#fff"/>
<path d="M154.6,222 L155.3,206 L155.8,203.4 L156.6,203.6 L157.1,208 L157.6,221 Z M158.6,220 L159.2,200 L159.8,196.4 L161,196.4 L161.6,201 L162.3,219 Z" fill="#fff"/>
</g>
<g clip-path="url(#cr)">
<path d="M327.5,245 L329.7,245 L331.2,299.5 L327.5,299.5 Z" fill="#fff"/>
<path d="M328.6,298.8 L329.6,298.9 L330.6,299.0 L331.6,299.1 L332.6,299.1 L333.6,299.2 L334.6,299.3 L335.6,299.4 L336.6,299.5 L337.6,299.6 L338.6,299.7 L339.6,299.8 L340.6,299.8 L341.6,299.9 L342.6,299.9 L343.6,300.0 L344.6,300.0 L345.6,300.1 L346.6,300.1 L347.6,300.2 L348.6,300.2 L349.6,300.3 L350.6,300.3 L351.6,300.4 L352.6,300.4 L353.6,300.5 L354.6,300.6 L355.6,300.6 L356.6,300.6 L357.6,300.7 L358.6,300.7 L359.6,300.7 L360.6,300.7 L361.6,300.8 L362.6,300.8 L363.6,300.8 L364.6,300.9 L365.6,300.3 L366.6,298.8 L367.6,296.8 L368.6,294.5 L369.6,292.2 L370.6,289.7 L371.6,287.1 L372.6,283.4 L373.6,279.8 L374.6,276.2 L375.6,271.8 L376.6,267.4 L377.6,262.9 L378.6,258.2 L379.6,253.3 L380.6,248.6 L381.6,243.3 L382.6,237.4 L383.6,231.9 L384.6,227.0 L385.6,223.6 L386.6,220.7 L387.6,219.2 L388.6,217.2 L389.6,215.4 L390.6,214.3 L391.6,212.8 L392.6,212.6 L393.6,213.8 L394.6,216.3 L395.6,219.1 L396.6,220.9 L397.6,221.3 L398.6,221.4 L399.6,221.6 L400.6,222.1 L401.6,222.2 L402.6,221.6 L403.6,220.7 L404.6,220.5 L405.6,221.1 L406.6,221.8 L407.6,221.9 L408.6,221.8 L409.6,222.2 L410.6,223.2 L411.6,224.3 L412.6,224.6 L413.6,224.2 L414.6,223.9 L415.6,224.2 L416.6,224.8 L417.6,225.0 L418.6,224.4 L419.6,223.9 L420.6,224.2 L421.6,225.0 L422.6,225.5 L423.6,225.3 L424.6,224.8 L425.6,224.9 L426.6,225.2 L427.6,225.2 L428.6,224.1 L429.6,222.6 L430.6,221.5 L431.6,221.1 L432.6,220.6 L433.6,219.5 L434.6,218.2 L435.6,217.5 L436.6,217.6 L437.6,217.9 L438.6,217.7 L439.6,217.0 L440.6,216.6 L441.6,216.7 L442.6,217.0 L443.6,216.5 L444.6,215.4 L445.6,214.3 L446.6,214.0 L447.6,214.2 L448.6,213.9 L449.6,213.1 L450.6,212.3 L451.6,212.2 L452.6,212.7 L453.6,212.9 L454.6,212.3 L455.6,211.3 L456.6,211.0 L457.6,211.3 L458.6,211.4 L459.6,210.6 L460.6,209.2 L461.6,208.0 L462.6,207.6 L463.6,207.3 L464.6,206.6 L465.6,205.8 L466.6,205.2 L467.6,205.8 L468.6,206.8 L469.6,207.2 L470.6,206.9 L471.6,206.6 L472.6,206.9 L473.6,207.2 L474.6,206.7 L475.6,205.7 L476.6,205.6 L477.6,206.9 L478.6,209.3 L479.6,212.0 L480.6,214.0 L481.6,216.0 L482.6,218.6 L483.6,221.7 L484.6,224.6 L485.6,226.5 L486.6,227.8 L487.6,229.5 L488.6,231.7 L489.6,233.7 L490.6,235.2 L491.6,236.3 L492.6,237.8 L493.6,239.9 L494.6,242.0 L495.6,243.7 L496.6,244.9 L497.6,246.3 L498.6,248.1 L499.6,249.9 L500.6,251.3 L501.6,252.2 L502.6,252.9 L503.6,254.1 L504.6,255.6 L505.6,257.0 L506.6,257.9 L507.6,258.9 L508.6,260.4 L509.6,262.2 L510.6,263.9 L511.6,265.1 L512.6,266.0 L513.6,267.1 L514.6,268.4 L515.6,269.6 L516.6,270.2 L517.6,270.5 L518.6,270.8 L519.6,271.6 L520.6,272.4 L521.6,273.0 L522.6,273.3 L523.6,273.8 L524.6,274.8 L525.6,275.9" fill="none" stroke="#fff" stroke-width="2.5" stroke-linejoin="round" stroke-linecap="round"/>
<path d="M551.4,283.1 L552.9,284.2 L554.4,285.3 L555.9,286.3 L557.4,287.3 L558.9,288.3 L560.4,289.3 L561.9,290.1 L563.4,290.8 L564.9,291.6 L566.4,292.4 L567.9,293.3 L569.4,294.2 L570.9,295.1 L572.4,296.0 L573.9,296.9 L575.4,297.8 L576.9,298.5 L578.4,299.2 L579.9,299.9 L581.4,300.4 L582.9,300.9 L584.4,301.4 L585.9,301.9 L587.4,302.3 L588.9,302.8 L590.4,303.2 L591.9,303.7 L593.4,304.1 L594.9,304.4" fill="none" stroke="#fff" stroke-width="2.5" stroke-linejoin="round" stroke-linecap="round"/>
<path d="M328.6,298.8 L329.6,298.9 L330.6,298.9 L331.6,299.0 L332.6,299.1 L333.6,299.2 L334.6,299.3 L335.6,299.4 L336.6,299.5 L337.6,299.6 L338.6,299.7 L339.6,299.7 L340.6,299.8 L341.6,299.9 L342.6,299.9 L343.6,300.0 L344.6,300.0 L345.6,300.1 L346.6,300.1 L347.6,300.2 L348.6,300.2 L349.6,300.3 L350.6,300.3 L351.6,300.4 L352.6,300.4 L353.6,300.5 L354.6,300.5 L355.6,300.6 L356.6,300.6 L357.6,300.6 L358.6,300.7 L359.6,300.7 L360.6,300.7 L361.6,300.8 L362.6,300.8 L363.6,300.8 L364.6,300.9 L365.6,300.3 L366.6,298.8 L367.6,296.8 L368.6,294.5 L369.6,292.2 L370.6,289.7 L371.6,287.1 L372.6,283.7 L373.6,280.2 L374.6,276.6 L375.6,272.2 L376.6,267.8 L377.6,263.3 L378.6,258.7 L379.6,253.8 L380.6,249.1 L381.6,243.9 L382.6,238.1 L383.6,232.3 L384.6,227.1 L385.6,224.0 L386.6,221.8 L387.6,220.7 L388.6,218.8 L389.6,217.2 L390.6,215.9 L391.6,213.7 L392.6,212.8 L393.6,213.7 L394.6,216.2 L395.6,218.2 L396.6,219.0 L397.6,219.5 L398.6,221.1 L399.6,222.5 L400.6,222.9 L401.6,222.8 L402.6,223.2 L403.6,224.0 L404.6,224.3 L405.6,223.5 L406.6,222.8 L407.6,222.9 L408.6,223.2 L409.6,222.8 L410.6,222.1 L411.6,222.4 L412.6,223.5 L413.6,224.2 L414.6,224.1 L415.6,224.3 L416.6,225.4 L417.6,226.5 L418.6,226.4 L419.6,225.7 L420.6,225.6 L421.6,226.0 L422.6,225.9 L423.6,224.9 L424.6,224.2 L425.6,224.4 L426.6,224.8 L427.6,224.4 L428.6,223.6 L429.6,223.5 L430.6,223.8 L431.6,223.4 L432.6,222.1 L433.6,221.0 L434.6,220.5 L435.6,219.9 L436.6,218.4 L437.6,216.7 L438.6,216.0 L439.6,215.9 L440.6,215.5 L441.6,214.5 L442.6,214.2 L443.6,214.7 L444.6,215.1 L445.6,214.6 L446.6,213.9 L447.6,213.9 L448.6,214.1 L449.6,213.3 L450.6,211.8 L451.6,210.8 L452.6,210.6 L453.6,210.4 L454.6,209.4 L455.6,208.4 L456.6,208.7 L457.6,209.7 L458.6,210.0 L459.6,209.6 L460.6,209.3 L461.6,209.4 L462.6,209.2 L463.6,207.8 L464.6,206.5 L465.6,206.1 L466.6,206.1 L467.6,205.9 L468.6,205.5 L469.6,205.8 L470.6,207.1 L471.6,208.3 L472.6,208.8 L473.6,208.9 L474.6,209.6 L475.6,210.5 L476.6,211.4 L477.6,212.2 L478.6,213.8 L479.6,216.4 L480.6,218.6 L481.6,220.1 L482.6,221.6 L483.6,224.2 L484.6,227.0 L485.6,229.0 L486.6,230.6 L487.6,232.7 L488.6,235.4 L489.6,237.5 L490.6,238.6 L491.6,239.7 L492.6,241.4 L493.6,243.0 L494.6,243.7 L495.6,244.0 L496.6,245.0 L497.6,246.8 L498.6,248.2 L499.6,249.1 L500.6,250.3 L501.6,252.2 L502.6,254.3 L503.6,255.6 L504.6,256.5 L505.6,257.8 L506.6,259.4 L507.6,260.7 L508.6,261.1 L509.6,261.6 L510.6,262.7 L511.6,263.9 L512.6,264.6 L513.6,265.0 L514.6,266.0 L515.6,267.4 L516.6,268.4 L517.6,268.9 L518.6,269.4 L519.6,270.3 L520.6,271.1 L521.6,271.3 L522.6,271.3 L523.6,271.8 L524.6,272.7 L525.6,273.4" fill="none" stroke="#fff" stroke-width="2.5" stroke-linejoin="round" stroke-linecap="round"/>
<path d="M551.4,283.3 L552.9,284.4 L554.4,285.5 L555.9,286.5 L557.4,287.5 L558.9,288.6 L560.4,289.5 L561.9,290.3 L563.4,291.0 L564.9,291.8 L566.4,292.7 L567.9,293.6 L569.4,294.5 L570.9,295.4 L572.4,296.3 L573.9,297.2 L575.4,298.0 L576.9,298.7 L578.4,299.4 L579.9,300.1 L581.4,300.6 L582.9,301.1 L584.4,301.6 L585.9,302.1 L587.4,302.5 L588.9,303.0 L590.4,303.4 L591.9,303.9 L593.4,304.3 L594.9,304.7" fill="none" stroke="#fff" stroke-width="2.5" stroke-linejoin="round" stroke-linecap="round"/>
<path d="M328.6,298.8 L329.6,298.9 L330.6,299.0 L331.6,299.1 L332.6,299.2 L333.6,299.2 L334.6,299.3 L335.6,299.4 L336.6,299.5 L337.6,299.6 L338.6,299.7 L339.6,299.8 L340.6,299.8 L341.6,299.9 L342.6,299.9 L343.6,300.0 L344.6,300.1 L345.6,300.1 L346.6,300.2 L347.6,300.2 L348.6,300.3 L349.6,300.3 L350.6,300.4 L351.6,300.4 L352.6,300.5 L353.6,300.5 L354.6,300.6 L355.6,300.6 L356.6,300.7 L357.6,300.7 L358.6,300.7 L359.6,300.7 L360.6,300.8 L361.6,300.8 L362.6,300.8 L363.6,300.8 L364.6,300.9 L365.6,300.3 L366.6,298.8 L367.6,296.7 L368.6,294.5 L369.6,292.2 L370.6,289.7 L371.6,287.1 L372.6,283.5 L373.6,279.9 L374.6,276.4 L375.6,272.0 L376.6,267.6 L377.6,263.1 L378.6,258.4 L379.6,253.7 L380.6,249.2 L381.6,244.3 L382.6,238.9 L383.6,233.6 L384.6,228.1 L385.6,223.8 L386.6,220.8 L387.6,219.8 L388.6,217.6 L389.6,214.5 L390.6,211.6 L391.6,209.1 L392.6,209.2 L393.6,211.0 L394.6,213.4 L395.6,215.4 L396.6,216.4 L397.6,217.2 L398.6,218.4 L399.6,219.5 L400.6,220.1 L401.6,220.3 L402.6,220.2 L403.6,220.3 L404.6,221.1 L405.6,222.5 L406.6,224.0 L407.6,225.0 L408.6,225.7 L409.6,226.4 L410.6,227.3 L411.6,228.4 L412.6,229.3 L413.6,229.5 L414.6,229.0 L415.6,228.3 L416.6,228.1 L417.6,228.4 L418.6,228.8 L419.6,228.8 L420.6,228.4 L421.6,228.0 L422.6,227.8 L423.6,227.9 L424.6,228.1 L425.6,227.8 L426.6,226.9 L427.6,225.6 L428.6,224.5 L429.6,224.0 L430.6,223.8 L431.6,223.7 L432.6,223.3 L433.6,222.8 L434.6,222.5 L435.6,222.7 L436.6,223.2 L437.6,223.4 L438.6,222.9 L439.6,222.0 L440.6,220.8 L441.6,220.1 L442.6,219.6 L443.6,219.1 L444.6,218.2 L445.6,217.0 L446.6,215.8 L447.6,215.2 L448.6,214.8 L449.6,214.4 L450.6,213.5 L451.6,211.9 L452.6,210.2 L453.6,208.7 L454.6,207.6 L455.6,206.8 L456.6,206.1 L457.6,205.5 L458.6,204.8 L459.6,204.7 L460.6,205.1 L461.6,205.6 L462.6,206.0 L463.6,205.9 L464.6,205.5 L465.6,205.2 L466.6,205.3 L467.6,205.9 L468.6,206.6 L469.6,206.9 L470.6,206.8 L471.6,207.0 L472.6,207.7 L473.6,208.6 L474.6,209.2 L475.6,209.4 L476.6,209.8 L477.6,210.7 L478.6,212.3 L479.6,214.4 L480.6,216.4 L481.6,218.0 L482.6,219.2 L483.6,220.4 L484.6,222.2 L485.6,224.7 L486.6,227.4 L487.6,230.0 L488.6,232.1 L489.6,234.1 L490.6,236.3 L491.6,238.8 L492.6,241.4 L493.6,243.3 L494.6,244.7 L495.6,245.7 L496.6,247.0 L497.6,248.8 L498.6,250.8 L499.6,252.8 L500.6,254.3 L501.6,255.7 L502.6,257.1 L503.6,258.6 L504.6,260.2 L505.6,261.5 L506.6,262.3 L507.6,262.7 L508.6,262.9 L509.6,263.4 L510.6,264.3 L511.6,265.2 L512.6,266.0 L513.6,266.5 L514.6,267.1 L515.6,267.9 L516.6,269.1 L517.6,270.3 L518.6,271.1 L519.6,271.5 L520.6,271.7 L521.6,272.2 L522.6,272.9 L523.6,273.9 L524.6,274.8 L525.6,275.5" fill="none" stroke="#fff" stroke-width="2.5" stroke-linejoin="round" stroke-linecap="round"/>
<path d="M551.4,283.6 L552.9,284.7 L554.4,285.7 L555.9,286.7 L557.4,287.8 L558.9,288.8 L560.4,289.8 L561.9,290.5 L563.4,291.2 L564.9,292.0 L566.4,292.9 L567.9,293.8 L569.4,294.7 L570.9,295.6 L572.4,296.5 L573.9,297.4 L575.4,298.2 L576.9,298.9 L578.4,299.6 L579.9,300.3 L581.4,300.8 L582.9,301.3 L584.4,301.8 L585.9,302.3 L587.4,302.8 L588.9,303.2 L590.4,303.7 L591.9,304.1 L593.4,304.5 L594.9,304.9" fill="none" stroke="#fff" stroke-width="2.5" stroke-linejoin="round" stroke-linecap="round"/>
<path d="M328.6,298.8 L329.6,298.9 L330.6,299.0 L331.6,299.1 L332.6,299.1 L333.6,299.2 L334.6,299.3 L335.6,299.4 L336.6,299.5 L337.6,299.6 L338.6,299.7 L339.6,299.8 L340.6,299.8 L341.6,299.9 L342.6,299.9 L343.6,300.0 L344.6,300.0 L345.6,300.1 L346.6,300.1 L347.6,300.2 L348.6,300.2 L349.6,300.3 L350.6,300.3 L351.6,300.4 L352.6,300.4 L353.6,300.5 L354.6,300.5 L355.6,300.6 L356.6,300.6 L357.6,300.7 L358.6,300.7 L359.6,300.7 L360.6,300.8 L361.6,300.8 L362.6,300.8 L363.6,300.9 L364.6,300.9 L365.6,300.3 L366.6,298.8 L367.6,296.8 L368.6,294.5 L369.6,292.3 L370.6,289.8 L371.6,287.2 L372.6,283.6 L373.6,280.1 L374.6,276.5 L375.6,272.1 L376.6,267.7 L377.6,263.2 L378.6,258.6 L379.6,254.0 L380.6,249.6 L381.6,244.7 L382.6,239.2 L383.6,233.5 L384.6,228.0 L385.6,224.2 L386.6,221.9 L387.6,221.5 L388.6,220.0 L389.6,217.9 L390.6,216.4 L391.6,215.5 L392.6,216.3 L393.6,217.7 L394.6,219.1 L395.6,220.0 L396.6,220.7 L397.6,221.5 L398.6,222.5 L399.6,222.8 L400.6,222.6 L401.6,222.6 L402.6,223.3 L403.6,224.2 L404.6,224.8 L405.6,224.7 L406.6,224.0 L407.6,223.5 L408.6,223.6 L409.6,224.2 L410.6,224.7 L411.6,224.9 L412.6,225.3 L413.6,226.0 L414.6,227.3 L415.6,228.6 L416.6,229.3 L417.6,229.2 L418.6,228.6 L419.6,228.2 L420.6,228.2 L421.6,228.3 L422.6,228.0 L423.6,227.4 L424.6,226.9 L425.6,226.9 L426.6,227.3 L427.6,227.3 L428.6,226.3 L429.6,224.7 L430.6,223.2 L431.6,222.2 L432.6,221.5 L433.6,220.6 L434.6,219.5 L435.6,218.4 L436.6,218.1 L437.6,218.3 L438.6,218.8 L439.6,218.7 L440.6,217.9 L441.6,217.0 L442.6,216.5 L443.6,216.3 L444.6,216.1 L445.6,215.5 L446.6,214.8 L447.6,214.4 L448.6,214.5 L449.6,214.8 L450.6,214.8 L451.6,213.8 L452.6,212.4 L453.6,211.1 L454.6,210.2 L455.6,209.5 L456.6,208.9 L457.6,208.1 L458.6,207.5 L459.6,207.6 L460.6,208.0 L461.6,208.3 L462.6,208.0 L463.6,207.1 L464.6,206.2 L465.6,205.8 L466.6,205.9 L467.6,206.3 L468.6,206.7 L469.6,207.0 L470.6,207.7 L471.6,209.2 L472.6,211.1 L473.6,212.3 L474.6,212.4 L475.6,212.0 L476.6,212.5 L477.6,213.9 L478.6,215.9 L479.6,217.8 L480.6,219.2 L481.6,220.8 L482.6,223.1 L483.6,225.9 L484.6,228.7 L485.6,230.7 L486.6,232.1 L487.6,233.2 L488.6,234.8 L489.6,236.5 L490.6,238.1 L491.6,239.4 L492.6,240.5 L493.6,242.0 L494.6,244.0 L495.6,246.3 L496.6,248.4 L497.6,250.0 L498.6,251.1 L499.6,252.2 L500.6,253.7 L501.6,255.2 L502.6,256.4 L503.6,257.2 L504.6,258.0 L505.6,259.3 L506.6,261.0 L507.6,262.7 L508.6,263.8 L509.6,264.3 L510.6,264.7 L511.6,265.3 L512.6,266.1 L513.6,266.6 L514.6,266.8 L515.6,266.9 L516.6,267.3 L517.6,268.3 L518.6,269.5 L519.6,270.4 L520.6,271.0 L521.6,271.4 L522.6,271.9 L523.6,272.8 L524.6,273.7 L525.6,274.4" fill="none" stroke="#fff" stroke-width="2.5" stroke-linejoin="round" stroke-linecap="round"/>
<path d="M551.4,283.8 L552.9,284.9 L554.4,285.9 L555.9,287.0 L557.4,288.0 L558.9,289.0 L560.4,290.0 L561.9,290.7 L563.4,291.5 L564.9,292.2 L566.4,293.1 L567.9,294.0 L569.4,294.9 L570.9,295.8 L572.4,296.7 L573.9,297.6 L575.4,298.5 L576.9,299.1 L578.4,299.8 L579.9,300.5 L581.4,301.0 L582.9,301.5 L584.4,302.0 L585.9,302.5 L587.4,303.0 L588.9,303.4 L590.4,303.9 L591.9,304.3 L593.4,304.7 L594.9,305.1" fill="none" stroke="#fff" stroke-width="2.5" stroke-linejoin="round" stroke-linecap="round"/>
<path d="M328.6,298.8 L329.6,298.9 L330.6,299.0 L331.6,299.0 L332.6,299.1 L333.6,299.2 L334.6,299.3 L335.6,299.4 L336.6,299.5 L337.6,299.6 L338.6,299.7 L339.6,299.7 L340.6,299.8 L341.6,299.9 L342.6,299.9 L343.6,300.0 L344.6,300.0 L345.6,300.1 L346.6,300.1 L347.6,300.2 L348.6,300.3 L349.6,300.3 L350.6,300.4 L351.6,300.4 L352.6,300.5 L353.6,300.5 L354.6,300.6 L355.6,300.6 L356.6,300.7 L357.6,300.7 L358.6,300.7 L359.6,300.8 L360.6,300.8 L361.6,300.8 L362.6,300.8 L363.6,300.9 L364.6,300.9 L365.6,300.3 L366.6,298.8 L367.6,296.8 L368.6,294.5 L369.6,292.3 L370.6,289.8 L371.6,287.1 L372.6,283.6 L373.6,280.2 L374.6,276.6 L375.6,272.2 L376.6,267.8 L377.6,263.4 L378.6,259.0 L379.6,254.7 L380.6,250.1 L381.6,244.9 L382.6,239.7 L383.6,234.8 L384.6,229.9 L385.6,226.2 L386.6,224.0 L387.6,224.1 L388.6,223.1 L389.6,220.7 L390.6,217.7 L391.6,215.1 L392.6,214.8 L393.6,215.8 L394.6,217.0 L395.6,218.1 L396.6,219.2 L397.6,220.7 L398.6,222.1 L399.6,222.4 L400.6,221.7 L401.6,221.2 L402.6,221.3 L403.6,221.4 L404.6,221.0 L405.6,220.4 L406.6,220.5 L407.6,221.6 L408.6,223.0 L409.6,223.7 L410.6,223.7 L411.6,223.9 L412.6,224.6 L413.6,225.1 L414.6,225.1 L415.6,224.7 L416.6,224.8 L417.6,226.0 L418.6,227.3 L419.6,227.9 L420.6,227.8 L421.6,227.7 L422.6,228.0 L423.6,228.2 L424.6,227.6 L425.6,226.4 L426.6,225.5 L427.6,225.5 L428.6,226.0 L429.6,226.0 L430.6,225.3 L431.6,224.6 L432.6,224.4 L433.6,224.2 L434.6,223.3 L435.6,221.6 L436.6,220.1 L437.6,219.6 L438.6,219.8 L439.6,219.8 L440.6,219.4 L441.6,219.0 L442.6,219.2 L443.6,219.4 L444.6,219.0 L445.6,217.7 L446.6,216.3 L447.6,215.8 L448.6,215.8 L449.6,215.6 L450.6,214.9 L451.6,214.3 L452.6,214.4 L453.6,214.8 L454.6,214.6 L455.6,213.4 L456.6,212.3 L457.6,212.0 L458.6,212.3 L459.6,212.5 L460.6,212.0 L461.6,211.3 L462.6,211.3 L463.6,211.7 L464.6,211.8 L465.6,210.9 L466.6,209.6 L467.6,209.1 L468.6,209.4 L469.6,209.6 L470.6,209.4 L471.6,209.2 L472.6,209.8 L473.6,210.7 L474.6,211.1 L475.6,210.6 L476.6,210.4 L477.6,211.1 L478.6,212.8 L479.6,214.8 L480.6,216.2 L481.6,217.7 L482.6,220.1 L483.6,223.3 L484.6,226.4 L485.6,228.7 L486.6,230.3 L487.6,232.2 L488.6,234.4 L489.6,236.4 L490.6,237.7 L491.6,238.9 L492.6,240.6 L493.6,243.0 L494.6,245.2 L495.6,246.9 L496.6,248.0 L497.6,249.2 L498.6,250.6 L499.6,251.8 L500.6,252.4 L501.6,252.8 L502.6,253.6 L503.6,255.0 L504.6,256.6 L505.6,257.9 L506.6,258.8 L507.6,259.8 L508.6,261.1 L509.6,262.2 L510.6,262.8 L511.6,263.1 L512.6,263.7 L513.6,264.8 L514.6,266.3 L515.6,267.5 L516.6,268.5 L517.6,269.5 L518.6,270.8 L519.6,272.1 L520.6,272.8 L521.6,273.1 L522.6,273.5 L523.6,274.5 L524.6,275.8 L525.6,276.9" fill="none" stroke="#fff" stroke-width="2.5" stroke-linejoin="round" stroke-linecap="round"/>
<path d="M551.4,284.0 L552.9,285.1 L554.4,286.2 L555.9,287.2 L557.4,288.2 L558.9,289.2 L560.4,290.2 L561.9,290.9 L563.4,291.7 L564.9,292.4 L566.4,293.3 L567.9,294.2 L569.4,295.1 L570.9,296.0 L572.4,296.9 L573.9,297.8 L575.4,298.7 L576.9,299.4 L578.4,300.1 L579.9,300.8 L581.4,301.3 L582.9,301.8 L584.4,302.3 L585.9,302.8 L587.4,303.2 L588.9,303.7 L590.4,304.1 L591.9,304.6 L593.4,305.0 L594.9,305.3" fill="none" stroke="#fff" stroke-width="2.5" stroke-linejoin="round" stroke-linecap="round"/>
<path d="M328.6,298.8 L329.6,298.9 L330.6,299.0 L331.6,299.1 L332.6,299.1 L333.6,299.2 L334.6,299.3 L335.6,299.4 L336.6,299.5 L337.6,299.6 L338.6,299.7 L339.6,299.8 L340.6,299.8 L341.6,299.9 L342.6,299.9 L343.6,300.0 L344.6,300.1 L345.6,300.1 L346.6,300.2 L347.6,300.2 L348.6,300.3 L349.6,300.3 L350.6,300.4 L351.6,300.4 L352.6,300.5 L353.6,300.5 L354.6,300.6 L355.6,300.6 L356.6,300.6 L357.6,300.7 L358.6,300.7 L359.6,300.7 L360.6,300.8 L361.6,300.8 L362.6,300.8 L363.6,300.9 L364.6,300.9 L365.6,300.3 L366.6,298.8 L367.6,296.8 L368.6,294.5 L369.6,292.3 L370.6,289.8 L371.6,287.2 L372.6,283.8 L373.6,280.3 L374.6,276.6 L375.6,272.3 L376.6,267.9 L377.6,263.5 L378.6,259.2 L379.6,255.1 L380.6,251.2 L381.6,246.9 L382.6,241.8 L383.6,236.3 L384.6,231.2 L385.6,227.7 L386.6,225.3 L387.6,223.8 L388.6,221.4 L389.6,219.4 L390.6,218.1 L391.6,216.4 L392.6,215.5 L393.6,215.7 L394.6,217.2 L395.6,218.9 L396.6,219.4 L397.6,219.0 L398.6,219.3 L399.6,220.4 L400.6,221.5 L401.6,221.9 L402.6,222.0 L403.6,222.6 L404.6,223.6 L405.6,224.1 L406.6,223.6 L407.6,223.1 L408.6,223.6 L409.6,224.6 L410.6,225.3 L411.6,225.5 L412.6,226.2 L413.6,227.6 L414.6,228.9 L415.6,229.2 L416.6,228.8 L417.6,228.7 L418.6,229.0 L419.6,228.7 L420.6,227.8 L421.6,227.0 L422.6,227.1 L423.6,227.8 L424.6,227.9 L425.6,227.2 L426.6,226.6 L427.6,226.6 L428.6,226.4 L429.6,225.2 L430.6,223.4 L431.6,222.2 L432.6,222.0 L433.6,221.9 L434.6,221.1 L435.6,220.4 L436.6,220.6 L437.6,221.1 L438.6,221.1 L439.6,220.2 L440.6,219.2 L441.6,219.0 L442.6,219.1 L443.6,218.4 L444.6,217.3 L445.6,217.0 L446.6,217.7 L447.6,218.3 L448.6,218.0 L449.6,217.1 L450.6,216.6 L451.6,216.5 L452.6,215.9 L453.6,214.4 L454.6,212.9 L455.6,212.5 L456.6,212.9 L457.6,213.2 L458.6,212.9 L459.6,213.0 L460.6,213.6 L461.6,213.7 L462.6,212.8 L463.6,211.2 L464.6,210.3 L465.6,210.1 L466.6,209.7 L467.6,209.1 L468.6,208.9 L469.6,209.8 L470.6,211.1 L471.6,211.8 L472.6,211.7 L473.6,211.4 L474.6,211.4 L475.6,211.2 L476.6,211.1 L477.6,211.2 L478.6,212.6 L479.6,215.2 L480.6,217.8 L481.6,219.8 L482.6,221.9 L483.6,224.6 L484.6,227.6 L485.6,229.8 L486.6,231.0 L487.6,232.3 L488.6,234.4 L489.6,236.6 L490.6,238.2 L491.6,239.6 L492.6,241.7 L493.6,244.2 L494.6,246.4 L495.6,247.7 L496.6,248.6 L497.6,250.0 L498.6,251.4 L499.6,252.4 L500.6,252.7 L501.6,253.3 L502.6,254.7 L503.6,256.4 L504.6,257.6 L505.6,258.3 L506.6,259.4 L507.6,261.0 L508.6,262.2 L509.6,262.5 L510.6,262.7 L511.6,263.3 L512.6,264.5 L513.6,265.4 L514.6,266.0 L515.6,266.8 L516.6,268.2 L517.6,269.8 L518.6,270.9 L519.6,271.4 L520.6,272.1 L521.6,273.1 L522.6,274.0 L523.6,274.6 L524.6,275.1 L525.6,276.1" fill="none" stroke="#fff" stroke-width="2.5" stroke-linejoin="round" stroke-linecap="round"/>
<path d="M551.4,284.2 L552.9,285.4 L554.4,286.4 L555.9,287.4 L557.4,288.4 L558.9,289.5 L560.4,290.4 L561.9,291.2 L563.4,291.9 L564.9,292.7 L566.4,293.6 L567.9,294.5 L569.4,295.4 L570.9,296.3 L572.4,297.2 L573.9,298.1 L575.4,298.9 L576.9,299.6 L578.4,300.3 L579.9,301.0 L581.4,301.5 L582.9,302.0 L584.4,302.5 L585.9,303.0 L587.4,303.4 L588.9,303.9 L590.4,304.3 L591.9,304.8 L593.4,305.2 L594.9,305.6" fill="none" stroke="#fff" stroke-width="2.5" stroke-linejoin="round" stroke-linecap="round"/>
<path d="M328.6,298.8 L329.6,298.9 L330.6,299.0 L331.6,299.1 L332.6,299.1 L333.6,299.2 L334.6,299.3 L335.6,299.4 L336.6,299.5 L337.6,299.6 L338.6,299.7 L339.6,299.8 L340.6,299.8 L341.6,299.9 L342.6,299.9 L343.6,300.0 L344.6,300.0 L345.6,300.1 L346.6,300.1 L347.6,300.2 L348.6,300.3 L349.6,300.3 L350.6,300.4 L351.6,300.4 L352.6,300.5 L353.6,300.5 L354.6,300.6 L355.6,300.6 L356.6,300.7 L357.6,300.7 L358.6,300.7 L359.6,300.7 L360.6,300.8 L361.6,300.8 L362.6,300.8 L363.6,300.9 L364.6,300.9 L365.6,300.3 L366.6,298.8 L367.6,296.8 L368.6,294.5 L369.6,292.3 L370.6,289.8 L371.6,287.2 L372.6,283.9 L373.6,280.4 L374.6,276.8 L375.6,272.4 L376.6,268.0 L377.6,263.5 L378.6,259.2 L379.6,255.1 L380.6,250.7 L381.6,245.8 L382.6,240.6 L383.6,236.1 L384.6,231.8 L385.6,228.3 L386.6,225.2 L387.6,223.6 L388.6,221.8 L389.6,219.7 L390.6,217.5 L391.6,214.9 L392.6,213.9 L393.6,214.6 L394.6,216.7 L395.6,219.3 L396.6,221.2 L397.6,222.3 L398.6,223.2 L399.6,224.0 L400.6,225.1 L401.6,226.3 L402.6,227.0 L403.6,226.9 L404.6,226.4 L405.6,226.1 L406.6,226.2 L407.6,226.5 L408.6,226.6 L409.6,226.2 L410.6,225.8 L411.6,226.0 L412.6,226.7 L413.6,227.6 L414.6,228.0 L415.6,227.9 L416.6,227.6 L417.6,227.6 L418.6,227.9 L419.6,228.1 L420.6,227.8 L421.6,227.1 L422.6,226.4 L423.6,226.1 L424.6,226.5 L425.6,227.0 L426.6,227.2 L427.6,227.0 L428.6,226.6 L429.6,226.5 L430.6,226.7 L431.6,226.8 L432.6,226.1 L433.6,224.8 L434.6,223.4 L435.6,222.4 L436.6,221.7 L437.6,221.1 L438.6,220.2 L439.6,219.0 L440.6,218.1 L441.6,217.9 L442.6,218.3 L443.6,218.5 L444.6,218.2 L445.6,217.5 L446.6,216.8 L447.6,216.6 L448.6,216.6 L449.6,216.2 L450.6,215.2 L451.6,213.9 L452.6,212.9 L453.6,212.6 L454.6,212.7 L455.6,212.7 L456.6,212.6 L457.6,212.5 L458.6,212.6 L459.6,213.1 L460.6,213.4 L461.6,213.2 L462.6,212.2 L463.6,210.8 L464.6,209.8 L465.6,209.3 L466.6,209.2 L467.6,209.2 L468.6,209.2 L469.6,209.1 L470.6,209.5 L471.6,210.7 L472.6,212.2 L473.6,213.0 L474.6,213.0 L475.6,212.8 L476.6,213.7 L477.6,215.5 L478.6,217.8 L479.6,219.9 L480.6,221.4 L481.6,222.8 L482.6,224.7 L483.6,227.1 L484.6,229.7 L485.6,231.8 L486.6,233.4 L487.6,234.9 L488.6,236.9 L489.6,239.1 L490.6,241.1 L491.6,242.6 L492.6,243.6 L493.6,244.3 L494.6,245.2 L495.6,246.5 L496.6,248.0 L497.6,249.1 L498.6,250.0 L499.6,251.0 L500.6,252.6 L501.6,254.6 L502.6,256.6 L503.6,258.1 L504.6,259.2 L505.6,260.2 L506.6,261.5 L507.6,263.0 L508.6,264.1 L509.6,264.7 L510.6,264.9 L511.6,265.3 L512.6,266.0 L513.6,267.0 L514.6,267.9 L515.6,268.6 L516.6,269.0 L517.6,269.6 L518.6,270.5 L519.6,271.5 L520.6,272.3 L521.6,272.7 L522.6,272.9 L523.6,273.3 L524.6,274.1 L525.6,275.2" fill="none" stroke="#fff" stroke-width="2.5" stroke-linejoin="round" stroke-linecap="round"/>
<path d="M551.4,284.4 L552.9,285.6 L554.4,286.6 L555.9,287.6 L557.4,288.7 L558.9,289.7 L560.4,290.6 L561.9,291.4 L563.4,292.1 L564.9,292.9 L566.4,293.8 L567.9,294.7 L569.4,295.6 L570.9,296.5 L572.4,297.4 L573.9,298.3 L575.4,299.1 L576.9,299.8 L578.4,300.5 L579.9,301.2 L581.4,301.7 L582.9,302.2 L584.4,302.7 L585.9,303.2 L587.4,303.7 L588.9,304.1 L590.4,304.6 L591.9,305.0 L593.4,305.4 L594.9,305.8" fill="none" stroke="#fff" stroke-width="2.5" stroke-linejoin="round" stroke-linecap="round"/>
<path d="M328.6,298.8 L329.6,298.9 L330.6,299.0 L331.6,299.1 L332.6,299.2 L333.6,299.2 L334.6,299.3 L335.6,299.4 L336.6,299.5 L337.6,299.6 L338.6,299.7 L339.6,299.8 L340.6,299.8 L341.6,299.9 L342.6,300.0 L343.6,300.0 L344.6,300.1 L345.6,300.1 L346.6,300.1 L347.6,300.2 L348.6,300.3 L349.6,300.3 L350.6,300.4 L351.6,300.4 L352.6,300.5 L353.6,300.5 L354.6,300.6 L355.6,300.6 L356.6,300.7 L357.6,300.7 L358.6,300.7 L359.6,300.8 L360.6,300.8 L361.6,300.8 L362.6,300.9 L363.6,300.9 L364.6,300.9 L365.6,300.3 L366.6,298.8 L367.6,296.8 L368.6,294.6 L369.6,292.3 L370.6,289.8 L371.6,287.2 L372.6,283.9 L373.6,280.4 L374.6,276.8 L375.6,272.4 L376.6,267.9 L377.6,263.4 L378.6,259.0 L379.6,254.4 L380.6,249.5 L381.6,244.1 L382.6,238.8 L383.6,233.9 L384.6,228.9 L385.6,224.8 L386.6,222.2 L387.6,221.8 L388.6,220.2 L389.6,217.3 L390.6,214.4 L391.6,212.5 L392.6,213.1 L393.6,214.9 L394.6,216.8 L395.6,218.8 L396.6,220.9 L397.6,222.8 L398.6,223.8 L399.6,223.6 L400.6,223.2 L401.6,223.5 L402.6,224.1 L403.6,224.3 L404.6,224.2 L405.6,224.5 L406.6,225.7 L407.6,227.1 L408.6,227.6 L409.6,227.4 L410.6,227.5 L411.6,228.1 L412.6,228.8 L413.6,228.7 L414.6,228.4 L415.6,228.9 L416.6,230.4 L417.6,231.8 L418.6,232.2 L419.6,232.0 L420.6,232.2 L421.6,232.7 L422.6,232.7 L423.6,231.7 L424.6,230.4 L425.6,230.0 L426.6,230.4 L427.6,230.4 L428.6,229.7 L429.6,228.8 L430.6,228.5 L431.6,228.3 L432.6,227.2 L433.6,225.3 L434.6,223.4 L435.6,222.4 L436.6,221.9 L437.6,221.1 L438.6,220.0 L439.6,219.4 L440.6,219.7 L441.6,220.1 L442.6,219.6 L443.6,218.4 L444.6,217.3 L445.6,216.9 L446.6,216.7 L447.6,216.0 L448.6,215.0 L449.6,214.7 L450.6,215.2 L451.6,215.7 L452.6,215.3 L453.6,214.5 L454.6,213.9 L455.6,213.7 L456.6,213.5 L457.6,212.8 L458.6,212.0 L459.6,212.0 L460.6,212.6 L461.6,212.8 L462.6,212.2 L463.6,211.5 L464.6,211.4 L465.6,211.6 L466.6,211.1 L467.6,210.1 L468.6,209.6 L469.6,210.0 L470.6,211.0 L471.6,211.7 L472.6,212.1 L473.6,212.3 L474.6,212.9 L475.6,213.6 L476.6,214.3 L477.6,214.7 L478.6,215.8 L479.6,217.9 L480.6,220.2 L481.6,222.1 L482.6,223.7 L483.6,226.0 L484.6,229.0 L485.6,231.7 L486.6,233.4 L487.6,234.4 L488.6,235.8 L489.6,237.5 L490.6,239.0 L491.6,239.9 L492.6,240.8 L493.6,242.4 L494.6,244.5 L495.6,246.4 L496.6,247.7 L497.6,248.8 L498.6,250.3 L499.6,251.9 L500.6,253.1 L501.6,253.8 L502.6,254.7 L503.6,256.2 L504.6,258.2 L505.6,259.9 L506.6,261.3 L507.6,262.7 L508.6,264.5 L509.6,266.1 L510.6,267.1 L511.6,267.6 L512.6,268.1 L513.6,269.1 L514.6,270.3 L515.6,271.1 L516.6,271.7 L517.6,272.6 L518.6,273.8 L519.6,274.8 L520.6,275.2 L521.6,275.3 L522.6,275.5 L523.6,276.1 L524.6,276.8 L525.6,277.2" fill="none" stroke="#fff" stroke-width="2.5" stroke-linejoin="round" stroke-linecap="round"/>
<path d="M551.4,284.7 L552.9,285.8 L554.4,286.8 L555.9,287.9 L557.4,288.9 L558.9,289.9 L560.4,290.9 L561.9,291.6 L563.4,292.4 L564.9,293.1 L566.4,294.0 L567.9,294.9 L569.4,295.8 L570.9,296.7 L572.4,297.6 L573.9,298.5 L575.4,299.4 L576.9,300.0 L578.4,300.7 L579.9,301.4 L581.4,301.9 L582.9,302.4 L584.4,302.9 L585.9,303.4 L587.4,303.9 L588.9,304.3 L590.4,304.8 L591.9,305.2 L593.4,305.6 L594.9,306.0" fill="none" stroke="#fff" stroke-width="2.5" stroke-linejoin="round" stroke-linecap="round"/>
<path d="M328.6,298.8 L329.6,298.9 L330.6,299.0 L331.6,299.1 L332.6,299.2 L333.6,299.3 L334.6,299.3 L335.6,299.4 L336.6,299.5 L337.6,299.6 L338.6,299.7 L339.6,299.8 L340.6,299.8 L341.6,299.9 L342.6,299.9 L343.6,300.0 L344.6,300.1 L345.6,300.1 L346.6,300.2 L347.6,300.2 L348.6,300.3 L349.6,300.3 L350.6,300.4 L351.6,300.4 L352.6,300.5 L353.6,300.6 L354.6,300.6 L355.6,300.6 L356.6,300.7 L357.6,300.7 L358.6,300.7 L359.6,300.8 L360.6,300.8 L361.6,300.9 L362.6,300.9 L363.6,300.9 L364.6,300.9 L365.6,300.3 L366.6,298.8 L367.6,296.8 L368.6,294.5 L369.6,292.3 L370.6,289.8 L371.6,287.2 L372.6,283.8 L373.6,280.4 L374.6,276.8 L375.6,272.3 L376.6,268.0 L377.6,263.5 L378.6,259.1 L379.6,254.7 L380.6,250.5 L381.6,245.8 L382.6,240.5 L383.6,235.3 L384.6,231.2 L385.6,228.7 L386.6,226.3 L387.6,225.0 L388.6,223.7 L389.6,222.0 L390.6,219.2 L391.6,216.0 L392.6,215.6 L393.6,216.8 L394.6,217.8 L395.6,218.6 L396.6,220.0 L397.6,221.6 L398.6,222.2 L399.6,222.1 L400.6,222.7 L401.6,223.6 L402.6,223.3 L403.6,222.5 L404.6,222.6 L405.6,223.2 L406.6,222.9 L407.6,222.4 L408.6,223.1 L409.6,224.5 L410.6,225.3 L411.6,225.6 L412.6,226.9 L413.6,228.5 L414.6,229.1 L415.6,228.9 L416.6,229.5 L417.6,230.5 L418.6,230.3 L419.6,229.4 L420.6,229.5 L421.6,230.3 L422.6,230.5 L423.6,230.0 L424.6,230.3 L425.6,231.2 L426.6,231.2 L427.6,230.3 L428.6,229.9 L429.6,229.8 L430.6,228.9 L431.6,227.1 L432.6,226.1 L433.6,226.0 L434.6,225.4 L435.6,224.1 L436.6,223.8 L437.6,224.3 L438.6,224.3 L439.6,223.5 L440.6,223.2 L441.6,223.6 L442.6,223.2 L443.6,221.8 L444.6,220.8 L445.6,220.8 L446.6,220.4 L447.6,219.2 L448.6,218.7 L449.6,219.0 L450.6,219.0 L451.6,218.0 L452.6,217.5 L453.6,217.8 L454.6,217.4 L455.6,215.8 L456.6,214.9 L457.6,215.2 L458.6,214.9 L459.6,213.7 L460.6,212.9 L461.6,213.0 L462.6,212.8 L463.6,211.7 L464.6,211.2 L465.6,211.7 L466.6,211.7 L467.6,210.9 L468.6,210.5 L469.6,211.0 L470.6,211.1 L471.6,210.3 L472.6,209.9 L473.6,210.4 L474.6,210.6 L475.6,209.9 L476.6,210.5 L477.6,212.8 L478.6,215.3 L479.6,217.0 L480.6,218.7 L481.6,221.3 L482.6,223.7 L483.6,225.0 L484.6,226.5 L485.6,229.0 L486.6,231.5 L487.6,233.1 L488.6,235.0 L489.6,237.8 L490.6,240.5 L491.6,242.2 L492.6,243.7 L493.6,245.8 L494.6,247.5 L495.6,248.1 L496.6,248.7 L497.6,250.1 L498.6,251.5 L499.6,252.2 L500.6,252.9 L501.6,254.7 L502.6,256.6 L503.6,257.6 L504.6,258.5 L505.6,260.1 L506.6,261.7 L507.6,262.4 L508.6,262.8 L509.6,263.8 L510.6,265.1 L511.6,265.6 L512.6,266.2 L513.6,267.6 L514.6,269.1 L515.6,270.1 L516.6,271.0 L517.6,272.4 L518.6,273.8 L519.6,274.5 L520.6,274.9 L521.6,275.8 L522.6,276.8 L523.6,277.2 L524.6,277.6 L525.6,278.5" fill="none" stroke="#fff" stroke-width="2.5" stroke-linejoin="round" stroke-linecap="round"/>
<path d="M551.4,284.9 L552.9,286.0 L554.4,287.1 L555.9,288.1 L557.4,289.1 L558.9,290.1 L560.4,291.1 L561.9,291.8 L563.4,292.6 L564.9,293.3 L566.4,294.2 L567.9,295.1 L569.4,296.0 L570.9,296.9 L572.4,297.8 L573.9,298.7 L575.4,299.6 L576.9,300.3 L578.4,301.0 L579.9,301.7 L581.4,302.2 L582.9,302.7 L584.4,303.2 L585.9,303.7 L587.4,304.1 L588.9,304.6 L590.4,305.0 L591.9,305.5 L593.4,305.9 L594.9,306.2" fill="none" stroke="#fff" stroke-width="2.5" stroke-linejoin="round" stroke-linecap="round"/>
<path d="M526.3,274.0 L526.4,223.3 L527.4,181.0 L528.3,178.1 L529.0,182.0 L530.1,190.3 L531.1,182.7 L531.6,177.6 L532.3,174.9 L533.2,176.2 L534.2,185.2 L535.1,202.6 L536.4,195.9 L537.3,191.9 L538.5,193.1 L539.4,193.3 L540.0,185.8 L540.6,178.5 L541.7,175.6 L542.4,179.3 L543.3,185.3 L544.3,192.2 L545.7,206.4 L547.0,215.9 L549.3,213.6 L549.8,224.5 L550.1,252.1 L551.3,283.4" fill="none" stroke="#fff" stroke-width="1.3" stroke-linejoin="round"/>
<path d="M526.0,272.1 L526.7,222.0 L527.3,182.8 L528.2,177.4 L529.2,180.3 L530.0,190.9 L530.9,182.1 L531.5,177.7 L532.5,175.8 L533.2,176.5 L533.8,187.3 L535.2,202.7 L536.6,194.3 L537.4,193.9 L538.8,190.9 L539.7,191.1 L540.2,187.1 L540.9,177.5 L541.4,177.3 L542.5,178.7 L543.3,185.9 L544.3,194.3 L545.6,203.9 L547.0,213.5 L549.2,216.2 L549.7,227.9 L550.4,251.3 L551.1,281.6" fill="none" stroke="#fff" stroke-width="1.3" stroke-linejoin="round"/>
<path d="M526.2,273.9 L526.6,221.8 L527.2,183.7 L528.3,179.2 L529.1,181.6 L530.2,190.3 L530.7,182.3 L531.7,174.7 L532.3,175.2 L533.1,177.4 L534.1,187.7 L535.1,202.8 L536.3,196.4 L537.4,190.8 L538.5,190.2 L539.5,193.6 L540.4,186.6 L540.8,178.1 L541.5,174.8 L542.6,178.6 L543.4,187.0 L544.5,195.8 L545.8,204.7 L546.8,215.6 L549.4,216.6 L549.9,224.1 L550.5,253.0 L551.1,284.4" fill="none" stroke="#fff" stroke-width="1.3" stroke-linejoin="round"/>
<path d="M525.7,281 L525.8,182 L526.4,176 L528.8,175.8 L529.6,180 L530.2,185.5 L530.8,180 L531.4,173 L532.2,172 L533.2,174 L534,182 L535.2,197.5 L536.4,192 L537.2,189 L538.4,188.5 L539.6,190 L540,184 L540.7,175 L541.5,172.8 L542.5,174 L543.3,181 L544.2,190 L545.5,201 L546.8,211 L549.4,212.5 L549.9,222 L550.4,250 L551.6,284.5 L549.6,281 L548.3,262 L547.6,256 L545,255 L543.6,250 L543.3,236 L543,217 L541.8,217 L541.4,232 L540,233 L537,236 L534.4,234 L533,237 L532.8,262 L531,268 L529.3,272 L528,288 L526.8,289 Z" fill="#fff"/>
<path d="M533.4,236 L534.8,262 L535.6,240 L536.8,236 L537.6,268 L538.6,244 L540.4,266 L541.2,240 M543.6,250 L544.6,272 L545.8,256 L547.2,274 L548,262" fill="none" stroke="#fff" stroke-width="1.3" stroke-linejoin="round"/>
<path d="M328.6,298.8 L355.0,300.6 L364.8,300.9 L366.0,300.0 L367.5,297.0 L371.5,287.5 L374.5,277.0 L377.0,266.0 L381.0,248.0 L383.5,237.0 L385.2,231.0 L386.6,234.0 L388.6,239.7 L390.0,232.0 L392.7,222.0 L395.0,224.0 L398.0,226.5 L402.0,229.5 L404.0,233.0 L405.7,237.0 L407.7,236.3 L409.7,231.0 L414.0,229.5 L420.0,230.0 L426.8,230.5 L429.5,235.6 L431.5,231.5 L433.0,237.0 L435.0,244.5 L437.0,250.0 L440.0,256.0 L443.0,255.5 L446.0,257.0 L448.5,262.0 L451.0,264.5 L453.0,262.0 L456.0,260.5 L458.0,263.0 L461.0,267.0 L465.0,270.0 L469.0,270.5 L473.0,269.5 L477.0,270.5 L482.0,272.5 L488.0,274.0 L494.0,277.0 L500.0,280.0 L506.0,284.5 L512.0,288.5 L518.0,291.0 L523.0,292.5 L526.4,293.5 L527.2,286.0 L528.0,278.0 L528.8,283.0 L529.6,289.0 L530.6,284.0 L531.4,277.0 L532.2,282.0 L533.4,288.0 L534.6,290.0 L536.0,283.0 L537.0,275.0 L538.0,270.5 L539.0,277.0 L540.0,284.0 L541.0,279.0 L542.0,272.0 L543.0,279.0 L544.2,286.0 L545.5,284.0 L547.0,286.0 L548.4,291.0 L550.0,292.0 L556.0,293.0 L564.0,295.5 L572.0,298.2 L580.0,301.0 L588.0,303.3 L596.0,305.3" fill="none" stroke="#fff" stroke-width="2.6" stroke-linejoin="round"/>
</g>
<g opacity="0.999">
<g font-family="DejaVu Sans, Liberation Sans, sans-serif" font-size="13.89" fill="#000" stroke="#000" stroke-width="0.2">
<text x="32.4" y="41.80" text-anchor="end">On</text>
<text x="611.7" y="41.80">On</text>
<text x="32.9" y="58.50" text-anchor="end">Y</text>
<text x="611.7" y="58.50">Y</text>
<text x="32.4" y="75.20" text-anchor="end">Off</text>
<text x="611.7" y="75.20">Off</text>
<text x="32.9" y="91.90" text-anchor="end">P</text>
<text x="611.7" y="91.90">P</text>
<text x="32.9" y="108.60" text-anchor="end">O</text>
<text x="611.7" y="108.60">O</text>
<text x="32.9" y="125.30" text-anchor="end">N</text>
<text x="611.7" y="125.30">N</text>
<text x="32.9" y="142.00" text-anchor="end">M</text>
<text x="611.7" y="142.00">M</text>
<text x="32.9" y="158.70" text-anchor="end">L</text>
<text x="611.7" y="158.70">L **</text>
<text x="32.9" y="175.40" text-anchor="end">K</text>
<text x="611.7" y="175.40">K</text>
<text x="32.9" y="192.10" text-anchor="end">J</text>
<text x="611.7" y="192.10">J</text>
<text x="32.9" y="208.80" text-anchor="end">I</text>
<text x="611.7" y="208.80">I</text>
<text x="32.9" y="225.50" text-anchor="end">H</text>
<text x="611.7" y="225.50">H</text>
<text x="32.9" y="242.20" text-anchor="end">G</text>
<text x="611.7" y="242.20">G</text>
<text x="32.9" y="258.90" text-anchor="end">F</text>
<text x="611.7" y="258.90">F</text>
<text x="32.9" y="275.60" text-anchor="end">E</text>
<text x="611.7" y="275.60">E</text>
<text x="32.9" y="292.30" text-anchor="end">D</text>
<text x="611.7" y="292.30">D</text>
<text x="32.9" y="309.00" text-anchor="end">C</text>
<text x="611.7" y="309.00">C</text>
<text x="32.9" y="325.70" text-anchor="end">B</text>
<text x="611.7" y="325.70">B</text>
<text x="32.9" y="342.40" text-anchor="end">A</text>
<text x="611.7" y="342.40">A</text>
<text x="32.4" y="359.10" text-anchor="end">Off</text>
<text x="611.7" y="359.10">Off</text>
<text x="32.9" y="375.80" text-anchor="end">X</text>
<text x="611.7" y="375.80">X</text>
<text x="32.4" y="392.50" text-anchor="end">On</text>
<text x="611.7" y="392.50">On</text>
<text transform="translate(3.8,217.5) rotate(-90)" text-anchor="middle">Dipole</text>
</g>
<g font-family="DejaVu Sans, Liberation Sans, sans-serif" font-size="16.5" fill="#000" stroke="#000" stroke-width="0.2" text-anchor="middle">
<text x="182.0" y="15.7">30.4 (HexS16=1052) X</text>
<text x="462.0" y="15.7">30.4 (HexS16=1052) Y</text>
</g>
<g font-family="DejaVu Sans, Liberation Sans, sans-serif" font-size="8.33" fill="#000" text-anchor="middle">
<rect x="49.05" y="408.2" width="0.9" height="4.6" fill="#000"/>
<text x="49.50" y="425.6">0</text>
<rect x="89.64" y="408.2" width="0.9" height="4.6" fill="#000"/>
<text x="90.09" y="425.6">50</text>
<rect x="130.22" y="408.2" width="0.9" height="4.6" fill="#000"/>
<text x="130.67" y="425.6">100</text>
<rect x="170.81" y="408.2" width="0.9" height="4.6" fill="#000"/>
<text x="171.25" y="425.6">150</text>
<rect x="211.39" y="408.2" width="0.9" height="4.6" fill="#000"/>
<text x="211.84" y="425.6">200</text>
<rect x="251.97" y="408.2" width="0.9" height="4.6" fill="#000"/>
<text x="252.42" y="425.6">250</text>
<rect x="292.56" y="408.2" width="0.9" height="4.6" fill="#000"/>
<text x="293.01" y="425.6">300</text>
<rect x="329.05" y="408.2" width="0.9" height="4.6" fill="#000"/>
<text x="329.50" y="425.6">0</text>
<rect x="369.63" y="408.2" width="0.9" height="4.6" fill="#000"/>
<text x="370.08" y="425.6">50</text>
<rect x="410.22" y="408.2" width="0.9" height="4.6" fill="#000"/>
<text x="410.67" y="425.6">100</text>
<rect x="450.81" y="408.2" width="0.9" height="4.6" fill="#000"/>
<text x="451.25" y="425.6">150</text>
<rect x="491.39" y="408.2" width="0.9" height="4.6" fill="#000"/>
<text x="491.84" y="425.6">200</text>
<rect x="531.97" y="408.2" width="0.9" height="4.6" fill="#000"/>
<text x="532.42" y="425.6">250</text>
<rect x="572.56" y="408.2" width="0.9" height="4.6" fill="#000"/>
<text x="573.01" y="425.6">300</text>
</g>
<g font-family="DejaVu Sans, Liberation Sans, sans-serif" font-size="13.89" fill="#fff">
<rect x="69.1" y="282.70" width="5.7" height="1.2" fill="#fff"/>
<text x="78.7" y="288.90">0</text>
<rect x="350.2" y="282.70" width="5.4" height="1.2" fill="#fff"/>
<text x="358.7" y="288.90">0</text>
<rect x="69.1" y="234.70" width="5.7" height="1.2" fill="#fff"/>
<text x="78.7" y="240.90">5</text>
<rect x="350.2" y="234.70" width="5.4" height="1.2" fill="#fff"/>
<text x="358.7" y="240.90">5</text>
<rect x="69.1" y="186.70" width="5.7" height="1.2" fill="#fff"/>
<text x="78.7" y="192.90">10</text>
<rect x="350.2" y="186.70" width="5.4" height="1.2" fill="#fff"/>
<text x="358.7" y="192.90">10</text>
<rect x="69.1" y="138.70" width="5.7" height="1.2" fill="#fff"/>
<text x="78.7" y="144.90">15</text>
<rect x="350.2" y="138.70" width="5.4" height="1.2" fill="#fff"/>
<text x="358.7" y="144.90">15</text>
<rect x="69.1" y="90.70" width="5.7" height="1.2" fill="#fff"/>
<text x="78.7" y="96.90">20</text>
<rect x="350.2" y="90.70" width="5.4" height="1.2" fill="#fff"/>
<text x="358.7" y="96.90">20</text>
<rect x="69.1" y="42.70" width="5.7" height="1.2" fill="#fff"/>
<text x="78.7" y="48.90">25</text>
<rect x="350.2" y="42.70" width="5.4" height="1.2" fill="#fff"/>
<text x="358.7" y="48.90">25</text>
</g>
<g font-family="DejaVu Sans, Liberation Sans, sans-serif" font-size="13.89" fill="#fff" clip-path="url(#cl)">
<text x="319.0" y="288.90" text-anchor="end">0</text>
<text x="319.0" y="240.90" text-anchor="end">5</text>
<text x="319.0" y="192.90" text-anchor="end">10</text>
<text x="319.0" y="144.90" text-anchor="end">15</text>
<text x="319.0" y="96.90" text-anchor="end">20</text>
<text x="319.0" y="48.90" text-anchor="end">25</text>
</g>
</g>
</svg>
</body></html>
